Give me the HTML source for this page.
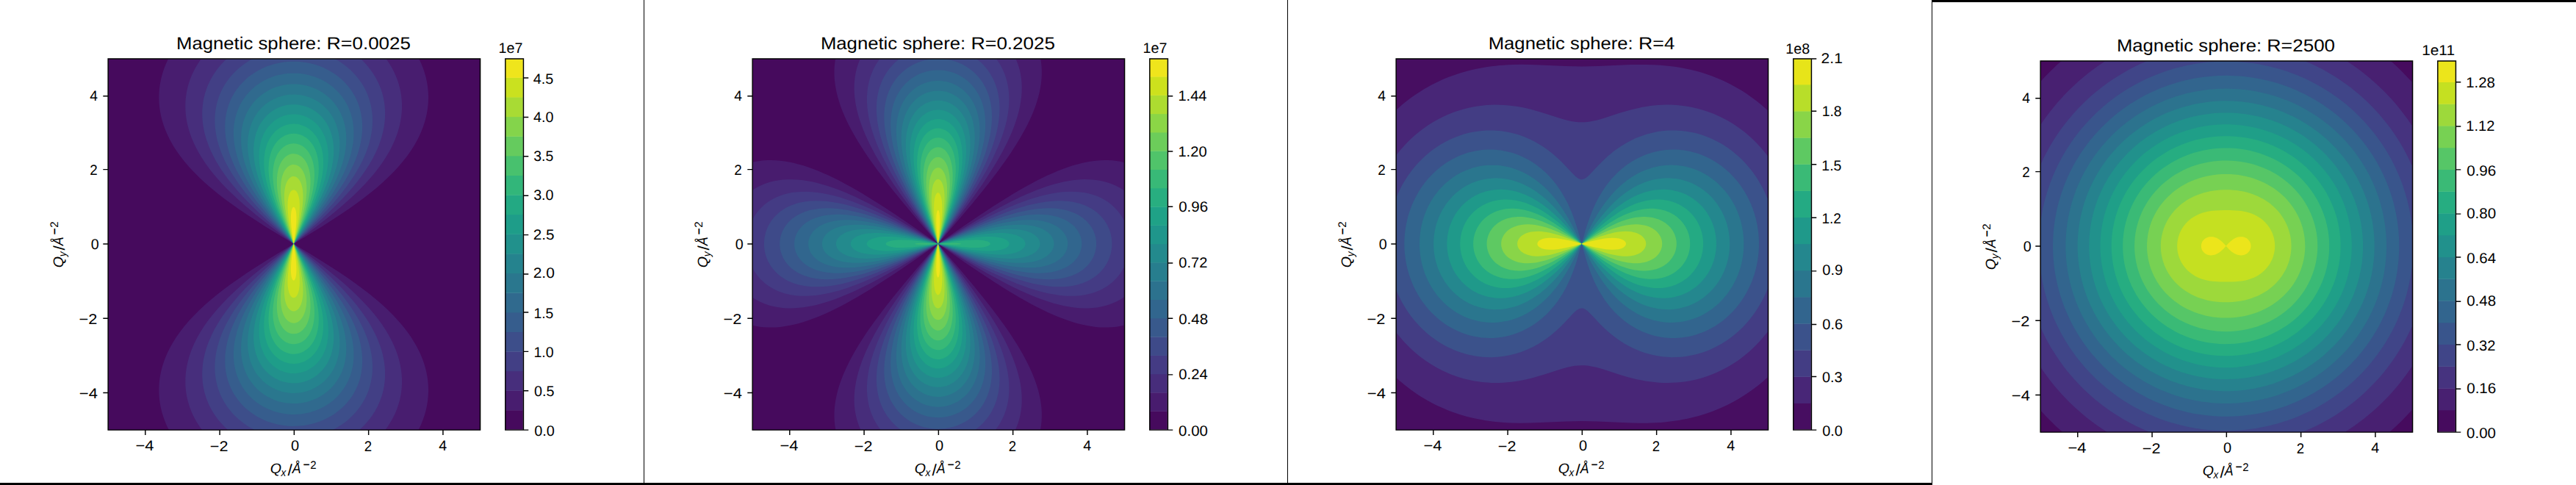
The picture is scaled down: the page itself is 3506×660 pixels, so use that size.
<!DOCTYPE html>
<html><head><meta charset="utf-8"><title>Magnetic sphere</title>
<style>html,body{margin:0;padding:0;background:#fff;overflow:hidden}svg{display:block}text{font-family:"Liberation Sans",sans-serif;fill:#000;text-rendering:geometricPrecision}</style></head>
<body>
<svg width="3506" height="660" viewBox="0 0 3506 660">
<rect width="3506" height="660" fill="#fff"/>
<g transform="translate(0 0) scale(1.36875)">
<rect width="640" height="480" fill="#fff"/>
<clipPath id="c0"><rect x="107.5" y="58.5" width="370" height="369"/><rect x="502.5" y="58.5" width="18" height="369"/></clipPath>
<g clip-path="url(#c0)">
<rect x="107" y="57" width="371" height="371" fill="#460a5d"/>
<path fill="#481d6f" fill-rule="evenodd" d="M167.8 427.2l248.4 0 1.37 -2.77 1.26 -2.78 1.15 -2.77 1.04 -2.78 0.93 -2.77 0.84 -2.78 0.81 -3.08 0.62 -2.77 0.58 -3.09 0.42 -2.77 0.33 -2.77 0.24 -3.09 0.13 -2.77 0.03 -3.08 -0.09 -3.09 -0.18 -2.77 -0.27 -2.77 -0.41 -3.09 -0.47 -2.77 -0.63 -3.08 -0.67 -2.78 -0.85 -3.08 -0.87 -2.78 -1.08 -3.08 -1.08 -2.77 -1.31 -3.08 -1.28 -2.78 -1.39 -2.77 -1.65 -3.09 -1.6 -2.77 -1.7 -2.77 -1.8 -2.78 -1.91 -2.77 -2.01 -2.78 -4.09 -5.24 -4.47 -5.24 -4.86 -5.24 -5.24 -5.24 -5.63 -5.24 -6.37 -5.55 -6.41 -5.24 -6.76 -5.24 -7.11 -5.24 -7.66 -5.39 -8.43 -5.71 -8.22 -5.36 -9.24 -5.87 -12.03 -7.44 -15.41 -9.37 -0.38 -0.32 0 -0.3 0.38 -0.32 15.41 -9.37 12.03 -7.44 10.17 -6.47 8.94 -5.86 7.89 -5.38 7.4 -5.24 7.07 -5.24 6.34 -4.93 6.38 -5.24 6.36 -5.55 5.6 -5.24 5.22 -5.24 4.83 -5.24 4.45 -5.24 4.07 -5.24 3.69 -5.24 1.8 -2.78 1.7 -2.77 1.6 -2.77 1.65 -3.09 1.39 -2.77 1.28 -2.78 1.31 -3.08 1.08 -2.77 1.08 -3.08 0.87 -2.78 0.85 -3.08 0.67 -2.78 0.63 -3.08 0.47 -2.77 0.41 -3.09 0.27 -2.77 0.18 -2.77 0.09 -3.09 -0.03 -3.08 -0.13 -2.77 -0.24 -3.09 -0.33 -2.77 -0.42 -2.77 -0.58 -3.09 -0.62 -2.77 -0.81 -3.08 -0.84 -2.78 -0.93 -2.77 -1.04 -2.78 -1.15 -2.77 -1.26 -2.78 -1.37 -2.77 -248.4 0 -1.37 2.77 -1.26 2.78 -1.15 2.77 -1.04 2.78 -0.93 2.77 -0.84 2.78 -0.81 3.08 -0.62 2.77 -0.58 3.09 -0.42 2.77 -0.33 2.77 -0.24 3.09 -0.13 2.77 -0.03 3.08 0.09 3.09 0.18 2.77 0.27 2.77 0.41 3.09 0.47 2.77 0.63 3.08 0.67 2.78 0.85 3.08 0.87 2.78 1.08 3.08 1.08 2.77 1.31 3.08 1.28 2.78 1.39 2.77 1.65 3.09 1.6 2.77 1.7 2.77 1.8 2.78 1.91 2.77 2.01 2.78 4.09 5.24 4.47 5.24 4.86 5.24 5.24 5.24 5.63 5.24 6.37 5.55 6.41 5.24 6.76 5.24 7.11 5.24 7.66 5.39 8.43 5.71 8.22 5.36 9.24 5.87 12.03 7.44 15.41 9.37 0.38 0.32 0 0.3 -0.38 0.32 -15.41 9.37 -12.03 7.44 -10.17 6.47 -8.94 5.86 -7.89 5.38 -7.4 5.24 -7.07 5.24 -6.34 4.93 -6.38 5.24 -6.36 5.55 -5.6 5.24 -5.22 5.24 -4.83 5.24 -4.45 5.24 -4.07 5.24 -3.69 5.24 -1.8 2.78 -1.7 2.77 -1.6 2.77 -1.65 3.09 -1.39 2.77 -1.28 2.78 -1.31 3.08 -1.08 2.77 -1.08 3.08 -0.87 2.78 -0.85 3.08 -0.67 2.78 -0.63 3.08 -0.47 2.77 -0.41 3.09 -0.27 2.77 -0.18 2.77 -0.09 3.09 0.03 3.08 0.13 2.77 0.24 3.09 0.33 2.77 0.42 2.77 0.58 3.09 0.62 2.77 0.81 3.08 0.84 2.78 0.93 2.77 1.04 2.78 1.15 2.77 1.26 2.78z"/>
<path fill="#472e7c" fill-rule="evenodd" d="M200.49 426.89l0.23 0.31 182.56 0 2.28 -3.17 2.15 -3.3 2 -3.39 1.78 -3.4 1.04 -2.15 1.08 -2.47 0.99 -2.46 0.89 -2.47 0.81 -2.47 0.71 -2.46 0.62 -2.47 0.54 -2.47 0.46 -2.46 0.37 -2.47 0.29 -2.46 0.23 -2.78 0.12 -2.46 0.04 -2.78 -0.04 -2.46 -0.15 -2.78 -0.2 -2.46 -0.33 -2.78 -0.37 -2.46 -0.5 -2.78 -0.6 -2.77 -0.61 -2.47 -0.68 -2.47 -0.86 -2.77 -1.88 -5.24 -2.22 -5.24 -2.38 -4.93 -2.86 -5.24 -3 -4.94 -3.5 -5.24 -3.6 -4.93 -3.89 -4.93 -4.18 -4.93 -4.74 -5.24 -4.74 -4.93 -5.33 -5.24 -5.27 -4.94 -5.86 -5.24 -6.48 -5.55 -6.72 -5.54 -6.55 -5.24 -7.91 -6.17 -9.29 -7.09 -11.86 -8.91 -0.76 -0.65 0 -0.3 0.76 -0.65 13.08 -9.83 9.27 -7.09 8.66 -6.79 8.37 -6.78 6.94 -5.85 5.97 -5.25 6.03 -5.54 5.41 -5.24 5.41 -5.55 5.07 -5.55 4.47 -5.24 4.37 -5.55 4.01 -5.55 3.44 -5.24 3.29 -5.55 1.51 -2.77 1.41 -2.78 1.45 -3.08 1.22 -2.77 1.12 -2.78 1.02 -2.77 0.94 -2.78 0.92 -3.08 0.74 -2.77 0.64 -2.78 0.54 -2.77 0.5 -3.08 0.34 -2.78 0.25 -2.77 0.17 -3.09 0.04 -2.77 -0.05 -2.77 -0.15 -2.78 -0.26 -2.77 -0.35 -2.78 -0.46 -2.77 -0.57 -2.78 -0.67 -2.77 -0.78 -2.77 -0.9 -2.78 -0.89 -2.47 -1.12 -2.77 -1.1 -2.47 -1.35 -2.77 -1.32 -2.47 -1.43 -2.46 -1.54 -2.47 -1.67 -2.46 -1.79 -2.47 -182.56 0 -2.28 3.17 -2.15 3.3 -2 3.39 -1.78 3.4 -1.04 2.15 -1.08 2.47 -0.99 2.46 -0.89 2.47 -0.81 2.47 -0.71 2.46 -0.62 2.47 -0.54 2.47 -0.46 2.46 -0.37 2.47 -0.29 2.46 -0.23 2.78 -0.12 2.46 -0.04 2.78 0.04 2.46 0.15 2.78 0.2 2.46 0.33 2.78 0.37 2.46 0.5 2.78 0.6 2.77 0.61 2.47 0.68 2.47 0.86 2.77 1.88 5.24 2.22 5.24 2.38 4.93 2.86 5.24 3 4.94 3.5 5.24 3.6 4.93 3.89 4.93 4.18 4.93 4.74 5.24 4.74 4.93 5.33 5.24 5.27 4.94 5.86 5.24 6.48 5.55 6.72 5.54 6.55 5.24 7.91 6.17 9.29 7.09 11.86 8.91 0.76 0.65 0 0.3 -0.76 0.65 -13.08 9.83 -9.27 7.09 -8.66 6.79 -8.37 6.78 -6.94 5.85 -5.97 5.25 -6.03 5.54 -5.41 5.24 -5.41 5.55 -5.07 5.55 -4.47 5.24 -4.37 5.55 -4.01 5.55 -3.44 5.24 -3.12 5.24 -1.51 2.77 -1.42 2.78 -1.33 2.77 -1.24 2.78 -1.26 3.08 -1.03 2.77 -0.95 2.78 -0.85 2.77 -0.83 3.09 -0.65 2.77 -0.61 3.08 -0.45 2.78 -0.36 2.77 -0.26 2.78 -0.18 3.08 -0.05 2.77 0.04 2.78 0.14 2.77 0.24 2.77 0.35 2.78 0.44 2.77 0.56 2.78 0.66 2.77 0.77 2.78 0.88 2.77 0.88 2.47 0.98 2.46 1.21 2.78 1.35 2.77 1.3 2.47 1.42 2.46 1.53 2.47 1.64 2.47z"/>
<path fill="#423f85" fill-rule="evenodd" d="M225.98 426.89l0.34 0.31 131.36 0 3.55 -3.39 3.36 -3.63 3.09 -3.76 2.68 -3.71 2.54 -4.01 2.2 -4 2.02 -4.32 1.69 -4.31 1.29 -4.01 1.1 -4.32 0.83 -4.31 0.55 -4.32 0.3 -4.31 0.05 -4.32 -0.2 -4.31 -0.48 -4.63 -0.74 -4.62 -0.93 -4.32 -1.25 -4.62 -1.51 -4.63 -1.75 -4.62 -2.01 -4.62 -2.25 -4.63 -2.5 -4.62 -2.74 -4.63 -2.76 -4.31 -2.97 -4.32 -3.4 -4.62 -3.62 -4.62 -3.83 -4.63 -4.04 -4.62 -4.23 -4.63 -4.42 -4.62 -4.58 -4.62 -5.07 -4.94 -5.56 -5.24 -5.72 -5.24 -6.18 -5.54 -17.94 -15.73 0 -0.3 0.52 -0.5 12.17 -10.6 8.7 -7.71 7.78 -7.09 7.19 -6.78 5.96 -5.86 5.7 -5.85 5.41 -5.86 4.83 -5.55 4.79 -5.86 4.21 -5.54 4.09 -5.86 3.54 -5.55 3.2 -5.55 2.85 -5.55 1.29 -2.77 1.2 -2.78 1.12 -2.77 1.02 -2.77 1.03 -3.09 0.84 -2.77 0.81 -3.08 0.64 -2.78 0.59 -3.08 0.44 -2.77 0.34 -2.78 0.24 -2.77 0.16 -3.09 0.03 -2.77 -0.07 -2.77 -0.18 -2.78 -0.27 -2.77 -0.39 -2.78 -0.5 -2.77 -0.61 -2.78 -0.73 -2.77 -0.75 -2.47 -0.85 -2.46 -1.08 -2.78 -1.2 -2.74 -1.21 -2.5 -1.32 -2.46 -1.44 -2.47 -1.56 -2.47 -1.56 -2.25 -1.77 -2.37 -1.74 -2.16 -1.87 -2.15 -2.01 -2.16 -2.16 -2.16 -1.99 -1.85 -131.36 0 -3.55 3.39 -3.36 3.63 -3.09 3.76 -2.68 3.71 -2.54 4.01 -2.2 4 -2.02 4.32 -1.69 4.31 -1.29 4.01 -1.1 4.32 -0.83 4.31 -0.55 4.32 -0.3 4.31 -0.05 4.32 0.2 4.31 0.48 4.63 0.74 4.62 0.93 4.32 1.25 4.62 1.51 4.63 1.75 4.62 2.01 4.62 2.25 4.63 2.5 4.62 2.74 4.63 2.76 4.31 2.97 4.32 3.4 4.62 3.62 4.62 3.83 4.63 4.04 4.62 4.23 4.63 4.42 4.62 4.58 4.62 5.07 4.94 5.56 5.24 5.72 5.24 6.18 5.54 17.94 15.73 0 0.3 -0.52 0.5 -12.17 10.6 -8.36 7.4 -7.79 7.09 -7.2 6.78 -5.97 5.86 -5.72 5.85 -5.42 5.86 -4.85 5.55 -4.8 5.86 -4.46 5.85 -3.89 5.55 -3.55 5.55 -3.22 5.55 -2.87 5.55 -1.3 2.77 -1.21 2.78 -1.13 2.77 -1.03 2.78 -0.95 2.77 -0.94 3.08 -0.83 3.09 -0.64 2.77 -0.61 3.08 -0.45 2.78 -0.35 2.77 -0.25 2.78 -0.17 3.08 -0.04 2.77 0.06 2.78 0.16 2.77 0.27 2.77 0.37 2.78 0.49 2.77 0.6 2.78 0.72 2.77 0.73 2.47 0.95 2.77 0.95 2.47 1.2 2.77 1.19 2.47 1.3 2.47 1.42 2.46 1.46 2.33 1.56 2.29 1.82 2.47 1.72 2.16 1.85 2.16 1.99 2.15 2.14 2.16z"/>
<path fill="#3d4e8a" fill-rule="evenodd" d="M252.09 426.89l0.59 0.31 78.64 0 3.68 -2.02 3.39 -2.09 3.39 -2.34 3.09 -2.38 2.99 -2.58 2.86 -2.74 2.63 -2.8 2.58 -3.09 2.29 -3.08 2.06 -3.11 1.96 -3.36 1.72 -3.39 1.49 -3.39 1.38 -3.7 1.13 -3.7 0.9 -3.7 0.69 -3.7 0.48 -3.7 0.28 -3.7 0.09 -3.7 -0.1 -3.7 -0.3 -4 -0.52 -4.01 -0.65 -3.7 -0.9 -4.01 -0.99 -3.7 -1.27 -4 -1.44 -4.01 -1.63 -4.01 -1.81 -4.01 -1.98 -4 -2.15 -4.01 -2.32 -4.01 -2.48 -4.01 -2.64 -4 -2.79 -4.01 -2.94 -4.01 -3.33 -4.31 -3.48 -4.32 -3.63 -4.31 -3.77 -4.32 -3.9 -4.32 -4.3 -4.62 -4.71 -4.93 -10.07 -10.17 -14.13 -13.88 0 -0.3 12.89 -12.64 9.2 -9.25 6.24 -6.47 5.45 -5.86 5.77 -6.47 5.21 -6.17 4.91 -6.16 4.37 -5.86 4.25 -6.17 1.99 -3.08 1.89 -3.08 3.33 -5.86 1.61 -3.08 1.37 -2.78 1.27 -2.77 1.33 -3.08 1.21 -3.08 1 -2.78 0.92 -2.77 0.91 -3.09 0.72 -2.77 0.63 -2.77 0.59 -3.09 0.47 -3.08 0.36 -3.08 0.21 -2.78 0.12 -3.08 0 -2.77 -0.13 -3.09 -0.23 -2.77 -0.39 -3.08 -0.46 -2.78 -0.59 -2.77 -0.72 -2.78 -0.81 -2.68 -0.89 -2.56 -1.1 -2.77 -1.11 -2.47 -1.23 -2.46 -1.36 -2.47 -1.5 -2.46 -1.65 -2.47 -1.64 -2.24 -1.9 -2.38 -1.88 -2.16 -2.08 -2.19 -2.15 -2.1 -2.16 -1.93 -2.17 -1.8 -2.46 -1.87 -2.46 -1.73 -2.54 -1.64 -2.7 -1.59 -2.76 -1.49 -78.64 0 -3.68 2.02 -3.39 2.09 -3.39 2.34 -3.09 2.38 -2.99 2.58 -2.86 2.74 -2.63 2.8 -2.58 3.09 -2.29 3.08 -2.06 3.11 -1.96 3.36 -1.72 3.39 -1.49 3.39 -1.38 3.7 -1.13 3.7 -0.9 3.7 -0.69 3.7 -0.48 3.7 -0.28 3.7 -0.09 3.7 0.1 3.7 0.3 4 0.52 4.01 0.65 3.7 0.9 4.01 0.99 3.7 1.27 4 1.44 4.01 1.63 4.01 1.81 4.01 1.98 4 2.15 4.01 2.32 4.01 2.48 4.01 2.64 4 2.79 4.01 2.94 4.01 3.33 4.31 3.48 4.32 3.63 4.31 3.77 4.32 3.9 4.32 4.3 4.62 4.71 4.93 10.07 10.17 14.13 13.88 0 0.3 -12.89 12.64 -9.2 9.25 -5.95 6.17 -5.46 5.85 -5.78 6.48 -5.23 6.16 -4.93 6.17 -4.37 5.85 -4.27 6.17 -3.72 5.85 -3.37 5.86 -1.63 3.08 -1.53 3.09 -1.42 3.08 -1.2 2.77 -1.22 3.09 -1.02 2.77 -0.92 2.78 -0.92 3.08 -0.73 2.77 -0.64 2.78 -0.61 3.08 -0.48 3.08 -0.37 3.08 -0.22 2.78 -0.13 3.08 -0.01 2.78 0.11 3.08 0.22 2.77 0.33 2.78 0.44 2.77 0.56 2.77 0.69 2.78 0.81 2.77 0.95 2.78 1.07 2.74 1.1 2.5 1.22 2.46 1.38 2.54 1.44 2.4 1.63 2.46 1.8 2.47 1.71 2.16 1.86 2.15 2.04 2.19 2.16 2.12 2.15 1.95 2.16 1.81 2.47 1.9 2.46 1.75 2.47 1.61 2.47 1.48z"/>
<path fill="#365d8d" fill-rule="evenodd" d="M286.83 423.5l3.47 0.16 3.7 -0.01 3.7 -0.19 3.39 -0.33 3.39 -0.5 3.4 -0.65 3.39 -0.83 3.39 -1 3.39 -1.18 3.08 -1.24 3.08 -1.42 3.09 -1.61 3.08 -1.81 2.77 -1.83 2.78 -2.04 2.46 -2.01 2.56 -2.31 2.37 -2.39 2.16 -2.41 2.09 -2.6 1.92 -2.66 1.67 -2.58 1.59 -2.78 1.55 -3.08 1.35 -3.08 1.15 -3.08 0.97 -3.09 0.8 -3.08 0.64 -3.08 0.52 -3.39 0.35 -3.39 0.17 -3.39 0.02 -3.09 -0.11 -3.08 -0.24 -3.08 -0.36 -3.08 -0.49 -3.09 -0.66 -3.39 -0.73 -3.08 -0.92 -3.39 -0.96 -3.08 -1.18 -3.39 -1.3 -3.39 -1.42 -3.4 -1.55 -3.39 -1.66 -3.39 -1.78 -3.39 -2.07 -3.7 -2.01 -3.39 -2.11 -3.39 -2.21 -3.39 -2.53 -3.7 -5.14 -7.09 -5.75 -7.4 -6.35 -7.7 -6.94 -8.02 -8.02 -8.94 -11.63 -12.61 -0.3 0 -0.29 0.28 -15.24 16.65 -8.42 9.55 -6.99 8.33 -5.88 7.4 -5.27 7.09 -2.39 3.39 -2.49 3.7 -2.19 3.39 -2.08 3.39 -1.98 3.39 -1.87 3.39 -1.76 3.39 -1.49 3.08 -1.54 3.39 -1.29 3.09 -1.3 3.39 -1.08 3.08 -1.06 3.39 -0.84 3.08 -0.74 3.08 -0.62 3.09 -0.51 3.08 -0.39 3.08 -0.26 3.08 -0.13 2.78 -0.02 3.39 0.13 3.08 0.3 3.39 0.42 3.09 0.58 3.08 0.73 3.08 0.8 2.78 1.04 3.01 1.13 2.84 1.33 2.89 1.4 2.66 1.64 2.78 1.62 2.46 1.82 2.48 2 2.45 2.01 2.24 2.15 2.18 2.47 2.25 2.47 2.04 2.46 1.84 2.47 1.68 2.77 1.7 2.78 1.53 3.08 1.51 3.08 1.33 3.08 1.16 3.09 1.01 3.08 0.85 3.08 0.72 3.39 0.62 3.39 0.47zM291.56 241.94l0.29 0.28 0.3 0 9.09 -9.84 6.17 -6.78 5.48 -6.17 5.06 -5.85 4.39 -5.24 3.24 -4.01 3.15 -4.01 2.8 -3.7 2.71 -3.7 2.39 -3.39 2.49 -3.7 2.19 -3.39 2.26 -3.7 1.97 -3.39 1.86 -3.39 1.75 -3.39 1.63 -3.39 1.52 -3.39 1.39 -3.39 1.27 -3.39 1.04 -3.08 1.02 -3.39 0.82 -3.09 0.76 -3.39 0.58 -3.08 0.46 -3.08 0.34 -3.09 0.21 -3.08 0.09 -3.08 -0.06 -3.39 -0.19 -3.08 -0.38 -3.39 -0.5 -3.09 -0.65 -3.08 -0.82 -3.08 -0.99 -3.08 -1.17 -3.09 -1.36 -3.08 -1.41 -2.77 -1.59 -2.78 -1.67 -2.58 -1.92 -2.66 -1.97 -2.47 -2.2 -2.46 -2.13 -2.16 -2.34 -2.16 -2.6 -2.15 -2.56 -1.92 -2.78 -1.88 -2.77 -1.68 -3.08 -1.67 -3.08 -1.47 -3.09 -1.3 -3.08 -1.13 -3.39 -1.06 -3.08 -0.81 -3.39 -0.73 -3.4 -0.57 -3.39 -0.41 -3.39 -0.25 -3.39 -0.1 -3.39 0.06 -3.39 0.21 -3.39 0.36 -3.39 0.53 -3.39 0.68 -3.08 0.77 -3.4 1.02 -3.08 1.08 -3.08 1.24 -3.08 1.42 -3.09 1.61 -2.77 1.62 -2.77 1.81 -2.69 1.95 -2.55 2.05 -2.47 2.2 -2.26 2.22 -2.26 2.47 -2.03 2.46 -1.83 2.47 -1.79 2.69 -1.54 2.6 -1.55 2.92 -1.33 2.89 -1.22 3.08 -1.04 3.08 -0.87 3.09 -0.7 3.08 -0.54 3.08 -0.43 3.39 -0.24 3.08 -0.1 3.39 0.05 3.09 0.18 3.08 0.3 3.08 0.42 3.09 0.54 3.08 0.66 3.08 0.77 3.08 0.97 3.39 1.11 3.39 1.12 3.09 1.34 3.39 1.47 3.39 1.59 3.39 1.71 3.39 1.82 3.39 1.93 3.39 2.03 3.39 2.14 3.39 4.58 6.79 2.65 3.69 2.76 3.7 5.54 7.09 6.13 7.4 6.67 7.71 7.74 8.63z"/>
<path fill="#306a8e" fill-rule="evenodd" d="M286.65 411.79l3.35 0.19 3.08 0.02 3.08 -0.12 3.08 -0.28 3.09 -0.43 3.08 -0.59 3.08 -0.75 2.78 -0.82 2.77 -0.97 2.77 -1.12 2.78 -1.28 2.77 -1.46 2.75 -1.64 2.49 -1.67 2.47 -1.85 2.16 -1.8 2.16 -1.99 2.15 -2.21 1.93 -2.19 1.77 -2.25 1.69 -2.38 1.56 -2.46 1.39 -2.47 1.37 -2.77 1.2 -2.78 1.02 -2.77 0.87 -2.78 0.8 -3.08 0.62 -3.08 0.47 -3.09 0.31 -3.08 0.17 -3.08 0.03 -2.77 -0.09 -3.09 -0.19 -2.77 -0.34 -3.08 -0.45 -3.09 -0.51 -2.77 -0.67 -3.08 -0.79 -3.09 -0.89 -3.08 -1 -3.08 -1.1 -3.08 -1.32 -3.39 -1.31 -3.09 -1.54 -3.39 -1.5 -3.08 -1.76 -3.39 -3.62 -6.47 -4.17 -6.79 -4.52 -6.78 -5.05 -7.09 -5.58 -7.4 -6.33 -8.01 -8.09 -9.87 -8.77 -10.43 -0.3 0 -0.26 0.26 -12.84 15.42 -7.45 9.24 -6.39 8.33 -5.16 7.09 -4.63 6.78 -4.12 6.47 -3.77 6.47 -1.84 3.4 -1.58 3.08 -1.49 3.08 -1.4 3.08 -1.31 3.09 -1.21 3.08 -1 2.77 -1.02 3.08 -0.83 2.78 -0.81 3.08 -0.71 3.08 -0.54 2.78 -0.45 2.77 -0.35 2.78 -0.24 2.77 -0.15 2.78 -0.04 3.08 0.08 2.77 0.23 3.09 0.33 2.77 0.45 2.77 0.59 2.78 0.72 2.77 0.87 2.78 1.02 2.77 1.06 2.47 1.19 2.46 1.35 2.47 1.45 2.36 1.54 2.26 1.64 2.16 1.81 2.16 2 2.16 1.95 1.89 2.16 1.9 2.16 1.72 2.17 1.58 2.45 1.6 2.46 1.44 2.47 1.29 2.47 1.15 2.77 1.13 2.78 0.99 2.77 0.83 2.77 0.7 2.78 0.57 3.08 0.48zM291.59 241.94l0.26 0.26 0.3 0 0.26 -0.26 5.42 -6.48 6.15 -7.39 5.28 -6.48 4.65 -5.85 4.49 -5.86 5.63 -7.71 4.85 -7.09 2.2 -3.39 2.29 -3.7 2.01 -3.39 1.91 -3.39 1.8 -3.39 1.56 -3.08 1.6 -3.39 1.37 -3.09 1.26 -3.08 1.17 -3.08 1.07 -3.08 0.97 -3.09 0.86 -3.08 0.75 -3.08 0.64 -3.08 0.48 -2.78 0.42 -3.08 0.27 -2.77 0.17 -2.78 0.06 -2.77 -0.06 -3.09 -0.19 -3.08 -0.34 -3.08 -0.44 -2.78 -0.57 -2.77 -0.71 -2.77 -0.85 -2.78 -1.01 -2.77 -1.16 -2.75 -1.21 -2.49 -1.35 -2.47 -1.52 -2.47 -1.7 -2.46 -1.66 -2.16 -1.83 -2.16 -2.14 -2.26 -2.16 -2.04 -2.15 -1.85 -2.16 -1.68 -2.47 -1.72 -2.46 -1.55 -2.47 -1.38 -2.77 -1.38 -2.78 -1.21 -2.77 -1.05 -2.78 -0.9 -2.77 -0.76 -3.08 -0.68 -2.78 -0.48 -3.08 -0.39 -3.08 -0.23 -3.09 -0.08 -3.08 0.06 -3.08 0.22 -3.08 0.37 -2.78 0.47 -3.08 0.67 -2.77 0.74 -2.78 0.88 -2.77 1.04 -2.78 1.19 -2.46 1.2 -2.78 1.52 -2.46 1.53 -2.47 1.7 -2.16 1.65 -2.16 1.82 -2.15 2.02 -1.89 1.95 -1.89 2.15 -1.77 2.25 -1.69 2.38 -1.56 2.46 -1.39 2.47 -1.23 2.47 -1.21 2.77 -1.05 2.77 -0.88 2.78 -0.74 2.77 -0.6 2.78 -0.47 2.77 -0.37 3.08 -0.23 3.09 -0.08 3.08 0.04 2.77 0.15 2.78 0.24 2.77 0.4 3.09 0.45 2.77 0.62 3.08 0.73 3.08 0.75 2.78 0.94 3.08 1.03 3.08 1.15 3.09 1.23 3.08 1.34 3.08 1.43 3.08 1.51 3.09 1.77 3.39 3.67 6.47 4 6.47 4.74 7.09 4.86 6.79 5.59 7.39 5.84 7.4 6.8 8.33z"/>
<path fill="#2a778e" fill-rule="evenodd" d="M287.82 401l2.48 0.13 2.78 0.02 2.77 -0.13 2.78 -0.27 2.77 -0.42 2.78 -0.57 2.77 -0.73 2.47 -0.78 2.46 -0.93 2.47 -1.06 2.46 -1.23 2.16 -1.21 2.3 -1.45 2.18 -1.54 2 -1.57 2.15 -1.89 1.85 -1.81 1.85 -2.01 1.63 -1.97 1.6 -2.16 1.44 -2.16 1.46 -2.46 1.13 -2.16 1.13 -2.47 1 -2.46 0.95 -2.78 0.71 -2.46 0.66 -2.78 0.51 -2.77 0.39 -2.78 0.26 -2.77 0.13 -2.78 0.03 -2.46 -0.07 -2.78 -0.19 -2.77 -0.28 -2.77 -0.38 -2.78 -0.48 -2.77 -0.57 -2.78 -0.66 -2.77 -0.74 -2.78 -0.93 -3.08 -0.92 -2.77 -1.12 -3.09 -1.21 -3.08 -1.3 -3.08 -2.87 -6.17 -3.02 -5.85 -3.66 -6.48 -3.95 -6.47 -4.64 -7.09 -4.69 -6.78 -5.79 -8.02 -7.18 -9.55 -7.3 -9.56 -0.23 -0.23 -0.3 0 -0.23 0.23 -10.1 13.26 -7.08 9.55 -5.89 8.33 -4.55 6.78 -4.09 6.47 -3.8 6.47 -3.33 6.17 -2.87 5.86 -2.56 5.85 -2.24 5.86 -1.8 5.55 -0.77 2.77 -0.69 2.78 -0.6 2.77 -0.51 2.78 -0.41 2.77 -0.29 2.47 -0.23 2.77 -0.11 2.47 -0.03 2.77 0.09 2.78 0.2 2.77 0.29 2.47 0.43 2.69 0.52 2.55 0.62 2.46 0.74 2.47 0.87 2.46 0.94 2.32 1.07 2.31 1.13 2.16 1.27 2.15 1.41 2.16 1.58 2.16 1.56 1.92 1.6 1.78 1.79 1.81 1.85 1.69 1.85 1.54 2.16 1.61 2.03 1.36 2.28 1.38 2.16 1.15 2.16 1.03 2.46 1.03 2.47 0.89 2.47 0.75 2.46 0.62 2.47 0.5 2.46 0.38zM291.62 241.94l0.23 0.23 0.3 0 0.23 -0.23 8.24 -10.79 5.32 -7.09 4.51 -6.17 4.36 -6.16 4.99 -7.4 4.29 -6.78 3.97 -6.78 3.47 -6.48 2.99 -6.16 1.36 -3.08 1.27 -3.09 1.07 -2.77 1.1 -3.08 1 -3.09 0.81 -2.77 0.73 -2.77 0.64 -2.78 0.55 -2.77 0.45 -2.78 0.36 -2.77 0.26 -2.78 0.16 -2.77 0.05 -2.47 -0.05 -2.77 -0.16 -2.78 -0.29 -2.77 -0.41 -2.77 -0.55 -2.78 -0.6 -2.46 -0.73 -2.47 -0.85 -2.47 -1 -2.46 -0.99 -2.17 -1.23 -2.38 -1.31 -2.23 -1.41 -2.16 -1.58 -2.16 -1.56 -1.92 -1.85 -2.05 -1.85 -1.84 -1.85 -1.66 -1.85 -1.51 -2.15 -1.59 -2.22 -1.45 -2.41 -1.41 -2.16 -1.12 -2.46 -1.12 -2.47 -0.98 -2.46 -0.83 -2.47 -0.71 -2.78 -0.64 -2.46 -0.44 -2.78 -0.35 -2.46 -0.19 -2.78 -0.08 -2.77 0.06 -2.47 0.18 -2.77 0.34 -2.47 0.42 -2.77 0.62 -2.47 0.69 -2.46 0.82 -2.47 0.96 -2.47 1.1 -2.21 1.14 -2.41 1.38 -2.14 1.39 -2.13 1.54 -1.89 1.52 -1.85 1.63 -1.85 1.81 -1.85 2.01 -1.63 1.97 -1.6 2.16 -1.4 2.09 -1.32 2.23 -1.15 2.15 -1.16 2.47 -0.99 2.41 -0.89 2.52 -0.74 2.47 -0.62 2.46 -0.57 2.78 -0.42 2.77 -0.3 2.78 -0.18 2.77 -0.06 2.78 0.04 2.46 0.14 2.78 0.22 2.46 0.34 2.78 0.43 2.77 0.53 2.77 0.62 2.78 0.71 2.77 1.67 5.55 1.07 3.08 1.04 2.78 2.45 5.86 2.91 6.16 3.07 5.86 3.52 6.16 3.98 6.48 4.25 6.47 4.69 6.78 5.57 7.71 5.53 7.4z"/>
<path fill="#25838e" fill-rule="evenodd" d="M290.05 390.83l2.41 0.04 2.47 -0.1 2.46 -0.23 2.16 -0.31 2.47 -0.49 2.16 -0.55 2.15 -0.66 2.16 -0.79 2.16 -0.92 2.16 -1.05 2.16 -1.21 1.84 -1.16 1.85 -1.3 1.85 -1.45 1.76 -1.54 1.63 -1.58 1.55 -1.65 1.54 -1.83 1.52 -2.03 1.25 -1.85 1.23 -2.05 1.06 -1.95 1.03 -2.16 1 -2.39 0.8 -2.24 0.76 -2.46 0.63 -2.47 0.51 -2.46 0.4 -2.47 0.29 -2.47 0.19 -2.46 0.1 -2.78 -0.01 -2.46 -0.09 -2.47 -0.18 -2.47 -0.26 -2.46 -0.34 -2.47 -0.47 -2.77 -1.13 -5.24 -1.44 -5.24 -1.83 -5.55 -2.13 -5.55 -2.55 -5.86 -2.67 -5.55 -3.07 -5.85 -3.49 -6.17 -3.9 -6.47 -4.31 -6.78 -4.92 -7.4 -6.15 -8.94 -6.46 -9.25 -0.21 -0.2 -0.3 0 -0.21 0.2 -8.6 12.33 -6.5 9.56 -5.2 8.01 -3.99 6.48 -3.75 6.47 -3.32 6.17 -2.89 5.85 -2.63 5.86 -2.2 5.55 -1.92 5.55 -1.52 5.24 -1.23 5.24 -0.86 4.93 -0.56 4.93 -0.16 2.47 -0.07 2.46 0.02 2.78 0.12 2.46 0.21 2.47 0.32 2.47 0.43 2.46 0.46 2.16 0.65 2.47 0.67 2.15 0.8 2.24 0.93 2.23 0.95 2.01 1.14 2.15 1.3 2.15 1.23 1.84 1.23 1.66 1.45 1.75 1.64 1.8 1.54 1.53 1.54 1.39 1.85 1.5 1.85 1.35 1.85 1.21 1.86 1.09 2.15 1.11 2.15 0.97 2.16 0.85 2.16 0.71 2.16 0.6 2.15 0.48 2.16 0.38 2.47 0.3zM291.64 241.94l0.21 0.2 0.3 0 0.21 -0.2 11.99 -17.26 3.92 -5.86 3.8 -5.86 4.21 -6.78 3.77 -6.47 3.51 -6.48 3.05 -6.16 2.63 -5.86 2.2 -5.55 1.92 -5.55 1.6 -5.54 1.21 -5.25 0.51 -2.77 0.38 -2.47 0.52 -4.93 0.13 -2.46 0.06 -2.47 -0.05 -2.77 -0.14 -2.47 -0.24 -2.47 -0.35 -2.46 -0.45 -2.47 -0.57 -2.46 -0.66 -2.37 -0.74 -2.26 -0.83 -2.16 -0.94 -2.15 -1.07 -2.16 -1.21 -2.16 -1.16 -1.85 -1.3 -1.85 -1.38 -1.79 -1.54 -1.79 -1.54 -1.62 -1.67 -1.58 -1.72 -1.48 -1.85 -1.42 -1.85 -1.28 -2.16 -1.32 -1.85 -1.01 -2.16 -1.03 -2.16 -0.9 -2.15 -0.77 -2.16 -0.65 -2.47 -0.6 -2.16 -0.4 -2.46 -0.33 -2.16 -0.18 -2.47 -0.08 -2.46 0.06 -2.16 0.16 -2.47 0.32 -2.15 0.39 -2.47 0.58 -2.16 0.63 -2.16 0.75 -2.09 0.85 -1.99 0.93 -2.08 1.1 -2.16 1.3 -1.85 1.26 -1.85 1.39 -1.69 1.42 -1.7 1.58 -1.54 1.59 -1.54 1.76 -1.47 1.85 -1.31 1.85 -1.23 1.93 -1.19 2.08 -1.08 2.16 -0.96 2.16 -0.84 2.15 -0.73 2.16 -0.71 2.47 -0.52 2.16 -0.48 2.46 -0.37 2.47 -0.27 2.46 -0.16 2.47 -0.08 2.77 0.04 2.47 0.11 2.47 0.48 4.93 0.79 4.93 1.15 5.24 1.46 5.24 1.85 5.55 2.14 5.55 2.56 5.85 2.84 5.86 2.93 5.55 3.5 6.17 3.72 6.16 4.11 6.47 4.49 6.79 5.28 7.7z"/>
<path fill="#21918c" fill-rule="evenodd" d="M287.32 380.65l2.06 0.2 2.16 0.09 2.16 -0.03 2.15 -0.16 2.16 -0.29 2.16 -0.41 2.16 -0.55 1.85 -0.58 2.15 -0.81 1.85 -0.82 1.85 -0.94 1.85 -1.07 1.68 -1.1 1.71 -1.26 1.83 -1.51 1.56 -1.47 1.55 -1.6 1.33 -1.56 1.43 -1.85 1.24 -1.8 1.16 -1.9 1.01 -1.85 0.92 -1.88 0.9 -2.12 0.8 -2.16 0.68 -2.16 0.58 -2.16 0.48 -2.16 0.39 -2.15 0.33 -2.47 0.23 -2.46 0.13 -2.47 0 -4.62 -0.32 -4.63 -0.64 -4.93 -0.94 -4.93 -1.21 -4.94 -1.56 -5.24 -1.82 -5.24 -2.19 -5.54 -2.45 -5.55 -2.82 -5.86 -3.04 -5.86 -3.42 -6.16 -3.96 -6.78 -4.34 -7.09 -5.25 -8.33 -5.53 -8.63 -0.18 -0.17 -0.3 0 -0.18 0.17 -6.12 9.56 -6.19 9.86 -4.99 8.33 -3.51 6.16 -3.16 5.86 -2.79 5.55 -2.58 5.54 -2.23 5.25 -1.99 5.24 -1.66 4.93 -1.41 4.93 -1.16 4.93 -0.84 4.63 -0.57 4.62 -0.29 4.32 0 4.62 0.13 2.47 0.19 2.15 0.28 2.16 0.36 2.16 0.45 2.16 0.47 1.85 0.63 2.15 0.64 1.85 0.72 1.85 0.81 1.85 0.92 1.85 1.03 1.85 0.98 1.59 1.24 1.8 1.22 1.6 1.24 1.46 1.23 1.33 1.54 1.5 1.54 1.35 1.54 1.22 1.55 1.1 1.84 1.16 1.55 0.87 1.84 0.92 1.85 0.8 1.85 0.68 1.85 0.58 1.85 0.48 1.85 0.38zM291.67 241.94l0.18 0.17 0.3 0 0.18 -0.17 10.21 -16.03 3.61 -5.86 3.12 -5.24 3.7 -6.47 3.49 -6.48 2.93 -5.85 2.69 -5.86 2.31 -5.55 1.94 -5.24 1.68 -5.24 1.34 -4.93 1.08 -4.93 0.79 -4.94 0.46 -4.62 0.18 -4.62 -0.04 -2.47 -0.13 -2.47 -0.23 -2.46 -0.28 -2.16 -0.38 -2.16 -0.46 -2.15 -0.57 -2.16 -0.67 -2.16 -0.78 -2.16 -0.76 -1.85 -1.02 -2.16 -0.99 -1.84 -1.11 -1.85 -1.15 -1.72 -1.23 -1.66 -1.24 -1.49 -1.23 -1.36 -1.54 -1.54 -1.54 -1.37 -1.68 -1.35 -1.71 -1.22 -1.55 -0.99 -1.85 -1.05 -1.84 -0.92 -1.85 -0.8 -1.85 -0.68 -1.85 -0.58 -2.16 -0.55 -1.85 -0.36 -2.16 -0.31 -1.85 -0.15 -2.16 -0.08 -2.15 0.06 -1.85 0.14 -2.16 0.29 -1.85 0.34 -2.16 0.53 -1.85 0.56 -1.85 0.67 -1.87 0.79 -1.83 0.89 -1.85 1.03 -1.84 1.16 -1.55 1.1 -1.54 1.22 -1.58 1.38 -1.5 1.47 -1.48 1.61 -1.3 1.56 -1.23 1.66 -1.15 1.72 -1.11 1.85 -0.99 1.84 -0.88 1.85 -0.8 1.9 -0.78 2.11 -0.68 2.16 -0.58 2.16 -0.48 2.16 -0.39 2.15 -0.3 2.16 -0.24 2.47 -0.13 2.15 -0.06 2.47 0.14 4.62 0.42 4.63 0.7 4.62 1.03 4.93 1.29 4.94 1.64 5.24 1.89 5.24 2.14 5.24 2.35 5.24 2.7 5.55 3.06 5.85 3.44 6.17 3.61 6.16 3.76 6.17 4.26 6.78z"/>
<path fill="#1e9d89" fill-rule="evenodd" d="M288.97 371.1l1.64 0.11 1.85 0.03 1.85 -0.08 1.85 -0.19 1.85 -0.31 1.85 -0.42 1.85 -0.55 1.54 -0.55 1.85 -0.78 1.54 -0.76 1.54 -0.87 1.54 -0.98 1.55 -1.11 1.54 -1.26 1.34 -1.22 1.43 -1.47 1.23 -1.41 1.24 -1.57 1.2 -1.72 0.96 -1.53 0.92 -1.66 0.87 -1.74 0.81 -1.85 0.72 -1.85 0.68 -2.06 0.55 -1.95 0.45 -1.85 0.42 -2.15 0.34 -2.16 0.24 -2.16 0.25 -4.31 -0.04 -4.32 -0.3 -4.32 -0.55 -4.31 -0.84 -4.63 -1.07 -4.62 -1.38 -4.93 -1.61 -4.93 -1.94 -5.24 -2.15 -5.24 -2.35 -5.24 -2.81 -5.86 -2.84 -5.55 -3.32 -6.16 -3.63 -6.48 -4.99 -8.63 -4.34 -7.4 -0.15 -0.14 -0.3 0 -0.15 0.14 -4.34 7.4 -5.87 10.17 -4.59 8.33 -3.07 5.85 -2.9 5.86 -2.56 5.55 -2.24 5.24 -1.91 4.93 -1.72 4.93 -1.41 4.63 -1.21 4.62 -0.98 4.62 -0.69 4.32 -0.47 4.32 -0.2 4 0.04 4.32 0.34 4.31 0.62 4.01 0.86 3.7 0.55 1.85 0.64 1.85 1.41 3.39 0.87 1.74 0.92 1.65 1.85 2.84 1.13 1.48 1.03 1.24 1.23 1.33 1.24 1.21 1.3 1.15 1.47 1.17 1.4 0.99 1.46 0.92 1.46 0.82 1.54 0.76 1.54 0.66 1.85 0.67 1.54 0.46 1.85 0.45 1.54 0.28zM291.7 241.94l0.15 0.14 0.3 0 0.15 -0.14 8.63 -14.8 5.84 -10.48 3.4 -6.47 2.9 -5.86 2.56 -5.55 2.36 -5.55 2.02 -5.24 1.69 -4.93 1.47 -4.93 1.16 -4.63 0.93 -4.62 0.65 -4.31 0.41 -4.32 0.16 -4.32 -0.12 -4.31 -0.18 -2.16 -0.26 -2.16 -0.71 -4 -0.53 -2.16 -0.53 -1.85 -0.62 -1.85 -0.72 -1.85 -0.75 -1.73 -0.82 -1.66 -1.03 -1.85 -0.93 -1.49 -1.1 -1.59 -1.06 -1.38 -1.23 -1.44 -1.23 -1.31 -1.24 -1.17 -1.36 -1.18 -1.41 -1.09 -1.54 -1.06 -1.54 -0.93 -1.54 -0.83 -1.55 -0.72 -1.85 -0.73 -1.54 -0.52 -1.85 -0.5 -1.54 -0.33 -1.85 -0.29 -1.85 -0.17 -1.85 -0.07 -1.85 0.05 -1.54 0.12 -1.85 0.25 -1.76 0.35 -1.63 0.41 -1.85 0.59 -1.54 0.58 -1.54 0.68 -1.54 0.79 -1.54 0.89 -1.54 1 -1.54 1.14 -1.55 1.29 -1.23 1.15 -1.23 1.27 -1.23 1.41 -1.14 1.44 -1.02 1.44 -1.05 1.64 -0.89 1.54 -0.84 1.63 -0.8 1.76 -0.75 1.85 -0.65 1.85 -0.57 1.88 -0.55 2.13 -0.39 1.85 -0.37 2.16 -0.29 2.15 -0.2 2.16 -0.16 4.32 0.1 4 0.36 4.32 0.6 4.32 0.88 4.62 1.12 4.62 1.43 4.94 1.65 4.93 1.85 4.93 2.05 4.93 2.35 5.24 2.67 5.55 2.84 5.55 2.98 5.55 3.44 6.16z"/>
<path fill="#23a983" fill-rule="evenodd" d="M289.82 361.54l1.72 0.09 1.54 -0.02 1.54 -0.11 1.54 -0.21 1.54 -0.31 1.54 -0.4 1.55 -0.52 1.23 -0.49 1.54 -0.71 1.23 -0.66 1.54 -0.96 1.24 -0.86 1.23 -0.97 1.23 -1.09 1.24 -1.22 1.01 -1.11 1.14 -1.41 0.93 -1.27 0.92 -1.4 0.87 -1.47 1.54 -3.09 0.68 -1.62 0.64 -1.77 0.58 -1.85 0.49 -1.85 0.75 -3.69 0.5 -4.01 0.21 -4.01 -0.04 -3.7 -0.25 -4.01 -0.47 -4 -0.72 -4.32 -0.93 -4.31 -1.2 -4.63 -1.39 -4.62 -1.58 -4.63 -1.73 -4.62 -2.01 -4.93 -2.3 -5.24 -2.44 -5.24 -2.87 -5.86 -3.3 -6.47 -8.03 -15.11 -0.12 -0.11 -0.3 0 -0.12 0.11 -7.7 14.49 -5.01 9.86 -2.8 5.86 -2.37 5.24 -2.08 4.93 -1.93 4.94 -1.65 4.62 -1.49 4.62 -1.21 4.32 -1.03 4.32 -0.84 4.31 -0.59 4.01 -0.39 4.01 -0.17 3.69 0.05 4.01 0.32 4.01 0.56 3.7 0.77 3.39 1.05 3.39 1.24 3.08 1.4 2.78 0.87 1.47 0.92 1.4 1.85 2.41 1.06 1.19 1.1 1.12 1.23 1.12 1.23 1 1.24 0.89 1.23 0.79 1.23 0.71 1.55 0.76 1.23 0.53 1.54 0.55 2.77 0.74 1.55 0.27zM291.73 241.94l0.12 0.11 0.3 0 0.12 -0.11 7.38 -13.87 4.72 -9.25 2.98 -6.17 2.53 -5.55 2.35 -5.54 2.05 -5.24 1.64 -4.63 1.47 -4.62 1.28 -4.63 1 -4.31 0.81 -4.32 0.57 -4 0.35 -4.01 0.14 -4.01 -0.11 -4.01 -0.38 -4 -0.63 -3.7 -0.84 -3.39 -1.14 -3.39 -1.33 -3.09 -0.8 -1.54 -0.89 -1.54 -1 -1.54 -0.9 -1.23 -1.02 -1.28 -1.06 -1.19 -1.1 -1.12 -1.23 -1.12 -1.23 -1 -1.24 -0.89 -1.25 -0.8 -1.52 -0.86 -1.24 -0.6 -1.54 -0.65 -1.54 -0.53 -1.54 -0.43 -2.77 -0.52 -1.54 -0.15 -1.55 -0.06 -1.54 0.04 -1.54 0.13 -2.77 0.49 -1.54 0.4 -1.55 0.52 -1.54 0.62 -1.23 0.58 -1.54 0.84 -1.23 0.78 -1.24 0.86 -1.23 0.97 -1.23 1.09 -1.12 1.1 -1.04 1.14 -1.1 1.33 -1.06 1.44 -0.88 1.33 -1.58 2.8 -1.39 3.06 -1.19 3.39 -0.9 3.39 -0.67 3.7 -0.43 4.01 -0.15 4 0.09 3.7 0.3 4.01 0.52 4.01 0.76 4.31 0.97 4.32 1.15 4.31 1.42 4.63 1.6 4.62 1.75 4.63 2.03 4.93 2.32 5.24 2.45 5.24 2.73 5.55 2.83 5.55z"/>
<path fill="#32b67a" fill-rule="evenodd" d="M291.66 351.99l1.42 -0.03 1.23 -0.11 2.47 -0.44 1.23 -0.34 1.23 -0.43 1.24 -0.51 1.23 -0.61 2.16 -1.31 1.23 -0.91 1.03 -0.86 1.13 -1.06 0.92 -0.98 1.85 -2.28 1.61 -2.46 1.45 -2.78 1.15 -2.77 0.98 -3.09 0.74 -3.08 0.55 -3.39 0.33 -3.39 0.12 -3.7 -0.07 -3.39 -0.27 -3.7 -0.45 -3.7 -0.6 -3.7 -0.82 -4 -0.98 -4.01 -1.21 -4.32 -1.36 -4.31 -1.5 -4.32 -1.74 -4.62 -1.86 -4.63 -2.1 -4.93 -2.49 -5.55 -2.72 -5.85 -6.55 -13.57 -0.09 -0.09 -0.3 0 -0.09 0.09 -6.55 13.57 -4.12 8.94 -2.41 5.54 -2.03 4.94 -1.9 4.93 -1.64 4.62 -1.39 4.32 -1.25 4.31 -1.01 4.01 -0.86 4.01 -0.68 4.01 -0.48 3.69 -0.29 3.7 -0.11 3.39 0.09 3.7 0.32 3.7 0.53 3.39 0.71 3.09 0.96 3.08 1.12 2.77 1.35 2.66 1.54 2.45 1.77 2.29 1.93 2 0.92 0.82 1.24 0.98 2.15 1.41 1.24 0.66 1.23 0.56 1.23 0.47 1.24 0.38 2.46 0.52 1.23 0.15zM291.76 241.94l0.09 0.09 0.3 0 0.09 -0.09 6.25 -12.95 4 -8.63 2.44 -5.55 2.3 -5.55 1.9 -4.93 1.76 -4.93 1.39 -4.32 1.25 -4.31 1.08 -4.32 0.84 -4.01 0.68 -4 0.46 -3.7 0.28 -3.7 0.09 -3.39 -0.1 -3.7 -0.31 -3.39 -0.53 -3.39 -0.75 -3.21 -0.92 -2.96 -1.23 -3.02 -1.3 -2.53 -1.57 -2.46 -1.76 -2.25 -0.92 -1 -1.1 -1.07 -1.06 -0.92 -1.22 -0.93 -2.17 -1.37 -1.23 -0.64 -1.24 -0.53 -1.23 -0.45 -1.23 -0.36 -2.47 -0.49 -2.47 -0.17 -2.46 0.14 -2.47 0.44 -1.23 0.34 -1.23 0.43 -1.24 0.51 -1.23 0.61 -2.16 1.31 -1.23 0.91 -1.03 0.86 -1.13 1.06 -0.92 0.98 -1.85 2.28 -1.61 2.46 -1.45 2.78 -1.15 2.77 -0.98 3.09 -0.74 3.08 -0.55 3.39 -0.33 3.39 -0.12 3.7 0.07 3.39 0.27 3.7 0.45 3.7 0.6 3.7 0.82 4 0.98 4.01 1.21 4.32 1.36 4.31 1.5 4.32 1.74 4.62 1.86 4.63 2.1 4.93 4.63 10.17z"/>
<path fill="#48c16e" fill-rule="evenodd" d="M290.87 342.12l2.21 0.01 2.16 -0.31 2.15 -0.62 1.24 -0.51 0.92 -0.45 1.85 -1.14 1.85 -1.47 0.93 -0.88 0.92 -0.99 1.54 -1.96 1.36 -2.16 1.25 -2.47 0.99 -2.46 0.87 -2.78 0.65 -2.77 0.5 -3.08 0.3 -3.09 0.13 -3.39 -0.04 -3.08 -0.2 -3.39 -0.36 -3.39 -0.49 -3.39 -0.68 -3.7 -0.81 -3.7 -0.93 -3.7 -1.13 -4.01 -1.25 -4 -1.46 -4.32 -1.56 -4.31 -1.77 -4.63 -4.18 -10.17 -5.68 -13.01 -0.3 0 -0.06 0.06 -5.23 12.02 -3.34 8.02 -2.07 5.24 -1.72 4.62 -1.52 4.32 -1.4 4.31 -1.18 4.01 -0.99 3.7 -0.87 3.7 -0.75 3.7 -0.6 3.7 -0.42 3.39 -0.28 3.39 -0.11 3.08 0.05 3.39 0.21 3.09 0.4 3.08 0.54 2.77 0.74 2.78 0.85 2.46 1.1 2.5 1.23 2.25 1.38 2.03 1.55 1.85 1.7 1.64 1.85 1.41 1.85 1.09 1.06 0.49 1.09 0.42 1.85 0.51zM291.79 241.94l0.06 0.06 0.3 0 0.06 -0.06 4.96 -11.41 3.36 -8.01 2.08 -5.24 1.85 -4.94 1.63 -4.62 1.49 -4.62 1.18 -4.01 1.06 -4.01 0.85 -3.7 0.72 -3.7 0.58 -3.69 0.39 -3.4 0.25 -3.39 0.08 -3.08 -0.08 -3.39 -0.24 -3.08 -0.44 -3.08 -0.58 -2.78 -0.79 -2.77 -0.91 -2.47 -1.15 -2.47 -1.24 -2.15 -1.54 -2.15 -1.54 -1.73 -1.85 -1.66 -1.85 -1.3 -1.85 -0.98 -2.16 -0.82 -2.16 -0.48 -2.16 -0.17 -2.15 0.13 -2.16 0.44 -2.16 0.76 -1.85 0.94 -1.85 1.24 -1.85 1.59 -1.54 1.66 -1.54 2.06 -1.23 2.02 -1.24 2.52 -0.93 2.4 -0.84 2.77 -0.63 2.78 -0.47 3.08 -0.29 3.08 -0.11 3.39 0.05 3.09 0.22 3.39 0.37 3.39 0.5 3.39 0.69 3.7 0.82 3.7 0.94 3.7 1.14 4 1.26 4.01 1.36 4.01 1.56 4.31 1.77 4.63 3.92 9.55z"/>
<path fill="#65cb5e" fill-rule="evenodd" d="M291.08 331.95l1.69 0.01 1.85 -0.28 1.85 -0.59 1.54 -0.75 1.54 -1.03 1.54 -1.33 1.24 -1.34 1.31 -1.78 1.15 -1.94 0.93 -1.93 0.88 -2.3 0.73 -2.46 0.55 -2.49 0.42 -2.75 0.27 -2.78 0.12 -3.08 -0.02 -2.77 -0.16 -3.09 -0.29 -3.08 -0.4 -3.08 -0.55 -3.39 -0.6 -3.09 -0.76 -3.39 -0.93 -3.7 -2.04 -7.08 -2.75 -8.33 -3.37 -9.25 -4.67 -12.05 -0.34 0.03 -3.93 10.17 -2.75 7.4 -1.64 4.63 -1.55 4.62 -1.25 4.01 -1.17 4.01 -0.98 3.69 -0.88 3.7 -0.7 3.39 -0.55 3.09 -0.45 3.08 -0.34 3.08 -0.22 3.08 -0.09 2.78 0.04 3.08 0.18 2.78 0.34 2.77 0.44 2.47 0.62 2.46 0.69 2.16 0.87 2.16 0.93 1.85 1.02 1.67 1.29 1.72 1.48 1.56 1.46 1.21 1.63 1.03 1.54 0.7 1.54 0.47zM291.81 241.94l0.38 0 3.69 -9.56 2.77 -7.4 1.75 -4.93 1.56 -4.62 1.35 -4.32 1.25 -4.31 0.97 -3.7 0.81 -3.39 0.7 -3.39 0.6 -3.4 0.47 -3.39 0.32 -3.08 0.2 -3.08 0.06 -2.78 -0.07 -3.08 -0.21 -2.77 -0.38 -2.78 -0.46 -2.39 -0.62 -2.35 -0.8 -2.35 -0.93 -2.15 -1.04 -1.93 -1.24 -1.84 -1.23 -1.49 -1.24 -1.22 -1.58 -1.23 -1.59 -0.93 -1.76 -0.71 -1.54 -0.38 -1.85 -0.18 -1.85 0.13 -1.54 0.34 -1.85 0.7 -1.54 0.86 -1.54 1.14 -1.27 1.19 -1.32 1.54 -1.28 1.85 -1.06 1.92 -0.93 2.07 -0.77 2.17 -0.68 2.47 -0.5 2.47 -0.39 2.77 -0.23 2.77 -0.09 3.09 0.05 2.77 0.18 3.08 0.31 3.09 0.42 3.08 0.52 3.08 0.67 3.39 0.78 3.39 0.95 3.7 2.16 7.4 2.57 7.71 3.26 8.94z"/>
<path fill="#84d44b" fill-rule="evenodd" d="M291.04 321.16l1.42 0.05 1.24 -0.17 1.54 -0.49 1.23 -0.64 1.23 -0.88 1.24 -1.16 0.92 -1.09 1.01 -1.48 0.85 -1.54 0.91 -2.09 0.66 -1.92 0.57 -2.15 0.43 -2.16 0.34 -2.47 0.2 -2.46 0.09 -2.47 -0.01 -2.47 -0.1 -2.46 -0.22 -2.78 -0.31 -2.77 -0.39 -2.77 -0.52 -3.09 -1.35 -6.47 -1.56 -6.17 -2.13 -7.39 -2.45 -7.71 -3.73 -11.1 -0.31 0 -4.92 14.8 -2.52 8.32 -2.05 7.71 -1.37 6.16 -1.01 5.86 -0.37 2.77 -0.27 2.78 -0.17 2.46 -0.08 2.47 0.01 2.47 0.12 2.46 0.24 2.47 0.32 2.16 0.44 2.15 0.54 1.98 0.62 1.79 0.76 1.78 0.78 1.47 0.92 1.44 0.93 1.17 1.23 1.24 1.23 0.94 1.24 0.7 1.23 0.47zM291.84 241.94l0.32 0 4.92 -14.8 2.61 -8.63 1.1 -4.01 0.94 -3.7 1.41 -6.47 0.98 -5.86 0.35 -2.77 0.25 -2.78 0.15 -2.46 0.06 -2.47 -0.04 -2.46 -0.15 -2.47 -0.26 -2.39 -0.36 -2.23 -0.49 -2.16 -0.64 -2.16 -0.66 -1.76 -0.77 -1.63 -0.89 -1.54 -1.11 -1.54 -0.93 -1.04 -1.24 -1.09 -1.23 -0.81 -1.23 -0.58 -1.23 -0.37 -1.55 -0.18 -1.54 0.12 -1.23 0.32 -1.23 0.52 -1.24 0.76 -1.23 1.01 -1.23 1.32 -0.93 1.26 -0.92 1.53 -0.89 1.85 -0.65 1.71 -0.61 1.99 -0.44 1.85 -0.39 2.16 -0.31 2.46 -0.17 2.47 -0.07 2.47 0.04 2.46 0.12 2.47 0.24 2.77 0.33 2.78 0.94 5.85 1.24 5.86 1.56 6.17 2.13 7.39 2.45 7.71z"/>
<path fill="#a8db34" fill-rule="evenodd" d="M291.45 309.45l1.01 0.01 0.93 -0.18 0.92 -0.35 1.16 -0.72 0.72 -0.61 0.9 -1 0.81 -1.16 0.73 -1.31 0.61 -1.38 0.58 -1.63 0.43 -1.54 0.4 -1.85 0.3 -1.85 0.21 -1.85 0.15 -2.15 0.06 -2.16 -0.11 -4.32 -0.39 -4.62 -0.67 -4.93 -0.93 -5.24 -1.26 -5.86 -1.52 -6.17 -1.87 -6.94 -2.47 -8.66 -0.3 0 -3.11 10.98 -2.13 8.23 -1.55 6.78 -1.01 5.33 -0.77 5.24 -0.46 4.63 -0.18 4.31 0.01 2.16 0.09 2.16 0.16 1.85 0.24 1.85 0.33 1.85 0.36 1.56 0.45 1.52 0.57 1.54 0.72 1.54 0.73 1.24 0.67 0.92 0.87 0.95 0.92 0.76 0.93 0.55 0.92 0.35zM291.79 241.63l0.06 0.19 0.3 0 2.47 -8.66 2.47 -9.3 1.8 -7.82 1.06 -5.54 0.77 -5.24 0.46 -4.63 0.19 -4.62 -0.03 -2.16 -0.11 -2.16 -0.16 -1.85 -0.28 -2.03 -0.32 -1.67 -0.47 -1.85 -0.45 -1.41 -0.61 -1.56 -0.62 -1.24 -0.83 -1.34 -0.71 -0.91 -0.93 -0.93 -0.92 -0.69 -0.93 -0.48 -0.92 -0.29 -0.93 -0.12 -0.92 0.06 -0.93 0.23 -0.92 0.42 -0.92 0.61 -0.93 0.85 -0.8 0.95 -0.74 1.1 -0.73 1.36 -0.54 1.24 -0.58 1.67 -0.47 1.72 -0.38 1.85 -0.28 1.85 -0.2 1.85 -0.13 2.15 -0.05 2.16 0.13 4.32 0.41 4.62 0.66 4.83 0.9 5.03 1.26 5.86 1.52 6.17 1.87 6.94z"/>
<path fill="#cae11f" fill-rule="evenodd" d="M291.16 295.88l0.69 0.14 0.61 -0.04 0.62 -0.18 0.62 -0.35 0.61 -0.51 0.62 -0.71 0.61 -0.95 0.4 -0.79 0.51 -1.23 0.33 -1.01 0.61 -2.65 0.41 -3.12 0.18 -3.39 -0.03 -3.39 -0.22 -3.7 -0.37 -3.7 -0.58 -4.33 -0.93 -5.48 -0.91 -4.68 -1.24 -5.87 -1.55 -6.82 -0.3 0 -0.93 4.05 -1.85 8.57 -1.24 6.54 -0.74 4.63 -0.56 4.31 -0.35 4.01 -0.16 3.7 0.04 3.39 0.23 3.08 0.37 2.47 0.56 2.38 0.33 1.01 0.51 1.23 0.4 0.79 0.47 0.75 0.45 0.58 0.62 0.61 0.61 0.43zM291.83 241.63l0.02 0.05 0.3 0 0.93 -4.06 1.86 -8.63 1.44 -7.71 0.71 -4.6 0.47 -4.03 0.3 -3.7 0.13 -3.69 -0.08 -3.4 -0.27 -3.08 -0.49 -2.77 -0.68 -2.41 -0.39 -0.98 -0.54 -1.1 -0.92 -1.33 -0.62 -0.61 -0.61 -0.43 -0.62 -0.26 -0.62 -0.11 -0.61 0.04 -0.62 0.18 -0.62 0.35 -0.61 0.51 -0.93 1.15 -0.56 0.99 -0.41 0.92 -0.72 2.16 -0.57 2.78 -0.35 3.08 -0.14 3.39 0.05 3.08 0.23 3.7 0.39 3.7 0.59 4.32 0.88 5.18 0.92 4.75z"/>
<path fill="#efe51c" fill-rule="evenodd" d="M291.36 278.62l0.49 0.25 0.3 0 0.31 -0.12 0.31 -0.23 0.31 -0.37 0.31 -0.53 0.31 -0.72 0.39 -1.36 0.34 -1.85 0.21 -1.85 0.12 -2.47 -0.07 -4.62 -0.38 -5.24 -0.92 -7.73 -1.24 -8.35 -0.3 0 -1.55 10.67 -0.72 6.64 -0.2 2.78 -0.13 3.08 -0.02 2.16 0.07 2.15 0.15 1.85 0.24 1.73 0.31 1.42 0.3 0.99 0.31 0.72 0.31 0.53zM291.84 241.32l0.01 0.05 0.3 0 1.55 -10.67 0.51 -4.48 0.28 -3.09 0.2 -3.08 0.08 -2.77 -0.03 -2.47 -0.12 -2.07 -0.23 -1.94 -0.3 -1.54 -0.39 -1.36 -0.35 -0.8 -0.27 -0.45 -0.31 -0.37 -0.31 -0.23 -0.31 -0.12 -0.3 0 -0.31 0.12 -0.31 0.23 -0.31 0.37 -0.54 1.07 -0.38 1.17 -0.31 1.42 -0.24 1.73 -0.15 1.85 -0.07 2.15 0.11 4.63 0.38 4.93 0.89 7.42z"/>
<rect x="501.6" y="407.75" width="18.48" height="19.45" fill="#460a5d"/>
<rect x="501.6" y="388.29" width="18.48" height="19.75" fill="#481d6f"/>
<rect x="501.6" y="368.84" width="18.48" height="19.75" fill="#472e7c"/>
<rect x="501.6" y="349.39" width="18.48" height="19.75" fill="#423f85"/>
<rect x="501.6" y="329.94" width="18.48" height="19.75" fill="#3d4e8a"/>
<rect x="501.6" y="310.48" width="18.48" height="19.75" fill="#365d8d"/>
<rect x="501.6" y="291.03" width="18.48" height="19.75" fill="#306a8e"/>
<rect x="501.6" y="271.58" width="18.48" height="19.75" fill="#2a778e"/>
<rect x="501.6" y="252.13" width="18.48" height="19.75" fill="#25838e"/>
<rect x="501.6" y="232.67" width="18.48" height="19.75" fill="#21918c"/>
<rect x="501.6" y="213.22" width="18.48" height="19.75" fill="#1e9d89"/>
<rect x="501.6" y="193.77" width="18.48" height="19.75" fill="#23a983"/>
<rect x="501.6" y="174.32" width="18.48" height="19.75" fill="#32b67a"/>
<rect x="501.6" y="154.86" width="18.48" height="19.75" fill="#48c16e"/>
<rect x="501.6" y="135.41" width="18.48" height="19.75" fill="#65cb5e"/>
<rect x="501.6" y="115.96" width="18.48" height="19.75" fill="#84d44b"/>
<rect x="501.6" y="96.51" width="18.48" height="19.75" fill="#a8db34"/>
<rect x="501.6" y="77.05" width="18.48" height="19.75" fill="#cae11f"/>
<rect x="501.6" y="57.6" width="18.48" height="19.75" fill="#efe51c"/>
</g>
<path d="M107.5 58.5H477.5V427.5H107.5ZM502.5 58.5H520.5V427.5H502.5ZM144.5 428v4.5M218.5 428v4.5M292.5 428v4.5M366.5 428v4.5M440.5 428v4.5M107 95.5h-4.5M107 168.5h-4.5M107 242.5h-4.5M107 316.5h-4.5M107 390.5h-4.5M521 77.5h4.5M521 116.5h4.5M521 155.5h4.5M521 194.5h4.5M521 233.5h4.5M521 272.5h4.5M521 310.5h4.5M521 349.5h4.5M521 388.5h4.5M521 427.5h4.5" stroke="#000" stroke-width="1.06" fill="none"/>
<text transform="translate(175.32 49.27) scale(1.0837 1)" font-size="17.33">Magnetic</text>
<text transform="translate(256.81 49.27) scale(1.0842 1)" font-size="17.33">sphere:</text>
<text transform="translate(324.76 49.27) scale(1.1296 1)" font-size="17.33">R=</text>
<text transform="translate(350.33 49.27) scale(1.0948 1)" font-size="17.33">0.0025</text>
<g transform="translate(267.83 470.82)"><text transform="translate(0.92 -0.04) scale(1.0278 1)" font-size="13.98" font-style="italic">Q</text><text transform="translate(11.59 2.8) scale(0.928 1)" font-size="10.6" font-style="italic">x</text><text transform="translate(18.2 1.65) scale(1.0482 1)" font-size="15.8">/</text><text transform="translate(22.84 0) scale(0.8848 1)" font-size="14.67" font-style="italic">Å</text><text transform="translate(33.63 -2.9) scale(0.6848 1)" font-size="16.83">−</text><text transform="translate(40.65 -5) scale(0.9825 1)" font-size="11.17">2</text></g>
<g transform="translate(62.85 267.01) rotate(-90)"><text transform="translate(0.92 -0.04) scale(1.0278 1)" font-size="13.98" font-style="italic">Q</text><text transform="translate(11.77 2.87) scale(0.9361 1)" font-size="10.74" font-style="italic">y</text><text transform="translate(18.2 1.65) scale(1.0482 1)" font-size="15.8">/</text><text transform="translate(22.84 0) scale(0.8848 1)" font-size="14.67" font-style="italic">Å</text><text transform="translate(33.63 -2.9) scale(0.6848 1)" font-size="16.83">−</text><text transform="translate(40.65 -5) scale(0.9825 1)" font-size="11.17">2</text></g>
<text transform="translate(134.77 447.58) scale(1.1102 1)" font-size="14.44">−4</text>
<text transform="translate(208.82 448.28) scale(1.0927 1)" font-size="14.44">−2</text>
<text transform="translate(289.3 447.62) scale(1.0124 1)" font-size="14.44">0</text>
<text transform="translate(362.25 448.28) scale(0.9417 1)" font-size="14.44">2</text>
<text transform="translate(436.35 448.04) scale(0.997 1)" font-size="14.44">4</text>
<text transform="translate(78.77 396.05) scale(1.1121 1)" font-size="14.44">−4</text>
<text transform="translate(78.55 321.84) scale(1.103 1)" font-size="14.44">−2</text>
<text transform="translate(90.36 247.83) scale(0.9963 1)" font-size="14.44">0</text>
<text transform="translate(89.28 174.03) scale(0.9521 1)" font-size="14.44">2</text>
<text transform="translate(89.37 100.22) scale(0.9747 1)" font-size="14.44">4</text>
<text transform="translate(531.33 432.92) scale(1.0062 1)" font-size="14.44">0.0</text>
<text transform="translate(531.22 393.57) scale(0.998 1)" font-size="14.44">0.5</text>
<text transform="translate(530.69 354.78) scale(0.9873 1)" font-size="14.44">1.0</text>
<text transform="translate(530.73 316.24) scale(0.9764 1)" font-size="14.44">1.5</text>
<text transform="translate(530.19 276.51) scale(1.0602 1)" font-size="14.44">2.0</text>
<text transform="translate(530.24 238.02) scale(1.0462 1)" font-size="14.44">2.5</text>
<text transform="translate(530.52 198.83) scale(0.997 1)" font-size="14.44">3.0</text>
<text transform="translate(530.64 160.21) scale(0.9809 1)" font-size="14.44">3.5</text>
<text transform="translate(530.48 121.03) scale(0.9963 1)" font-size="14.44">4.0</text>
<text transform="translate(530.3 82.95) scale(1.0007 1)" font-size="14.44">4.5</text>
<text transform="translate(495.67 52.94) scale(0.9978 1)" font-size="14.44">1e7</text>
</g>
<g transform="translate(877 0) scale(1.36875)">
<rect width="640" height="480" fill="#fff"/>
<clipPath id="c1"><rect x="107.5" y="58.5" width="370" height="369"/><rect x="502.5" y="58.5" width="18" height="369"/></clipPath>
<g clip-path="url(#c1)">
<rect x="107" y="57" width="371" height="371" fill="#460a5d"/>
<path fill="#481c6e" fill-rule="evenodd" d="M190.2 427.2l203.6 0 0.68 -4.01 0.46 -4.31 0.21 -4.01 0 -4.32 -0.23 -4.31 -0.46 -4.32 -0.66 -4.31 -0.93 -4.63 -1.15 -4.62 -1.36 -4.62 -1.55 -4.63 -1.87 -4.93 -2.07 -4.93 -2.26 -4.93 -2.43 -4.94 -2.78 -5.24 -2.78 -4.93 -3.11 -5.24 -3.47 -5.55 -3.63 -5.55 -3.98 -5.85 -3.92 -5.55 -4.73 -6.48 -4.64 -6.16 -4.52 -5.86 -5.36 -6.78 -10.78 -13.25 -13.19 -15.73 -19.29 -22.49 -1.23 -1.46 -0.05 -0.09 0.05 -0.12 0.33 0.12 26.49 18.32 14.18 9.59 14.18 9.3 12.64 7.96 6.16 3.73 6.17 3.63 5.85 3.33 5.86 3.21 5.24 2.75 5.55 2.79 5.24 2.5 5.24 2.36 5.24 2.21 4.93 1.93 4.94 1.77 4.93 1.61 4.93 1.42 4.62 1.17 4.63 0.98 4.31 0.74 4.32 0.56 4.31 0.37 4.32 0.17 4.01 -0.04 4 -0.23 4.01 -0.45 3.7 -0.62 3.7 -0.82 0 -162.02 -3.7 -0.82 -3.7 -0.62 -4.01 -0.45 -4 -0.23 -4.01 -0.04 -4.32 0.17 -4.31 0.37 -4.32 0.56 -4.31 0.74 -4.63 0.98 -4.62 1.17 -4.93 1.42 -4.93 1.61 -4.94 1.77 -4.93 1.93 -5.24 2.21 -5.24 2.36 -5.24 2.5 -5.55 2.79 -5.24 2.75 -5.86 3.21 -5.85 3.33 -6.17 3.63 -6.16 3.73 -12.33 7.76 -13.57 8.88 -18.18 12.32 -23.41 16.21 -0.33 0.12 -0.05 -0.12 20.57 -24.04 12.68 -15.11 11.29 -13.87 5.36 -6.78 4.52 -5.86 4.64 -6.16 4.73 -6.48 3.92 -5.55 3.98 -5.85 3.63 -5.55 3.47 -5.55 3.11 -5.24 2.78 -4.93 2.78 -5.24 2.43 -4.94 2.26 -4.93 2.07 -4.93 1.87 -4.93 1.55 -4.63 1.36 -4.62 1.15 -4.62 0.93 -4.63 0.66 -4.31 0.46 -4.32 0.23 -4.31 0 -4.32 -0.21 -4.01 -0.46 -4.31 -0.68 -4.01 -203.6 0 -0.68 4.01 -0.46 4.31 -0.21 4.01 0 4.32 0.23 4.31 0.46 4.32 0.66 4.31 0.93 4.63 1.15 4.62 1.36 4.62 1.55 4.63 1.87 4.93 2.07 4.93 2.26 4.93 2.43 4.94 2.78 5.24 2.78 4.93 3.11 5.24 3.47 5.55 3.63 5.55 3.98 5.85 3.92 5.55 4.73 6.48 4.64 6.16 4.52 5.86 5.36 6.78 10.78 13.25 13.19 15.73 19.29 22.49 1.23 1.46 0.05 0.09 -0.05 0.12 -0.33 -0.12 -26.49 -18.32 -14.18 -9.59 -14.18 -9.3 -12.64 -7.96 -6.16 -3.73 -6.17 -3.63 -5.85 -3.33 -5.86 -3.21 -5.24 -2.75 -5.55 -2.79 -5.24 -2.5 -5.24 -2.36 -5.24 -2.21 -4.93 -1.93 -4.94 -1.77 -4.93 -1.61 -4.93 -1.42 -4.62 -1.17 -4.63 -0.98 -4.31 -0.74 -4.32 -0.56 -4.31 -0.37 -4.32 -0.17 -4.01 0.04 -4 0.23 -4.01 0.45 -3.7 0.62 -3.7 0.82 0 162.02 3.7 0.82 3.7 0.62 4.01 0.45 4 0.23 4.01 0.04 4.32 -0.17 4.31 -0.37 4.32 -0.56 4.31 -0.74 4.63 -0.98 4.62 -1.17 4.93 -1.42 4.93 -1.61 4.94 -1.77 4.93 -1.93 5.24 -2.21 5.24 -2.36 5.24 -2.5 5.55 -2.79 5.24 -2.75 5.86 -3.21 5.85 -3.33 6.17 -3.63 6.16 -3.73 12.33 -7.76 13.57 -8.88 18.18 -12.32 23.41 -16.21 0.33 -0.12 0.05 0.12 -20.57 24.04 -12.68 15.11 -11.29 13.87 -5.36 6.78 -4.52 5.86 -4.64 6.16 -4.73 6.48 -3.92 5.55 -3.98 5.85 -3.63 5.55 -3.47 5.55 -3.11 5.24 -2.78 4.93 -2.78 5.24 -2.43 4.94 -2.26 4.93 -2.07 4.93 -1.87 4.93 -1.55 4.63 -1.36 4.62 -1.15 4.62 -0.93 4.63 -0.66 4.31 -0.46 4.32 -0.23 4.31 0 4.32 0.21 4.01 0.46 4.31zM291.54 242.91l-0.13 -0.05 0.13 -0.03zM291.85 242.57l-0.04 -0.32 0.38 0 0 0.3zM292.46 242.91l0 -0.08 0.13 0.03zM291.54 241.97l-0.13 -0.03 0.13 -0.05zM292.46 241.97l0 -0.08 0.13 0.05z"/>
<path fill="#472d7b" fill-rule="evenodd" d="M215.03 427.2l153.94 0 0.96 -2.16 1.43 -3.7 1.27 -4 1.01 -4.01 0.81 -4.32 0.54 -4.31 0.29 -4.32 0.05 -4.31 -0.2 -4.63 -0.44 -4.62 -0.66 -4.63 -0.96 -4.93 -1.18 -4.93 -1.41 -4.93 -1.72 -5.24 -1.82 -4.93 -2.14 -5.24 -2.19 -4.94 -2.5 -5.24 -2.83 -5.55 -3.01 -5.54 -3.18 -5.55 -3.33 -5.55 -3.66 -5.86 -4 -6.16 -4.35 -6.48 -4.28 -6.16 -4.6 -6.48 -4.93 -6.78 -5.26 -7.09 -6.52 -8.63 -17.08 -22.19 -0.62 -0.82 -0.04 -0.11 0.04 -0.07 0.27 0.07 0.52 0.31 24.49 14.97 15.1 8.96 7.4 4.24 6.78 3.8 6.79 3.67 6.47 3.39 6.78 3.41 6.17 2.95 6.16 2.8 5.86 2.5 5.55 2.21 5.54 2.05 5.55 1.86 4.94 1.5 5.24 1.4 5.24 1.2 5.24 0.98 4.93 0.7 4.93 0.47 4.62 0.21 4.63 -0.02 4.31 -0.25 4.32 -0.5 4.32 -0.76 4 -0.97 4.01 -1.25 3.7 -1.42 3.7 -1.71 3.39 -1.85 3.39 -2.17 0 -106.28 -1.92 -1.27 -2.09 -1.25 -2.16 -1.18 -2.15 -1.07 -2.16 -0.96 -2.16 -0.86 -2.16 -0.77 -2.46 -0.77 -3.39 -0.89 -3.39 -0.71 -3.7 -0.57 -3.7 -0.38 -3.7 -0.2 -3.7 -0.04 -4.01 0.13 -4.01 0.31 -4 0.46 -4.32 0.66 -4.31 0.82 -4.32 0.97 -4.62 1.2 -4.32 1.25 -4.62 1.48 -4.93 1.72 -4.63 1.75 -5.24 2.11 -4.93 2.11 -4.93 2.21 -5.24 2.47 -5.24 2.57 -5.24 2.67 -5.86 3.08 -10.79 5.93 -12.33 7.08 -15.41 9.2 -21.93 13.42 -0.27 0.07 -0.04 -0.07 0.66 -0.93 17.08 -22.19 11.1 -14.8 5.61 -7.7 4.6 -6.48 4.28 -6.16 4.35 -6.48 4 -6.16 4.04 -6.47 3.67 -6.17 3.14 -5.55 2.97 -5.55 2.8 -5.55 2.46 -5.24 2.27 -5.24 2.08 -5.24 1.86 -5.24 1.55 -4.93 1.42 -5.24 1.1 -4.93 0.86 -4.93 0.58 -4.63 0.34 -4.62 0.1 -4.63 -0.17 -4.62 -0.41 -4.32 -0.68 -4.31 -0.95 -4.32 -1.15 -4 -1.43 -4.01 -1.58 -3.7 -153.94 0 -0.96 2.16 -1.43 3.7 -1.27 4 -1.01 4.01 -0.81 4.32 -0.54 4.31 -0.29 4.32 -0.05 4.31 0.2 4.63 0.44 4.62 0.66 4.63 0.96 4.93 1.18 4.93 1.41 4.93 1.72 5.24 1.82 4.93 2.14 5.24 2.19 4.94 2.5 5.24 2.83 5.55 3.01 5.54 3.18 5.55 3.33 5.55 3.66 5.86 4 6.16 4.35 6.48 4.28 6.16 4.6 6.48 4.93 6.78 5.26 7.09 6.52 8.63 17.08 22.19 0.62 0.82 0.04 0.11 -0.04 0.07 -0.27 -0.07 -0.52 -0.31 -24.49 -14.97 -15.1 -8.96 -7.4 -4.24 -6.78 -3.8 -6.79 -3.67 -6.47 -3.39 -6.78 -3.41 -6.17 -2.95 -6.16 -2.8 -5.86 -2.5 -5.55 -2.21 -5.54 -2.05 -5.55 -1.86 -4.94 -1.5 -5.24 -1.4 -5.24 -1.2 -5.24 -0.98 -4.93 -0.7 -4.93 -0.47 -4.62 -0.21 -4.63 0.02 -4.31 0.25 -4.32 0.5 -4.32 0.76 -4 0.97 -4.01 1.25 -3.7 1.42 -3.7 1.71 -3.39 1.85 -3.39 2.17 0 106.28 1.92 1.27 2.09 1.25 2.16 1.18 2.15 1.07 2.16 0.96 2.16 0.86 2.16 0.77 2.46 0.77 3.39 0.89 3.39 0.71 3.7 0.57 3.7 0.38 3.7 0.2 3.7 0.04 4.01 -0.13 4.01 -0.31 4 -0.46 4.32 -0.66 4.31 -0.82 4.32 -0.97 4.62 -1.2 4.32 -1.25 4.62 -1.48 4.93 -1.72 4.63 -1.75 5.24 -2.11 4.93 -2.11 4.93 -2.21 5.24 -2.47 5.24 -2.57 5.24 -2.67 5.86 -3.08 10.79 -5.93 12.33 -7.08 15.41 -9.2 21.93 -13.42 0.27 -0.07 0.04 0.07 -0.66 0.93 -17.08 22.19 -11.1 14.8 -5.61 7.7 -4.6 6.48 -4.28 6.16 -4.35 6.48 -4 6.16 -4.04 6.47 -3.67 6.17 -3.14 5.55 -2.97 5.55 -2.8 5.55 -2.46 5.24 -2.27 5.24 -2.08 5.24 -1.86 5.24 -1.55 4.93 -1.42 5.24 -1.1 4.93 -0.86 4.93 -0.58 4.63 -0.34 4.62 -0.1 4.63 0.17 4.62 0.41 4.32 0.68 4.31 0.95 4.32 1.15 4 1.43 4.01zM291.85 242.6l-0.08 -0.05 0 -0.3 0.08 -0.05 0.38 0.05 0 0.3z"/>
<path fill="#443b84" fill-rule="evenodd" d="M234.77 427.2l114.46 0 1.61 -2.16 1.68 -2.46 1.32 -2.16 1.37 -2.47 1.23 -2.46 1.22 -2.78 0.96 -2.46 0.94 -2.78 0.96 -3.39 0.83 -3.7 0.62 -3.7 0.42 -3.7 0.24 -3.7 0.06 -4 -0.13 -4.01 -0.35 -4.32 -0.5 -4 -0.72 -4.32 -0.9 -4.31 -1.14 -4.63 -1.24 -4.31 -1.49 -4.63 -1.65 -4.62 -1.8 -4.63 -1.95 -4.62 -2.08 -4.62 -2.21 -4.63 -2.65 -5.24 -2.78 -5.24 -2.92 -5.24 -3.03 -5.24 -3.33 -5.55 -6.78 -10.79 -7.73 -11.71 -10.16 -14.8 -14.38 -20.34 -0.31 -0.45 -0.06 -0.17 0.06 -0.11 0.38 0.11 14.73 8.16 10.79 5.88 8.63 4.6 7.7 4 8.02 4.02 7.09 3.42 7.09 3.27 6.78 2.96 6.78 2.78 6.47 2.47 6.48 2.25 6.16 1.93 5.86 1.62 5.86 1.38 5.55 1.07 5.24 0.79 5.54 0.56 2.78 0.16 2.77 0.09 5.24 -0.07 4.94 -0.37 2.46 -0.31 2.47 -0.4 2.46 -0.49 2.16 -0.51 2.16 -0.6 2.16 -0.67 2.16 -0.78 2.15 -0.87 2.16 -0.97 1.85 -0.93 1.85 -1.03 1.93 -1.18 1.84 -1.23 1.78 -1.3 1.82 -1.47 1.57 -1.39 1.54 -1.49 1.54 -1.62 1.45 -1.67 1.33 -1.67 1.24 -1.72 1.22 -1.85 1.11 -1.85 1.05 -1.95 0 -46.96 -0.88 -1.64 -1.67 -2.78 -1.71 -2.46 -1.91 -2.42 -1.97 -2.21 -2.18 -2.15 -2.32 -2.03 -2.46 -1.9 -2.47 -1.68 -2.77 -1.65 -2.78 -1.43 -2.77 -1.23 -3.09 -1.17 -3.08 -0.98 -3.08 -0.81 -3.39 -0.7 -3.39 -0.52 -3.09 -0.34 -3.08 -0.21 -3.08 -0.09 -3.08 0.02 -3.39 0.14 -3.39 0.26 -3.4 0.36 -3.39 0.47 -3.39 0.57 -3.7 0.73 -4 0.9 -3.7 0.93 -3.7 1.03 -4.01 1.21 -4.01 1.3 -4 1.39 -8.33 3.14 -8.32 3.45 -8.94 4 -9.56 4.56 -9.86 4.95 -10.48 5.49 -12.64 6.84 -17.5 9.68 -0.38 0.11 -0.06 -0.11 0.06 -0.17 0.31 -0.45 15.88 -22.5 6.15 -8.94 4.99 -7.4 4.85 -7.4 4.32 -6.78 3.79 -6.16 3.66 -6.17 3.67 -6.47 3.32 -6.17 3.13 -6.16 2.77 -5.86 2.44 -5.55 2.25 -5.55 1.91 -5.24 1.72 -5.24 1.49 -5.24 1.26 -5.24 1 -5.24 0.7 -4.93 0.45 -4.93 0.17 -4.94 -0.11 -4.62 -0.38 -4.62 -0.68 -4.63 -0.93 -4.31 -1.23 -4.32 -1.45 -4.01 -1.76 -4 -2.04 -3.85 -1.2 -2.01 -1.21 -1.85 -2.47 -3.39 -114.46 0 -1.61 2.16 -1.68 2.46 -1.32 2.16 -1.37 2.47 -1.23 2.46 -1.22 2.78 -0.96 2.46 -0.94 2.78 -0.96 3.39 -0.83 3.7 -0.62 3.7 -0.42 3.7 -0.24 3.7 -0.06 4 0.13 4.01 0.35 4.32 0.5 4 0.72 4.32 0.9 4.31 1.14 4.63 1.24 4.31 1.49 4.63 1.65 4.62 1.8 4.63 1.95 4.62 2.08 4.62 2.21 4.63 2.65 5.24 2.78 5.24 2.92 5.24 3.03 5.24 3.33 5.55 6.78 10.79 7.73 11.71 10.16 14.8 14.38 20.34 0.31 0.45 0.06 0.17 -0.06 0.11 -0.38 -0.11 -14.73 -8.16 -10.79 -5.88 -8.63 -4.6 -7.7 -4 -8.02 -4.02 -7.09 -3.42 -7.09 -3.27 -6.78 -2.96 -6.78 -2.78 -6.47 -2.47 -6.48 -2.25 -6.16 -1.93 -5.86 -1.62 -5.86 -1.38 -5.55 -1.07 -5.24 -0.79 -5.54 -0.56 -2.78 -0.16 -2.77 -0.09 -5.24 0.07 -4.94 0.37 -2.46 0.31 -2.47 0.4 -2.46 0.49 -2.16 0.51 -2.16 0.6 -2.16 0.67 -2.16 0.78 -2.15 0.87 -2.16 0.97 -1.85 0.93 -1.85 1.03 -1.93 1.18 -1.84 1.23 -1.78 1.3 -1.82 1.47 -1.57 1.39 -1.54 1.49 -1.54 1.62 -1.45 1.67 -1.33 1.67 -1.24 1.72 -1.22 1.85 -1.11 1.85 -1.05 1.95 0 46.96 0.88 1.64 1.67 2.78 1.71 2.46 1.91 2.42 1.97 2.21 2.18 2.15 2.32 2.03 2.46 1.9 2.47 1.68 2.77 1.65 2.78 1.43 2.77 1.23 3.09 1.17 3.08 0.98 3.08 0.81 3.39 0.7 3.39 0.52 3.09 0.34 3.08 0.21 3.08 0.09 3.08 -0.02 3.39 -0.14 3.39 -0.26 3.4 -0.36 3.39 -0.47 3.39 -0.57 3.7 -0.73 4 -0.9 3.7 -0.93 3.7 -1.03 4.01 -1.21 4.01 -1.3 4 -1.39 8.33 -3.14 8.32 -3.45 8.94 -4 9.56 -4.56 9.86 -4.95 10.48 -5.49 12.64 -6.84 17.5 -9.68 0.38 -0.11 0.06 0.11 -0.06 0.17 -0.31 0.45 -15.88 22.5 -6.15 8.94 -4.99 7.4 -4.85 7.4 -4.32 6.78 -3.79 6.16 -3.66 6.17 -3.67 6.47 -3.32 6.17 -3.13 6.16 -2.77 5.86 -2.44 5.55 -2.25 5.55 -1.91 5.24 -1.72 5.24 -1.49 5.24 -1.26 5.24 -1 5.24 -0.7 4.93 -0.45 4.93 -0.17 4.94 0.11 4.62 0.38 4.62 0.68 4.63 0.93 4.31 1.23 4.32 1.45 4.01 1.76 4 2.04 3.85 1.2 2.01 1.21 1.85zM291.85 242.62l-0.12 -0.07 0 -0.3 0.12 -0.07 0.3 0 0.12 0.07 0 0.3 -0.12 0.07z"/>
<path fill="#3e4a89" fill-rule="evenodd" d="M254.35 426.89l0.42 0.31 74.46 0 2.07 -1.59 2.14 -1.8 1.87 -1.73 1.85 -1.87 1.85 -2.06 1.66 -2.05 1.6 -2.16 1.44 -2.15 1.3 -2.16 1.34 -2.47 1.19 -2.46 1.05 -2.47 0.93 -2.46 0.89 -2.78 0.68 -2.47 0.64 -2.77 0.57 -3.08 0.46 -3.39 0.3 -3.39 0.14 -3.39 0 -3.4 -0.15 -3.69 -0.3 -3.7 -0.45 -3.7 -0.59 -3.7 -0.78 -4.01 -0.92 -4.01 -0.97 -3.7 -1.17 -4 -1.41 -4.32 -1.53 -4.31 -1.66 -4.32 -1.64 -4.01 -1.88 -4.31 -2.12 -4.63 -2.09 -4.31 -2.33 -4.63 -2.43 -4.62 -5.46 -9.86 -5.61 -9.56 -6.44 -10.48 -8.64 -13.56 -12.17 -18.58 -0.09 -0.23 0.09 -0.15 0.47 0.15 13.71 6.9 10.79 5.32 8.32 4 7.71 3.59 7.71 3.45 7.09 3.03 7.09 2.86 6.47 2.45 6.47 2.26 6.48 2.06 6.16 1.75 5.86 1.44 5.86 1.21 5.54 0.91 5.24 0.62 5.25 0.36 5.24 0.08 2.77 -0.08 2.47 -0.16 2.46 -0.23 2.47 -0.33 2.46 -0.41 2.47 -0.51 2.16 -0.53 2.16 -0.62 2.15 -0.71 2.16 -0.81 2.11 -0.91 1.93 -0.92 1.82 -0.97 1.99 -1.19 1.86 -1.23 1.67 -1.24 1.57 -1.26 1.68 -1.51 1.55 -1.54 1.39 -1.53 1.27 -1.55 1.15 -1.54 1.04 -1.55 1.11 -1.85 0.99 -1.85 0.86 -1.84 0.76 -1.85 0.74 -2.16 0.53 -1.85 0.5 -2.16 0.38 -2.16 0.28 -2.46 0.12 -2.47 -0.03 -2.47 -0.18 -2.46 -0.29 -2.16 -0.48 -2.47 -0.55 -2.15 -0.69 -2.16 -0.82 -2.16 -0.98 -2.16 -1.14 -2.15 -1.31 -2.16 -1.28 -1.85 -1.45 -1.85 -1.63 -1.85 -1.67 -1.69 -1.85 -1.67 -1.85 -1.48 -1.85 -1.33 -2.16 -1.39 -2.16 -1.22 -2.15 -1.09 -2.47 -1.08 -2.47 -0.94 -2.46 -0.81 -2.47 -0.68 -2.77 -0.64 -2.78 -0.51 -2.77 -0.39 -2.78 -0.29 -2.77 -0.18 -2.77 -0.08 -2.78 0 -5.55 0.26 -5.85 0.59 -5.86 0.89 -6.47 1.3 -6.48 1.58 -6.78 1.93 -7.09 2.29 -7.09 2.53 -7.71 2.99 -7.7 3.2 -8.33 3.66 -8.01 3.69 -8.94 4.26 -11.4 5.61 -14.95 7.51 -0.47 0.15 -0.09 -0.15 0.09 -0.23 8.76 -13.34 6.19 -9.55 5.86 -9.25 4.95 -8.01 4.24 -7.09 4.08 -7.09 3.75 -6.79 3.39 -6.47 3.06 -6.16 3.01 -6.48 2.78 -6.47 2.29 -5.86 2.06 -5.85 1.72 -5.55 1.49 -5.55 1.16 -5.24 0.96 -5.55 0.62 -5.24 0.34 -5.24 0.05 -2.78 -0.03 -2.46 -0.11 -2.47 -0.19 -2.46 -0.28 -2.47 -0.36 -2.47 -0.45 -2.46 -0.48 -2.16 -0.55 -2.16 -0.66 -2.23 -0.7 -2.08 -0.84 -2.23 -0.89 -2.09 -1.02 -2.16 -1.13 -2.15 -1.06 -1.85 -1.16 -1.85 -1.26 -1.85 -1.38 -1.85 -1.35 -1.68 -1.54 -1.76 -1.55 -1.63 -1.54 -1.5 -1.85 -1.66 -1.85 -1.53 -1.76 -1.34 -74.46 0 -2.07 1.59 -2.14 1.8 -1.87 1.73 -1.85 1.87 -1.85 2.06 -1.66 2.05 -1.6 2.16 -1.44 2.15 -1.3 2.16 -1.34 2.47 -1.19 2.46 -1.05 2.47 -0.93 2.46 -0.89 2.78 -0.76 2.77 -0.63 2.78 -0.55 3.08 -0.44 3.39 -0.29 3.39 -0.13 3.39 0.01 3.39 0.17 3.7 0.32 3.7 0.46 3.7 0.59 3.7 0.79 4.01 0.86 3.7 1.06 4 1.18 4.01 1.41 4.32 1.54 4.31 1.67 4.32 1.78 4.31 1.89 4.32 1.85 4.01 2.24 4.62 4.61 8.94 5.46 9.86 5.61 9.56 6.44 10.48 8.64 13.56 12.17 18.58 0.09 0.23 -0.09 0.15 -0.47 -0.15 -13.71 -6.9 -10.79 -5.32 -8.32 -4 -7.71 -3.59 -7.71 -3.45 -7.09 -3.03 -7.09 -2.86 -6.47 -2.45 -6.47 -2.26 -6.48 -2.06 -6.16 -1.75 -5.86 -1.44 -5.86 -1.21 -5.54 -0.91 -5.24 -0.62 -5.25 -0.36 -5.24 -0.08 -2.77 0.08 -2.47 0.16 -2.46 0.23 -2.47 0.33 -2.46 0.41 -2.47 0.51 -2.16 0.53 -2.16 0.62 -2.15 0.71 -2.16 0.81 -2.11 0.91 -1.93 0.92 -1.82 0.97 -1.99 1.19 -1.86 1.23 -1.67 1.24 -1.57 1.26 -1.68 1.51 -1.55 1.54 -1.39 1.53 -1.27 1.55 -1.15 1.54 -1.04 1.55 -1.11 1.85 -0.99 1.85 -0.86 1.84 -0.76 1.85 -0.74 2.16 -0.53 1.85 -0.5 2.16 -0.38 2.16 -0.28 2.46 -0.12 2.47 0.03 2.47 0.18 2.46 0.29 2.16 0.48 2.47 0.55 2.15 0.69 2.16 0.82 2.16 0.98 2.16 1.14 2.15 1.31 2.16 1.28 1.85 1.45 1.85 1.63 1.85 1.67 1.69 1.85 1.67 1.85 1.48 1.85 1.33 2.16 1.39 2.16 1.22 2.15 1.09 2.47 1.08 2.47 0.94 2.46 0.81 2.47 0.68 2.77 0.64 2.78 0.51 2.77 0.39 2.78 0.29 2.77 0.18 2.77 0.08 2.78 0 5.55 -0.26 5.85 -0.59 5.86 -0.89 6.47 -1.3 6.48 -1.58 6.78 -1.93 7.09 -2.29 7.09 -2.53 7.71 -2.99 7.7 -3.2 8.33 -3.66 8.01 -3.69 8.94 -4.26 11.4 -5.61 14.95 -7.51 0.47 -0.15 0.09 0.15 -0.09 0.23 -8.76 13.34 -6.19 9.55 -5.86 9.25 -4.95 8.01 -4.24 7.09 -4.08 7.09 -3.75 6.79 -3.39 6.47 -3.06 6.16 -3.01 6.48 -2.52 5.85 -2.43 6.17 -2.08 5.86 -1.73 5.54 -1.5 5.55 -1.18 5.24 -0.97 5.55 -0.65 5.24 -0.35 5.24 -0.06 2.78 0.03 2.46 0.28 4.94 0.56 4.62 0.43 2.47 0.45 2.15 0.62 2.47 0.62 2.16 0.71 2.16 0.81 2.15 0.89 2.16 1.01 2.16 1.02 1.99 1.14 2.02 1.14 1.85 1.24 1.84 1.36 1.85 1.28 1.62 1.53 1.78 1.56 1.66 1.75 1.73 1.64 1.49 1.85 1.54zM291.85 242.64l-0.15 -0.09 0 -0.3 0.15 -0.09 0.3 0 0.15 0.09 0 0.3 -0.15 0.09z"/>
<path fill="#38598c" fill-rule="evenodd" d="M287.38 426.28l2.92 0.16 2.78 0.02 2.77 -0.13 2.78 -0.26 2.77 -0.41 2.78 -0.56 2.77 -0.71 2.77 -0.87 2.78 -1.05 2.47 -1.08 2.46 -1.24 2.47 -1.4 2.46 -1.6 2.16 -1.57 2.16 -1.76 1.91 -1.72 1.85 -1.85 1.93 -2.16 1.71 -2.14 1.56 -2.18 1.52 -2.36 1.29 -2.26 1.25 -2.47 1.22 -2.77 1.06 -2.78 0.89 -2.77 0.75 -2.77 0.61 -2.78 0.49 -2.77 0.41 -3.09 0.27 -3.08 0.15 -3.08 0.02 -2.78 -0.08 -3.08 -0.16 -2.77 -0.28 -3.08 -0.37 -3.09 -0.47 -3.08 -0.56 -3.08 -0.71 -3.39 -0.81 -3.39 -0.9 -3.39 -2.06 -6.79 -2.49 -7.09 -2.79 -7.09 -3.08 -7.09 -3.62 -7.7 -3.72 -7.4 -4.42 -8.32 -4.28 -7.71 -4.62 -8.01 -7.33 -12.34 -10.36 -16.97 -0.11 -0.29 0.11 -0.19 0.56 0.19 12.39 5.66 10.48 4.7 7.71 3.35 7.39 3.11 7.4 2.99 6.78 2.59 6.48 2.33 6.16 2.06 6.48 1.98 5.85 1.6 5.86 1.41 5.55 1.13 5.24 0.87 5.24 0.64 4.93 0.38 4.93 0.14 4.94 -0.14 2.46 -0.18 2.47 -0.27 2.46 -0.36 2.16 -0.39 2.16 -0.47 2.16 -0.55 2.16 -0.65 1.84 -0.64 1.97 -0.77 2.04 -0.91 1.85 -0.93 1.67 -0.93 1.72 -1.08 1.56 -1.08 1.6 -1.24 1.44 -1.23 1.3 -1.23 1.45 -1.54 1.29 -1.54 1.14 -1.55 1.01 -1.54 0.89 -1.54 0.79 -1.54 0.8 -1.85 0.57 -1.54 0.56 -1.85 0.43 -1.85 0.32 -1.85 0.2 -1.85 0.08 -1.85 -0.02 -1.85 -0.15 -1.85 -0.25 -1.85 -0.38 -1.85 -0.5 -1.85 -0.62 -1.84 -0.76 -1.85 -0.74 -1.55 -0.85 -1.54 -0.96 -1.54 -1.09 -1.54 -1.23 -1.54 -1.38 -1.54 -1.24 -1.24 -1.56 -1.39 -1.54 -1.24 -1.54 -1.12 -1.83 -1.18 -1.59 -0.92 -1.82 -0.95 -1.94 -0.9 -2.07 -0.85 -1.94 -0.69 -2.07 -0.65 -2.15 -0.58 -2.16 -0.5 -2.28 -0.43 -2.35 -0.36 -2.46 -0.29 -2.47 -0.2 -4.93 -0.17 -4.93 0.1 -4.93 0.35 -5.24 0.62 -5.24 0.84 -5.55 1.1 -5.86 1.39 -6.17 1.67 -6.16 1.88 -6.47 2.15 -6.79 2.43 -6.78 2.59 -7.4 2.99 -7.39 3.11 -7.71 3.35 -10.48 4.7 -12.39 5.66 -0.56 0.19 -0.11 -0.19 0.11 -0.29 9.06 -14.82 6.46 -10.79 5.56 -9.55 5.01 -8.94 4.28 -8.02 4.06 -8.01 3.36 -7.09 3.12 -7.09 2.97 -7.4 2.42 -6.78 2.03 -6.47 1.72 -6.48 1.32 -6.16 0.53 -3.08 0.44 -3.09 0.35 -3.08 0.22 -2.77 0.16 -3.09 0.04 -2.77 -0.06 -3.08 -0.18 -3.09 -0.31 -3.08 -0.39 -2.77 -0.52 -2.78 -0.64 -2.77 -0.76 -2.7 -0.84 -2.54 -0.95 -2.47 -1.08 -2.46 -1.23 -2.47 -1.39 -2.47 -1.37 -2.15 -1.52 -2.16 -1.7 -2.16 -1.62 -1.85 -1.87 -1.93 -1.89 -1.77 -2.11 -1.77 -2.16 -1.62 -2.16 -1.45 -2.46 -1.48 -2.16 -1.14 -2.47 -1.16 -2.46 -1.01 -2.47 -0.87 -2.47 -0.73 -2.77 -0.68 -2.47 -0.47 -2.77 -0.4 -2.78 -0.25 -2.77 -0.1 -2.77 0.03 -2.78 0.17 -2.77 0.31 -2.78 0.46 -2.77 0.61 -2.47 0.67 -2.77 0.91 -2.47 0.95 -2.46 1.11 -2.47 1.25 -2.44 1.42 -2.18 1.42 -2.16 1.57 -2.02 1.64 -1.99 1.79 -1.85 1.84 -1.73 1.91 -1.66 2.04 -1.54 2.1 -1.54 2.35 -1.43 2.45 -1.27 2.47 -1.12 2.47 -0.97 2.46 -0.85 2.47 -0.81 2.77 -0.68 2.78 -0.54 2.77 -0.43 2.77 -0.33 3.09 -0.21 3.08 -0.08 3.08 0.02 2.78 0.14 3.08 0.21 2.77 0.32 3.09 0.43 3.08 0.51 3.08 0.6 3.08 0.68 3.09 1.69 6.47 2.1 6.78 2.42 6.78 2.82 7.09 3.1 7.09 3.34 7.09 4.04 8.02 4.27 8.01 4.11 7.4 4.62 8.01 7.33 12.34 10.36 16.97 0.11 0.29 -0.11 0.19 -0.56 -0.19 -12.39 -5.66 -10.48 -4.7 -7.71 -3.35 -7.39 -3.11 -7.4 -2.99 -6.78 -2.59 -6.48 -2.33 -6.16 -2.06 -6.48 -1.98 -5.85 -1.6 -5.86 -1.41 -5.55 -1.13 -5.24 -0.87 -5.24 -0.64 -4.93 -0.38 -4.93 -0.14 -4.94 0.14 -2.46 0.18 -2.47 0.27 -2.46 0.36 -2.16 0.39 -2.16 0.47 -2.16 0.55 -2.16 0.65 -1.84 0.64 -1.97 0.77 -2.04 0.91 -1.85 0.93 -1.67 0.93 -1.72 1.08 -1.56 1.08 -1.6 1.24 -1.44 1.23 -1.3 1.23 -1.45 1.54 -1.29 1.54 -1.14 1.55 -1.01 1.54 -0.89 1.54 -0.79 1.54 -0.8 1.85 -0.57 1.54 -0.56 1.85 -0.43 1.85 -0.32 1.85 -0.2 1.85 -0.08 1.85 0.02 1.85 0.15 1.85 0.25 1.85 0.38 1.85 0.5 1.85 0.62 1.84 0.76 1.85 0.74 1.55 0.85 1.54 0.96 1.54 1.09 1.54 1.23 1.54 1.38 1.54 1.24 1.24 1.56 1.39 1.54 1.24 1.54 1.12 1.83 1.18 1.59 0.92 1.82 0.95 1.94 0.9 2.07 0.85 1.94 0.69 2.07 0.65 2.15 0.58 2.16 0.5 2.28 0.43 2.35 0.36 2.46 0.29 2.47 0.2 4.93 0.17 4.93 -0.1 4.93 -0.35 5.24 -0.62 5.24 -0.84 5.55 -1.1 5.86 -1.39 6.17 -1.67 6.16 -1.88 6.47 -2.15 6.79 -2.43 6.78 -2.59 7.4 -2.99 7.39 -3.11 7.71 -3.35 10.48 -4.7 12.39 -5.66 0.56 -0.19 0.11 0.19 -0.11 0.29 -8.49 13.89 -6.48 10.79 -5.58 9.56 -5.2 9.24 -4.3 8.02 -3.92 7.71 -3.53 7.39 -3.02 6.79 -2.88 7.09 -2.48 6.78 -2.09 6.47 -1.78 6.47 -1.38 6.17 -1 5.86 -0.39 3.08 -0.28 2.77 -0.19 2.78 -0.1 2.77 -0.01 3.08 0.09 2.78 0.22 3.08 0.3 2.78 0.43 2.77 0.54 2.77 0.66 2.7 0.73 2.54 0.83 2.47 0.96 2.47 1.1 2.46 1.09 2.16 1.21 2.16 1.47 2.35 1.54 2.19 1.55 1.98 1.55 1.8 1.84 1.93 1.86 1.77 2.14 1.83 2.16 1.65 2.13 1.45 2.19 1.34 2.16 1.19 2.46 1.2 2.47 1.04 2.46 0.9 2.47 0.77 2.47 0.64 2.77 0.57 2.47 0.39zM291.85 242.67l-0.19 -0.12 0 -0.3 0.19 -0.12 0.3 0 0.19 0.12 0 0.3 -0.19 0.12z"/>
<path fill="#31668e" fill-rule="evenodd" d="M287.52 414.87l2.48 0.18 2.46 0.04 2.47 -0.09 2.46 -0.23 2.47 -0.36 2.47 -0.5 2.46 -0.64 2.47 -0.8 2.46 -0.95 2.16 -0.98 2.16 -1.12 2.16 -1.27 2.16 -1.44 1.85 -1.4 1.85 -1.54 1.97 -1.85 1.72 -1.81 1.61 -1.89 1.48 -1.92 1.54 -2.25 1.39 -2.3 1.15 -2.16 1.03 -2.16 1.03 -2.46 0.9 -2.47 0.76 -2.46 0.65 -2.47 0.6 -2.77 0.47 -2.78 0.35 -2.77 0.24 -2.78 0.15 -3.08 0.02 -2.77 -0.06 -2.78 -0.15 -2.77 -0.24 -2.78 -0.31 -2.77 -0.44 -3.08 -0.52 -3.09 -0.61 -3.08 -1.46 -6.16 -1.83 -6.48 -2.12 -6.47 -2.61 -7.09 -2.89 -7.09 -3.13 -7.09 -3.64 -7.71 -4.01 -8.01 -4.36 -8.32 -5.2 -9.56 -5.53 -9.86 -7.55 -13.22 -0.14 -0.35 -0.17 -0.17 -0.3 0 -0.17 0.17 -0.14 0.35 -8.42 14.76 -6.86 12.33 -5.45 10.17 -4.1 8.01 -3.74 7.71 -3.38 7.4 -3.01 7.09 -2.75 7.09 -2.25 6.47 -1.9 6.17 -1.63 6.16 -1.27 5.86 -0.97 5.86 -0.62 5.54 -0.29 5.25 -0.02 2.77 0.07 2.77 0.17 2.78 0.24 2.46 0.38 2.78 0.43 2.46 0.54 2.47 0.65 2.47 0.71 2.31 0.83 2.31 0.88 2.16 1.07 2.32 1.04 1.99 1.26 2.16 1.2 1.85 1.43 1.99 1.54 1.92 1.54 1.73 1.54 1.57 1.85 1.69 1.85 1.52 1.85 1.37 1.85 1.22 1.97 1.17 2.04 1.07 2.16 1 2.15 0.86 2.16 0.74 2.16 0.62 2.47 0.57 2.15 0.38zM188.91 271.53l4.6 0.04 4.63 -0.19 4.93 -0.43 5.24 -0.68 5.24 -0.89 5.55 -1.14 5.85 -1.41 5.86 -1.58 6.17 -1.85 6.78 -2.2 7.09 -2.47 7.4 -2.72 13.56 -5.31 19.73 -8.07 0.08 -0.08 0 -0.3 -0.08 -0.08 -13.57 -5.57 -10.78 -4.35 -9.56 -3.69 -8.32 -3.04 -8.33 -2.84 -7.39 -2.32 -7.4 -2.07 -6.78 -1.66 -6.79 -1.38 -6.47 -1.03 -3.08 -0.37 -3.08 -0.3 -3.09 -0.2 -2.77 -0.11 -2.78 -0.02 -2.77 0.06 -2.77 0.16 -2.47 0.23 -2.77 0.37 -2.47 0.43 -2.47 0.53 -2.15 0.57 -3.09 0.99 -3.08 1.24 -2.71 1.33 -2.61 1.54 -2.39 1.69 -2.15 1.84 -1.97 2.02 -1.73 2.15 -1.4 2.16 -1.25 2.47 -0.93 2.46 -0.63 2.47 -0.36 2.47 -0.07 1.23 0 1.54 0.1 1.54 0.16 1.23 0.53 2.47 0.81 2.47 1.13 2.46 1.28 2.16 1.58 2.16 1.94 2.16 2.01 1.85 2.19 1.68 2.46 1.59 2.5 1.35 2.74 1.24 3.09 1.13 3.08 0.9 3.39 0.77 3.39 0.57 3.7 0.41zM388.89 271.53l4.06 0.05 4.01 -0.14 3.7 -0.31 3.7 -0.52 3.39 -0.67 3.39 -0.89 3.08 -1.04 3.09 -1.29 2.65 -1.35 2.59 -1.59 2.43 -1.81 2.19 -1.96 1.88 -2.04 1.63 -2.16 0.78 -1.23 0.7 -1.24 1.13 -2.46 0.81 -2.47 0.3 -1.23 0.27 -1.54 0.15 -1.24 0.08 -1.54 -0.02 -1.54 -0.09 -1.23 -0.21 -1.54 -0.25 -1.24 -0.4 -1.54 -0.41 -1.23 -1.05 -2.47 -1.39 -2.46 -0.83 -1.24 -0.92 -1.2 -1.85 -2.07 -2.13 -1.97 -2.42 -1.85 -2.54 -1.6 -2.82 -1.48 -3.04 -1.29 -3.39 -1.16 -2.31 -0.63 -2.31 -0.53 -2.47 -0.45 -2.46 -0.36 -2.78 -0.29 -2.77 -0.18 -2.78 -0.09 -2.77 0.01 -2.78 0.09 -3.08 0.19 -3.08 0.27 -3.08 0.36 -6.48 1 -7.09 1.42 -7.09 1.73 -7.09 1.98 -7.7 2.41 -8.33 2.84 -8.32 3.04 -9.56 3.69 -10.78 4.35 -13.57 5.57 -0.08 0.08 0 0.3 0.08 0.08 18.19 7.45 11.71 4.63 7.4 2.79 6.78 2.44 6.48 2.18 5.85 1.85 5.55 1.62 5.55 1.48 5.24 1.24 5.24 1.07 4.93 0.84 4.63 0.63 4.62 0.44zM291.68 241.94l0.17 0.17 0.3 0 0.17 -0.17 0.14 -0.35 6.67 -11.67 5.55 -9.87 4.24 -7.71 3.78 -7.08 4.28 -8.33 4.05 -8.32 3.65 -8.02 3.11 -7.39 2.72 -7.09 2.22 -6.48 1.94 -6.47 1.64 -6.47 1.2 -5.86 0.89 -5.86 0.53 -5.55 0.14 -2.77 0.06 -2.77 -0.04 -2.78 -0.14 -2.77 -0.24 -2.78 -0.35 -2.77 -0.47 -2.78 -0.53 -2.46 -0.63 -2.47 -0.8 -2.62 -0.83 -2.31 -1.01 -2.47 -1.01 -2.15 -1.16 -2.2 -1.23 -2.08 -1.25 -1.89 -1.53 -2.08 -1.54 -1.88 -1.54 -1.69 -1.85 -1.83 -1.85 -1.64 -1.85 -1.46 -1.85 -1.32 -2.16 -1.37 -2.15 -1.2 -2.16 -1.06 -2.16 -0.92 -2.47 -0.89 -2.15 -0.65 -2.47 -0.61 -2.16 -0.41 -2.46 -0.35 -2.47 -0.2 -2.47 -0.08 -2.46 0.06 -2.47 0.19 -2.46 0.33 -2.16 0.39 -2.47 0.59 -2.16 0.64 -2.46 0.87 -2.16 0.9 -2.16 1.04 -2.16 1.18 -2.15 1.35 -1.85 1.29 -1.85 1.44 -1.85 1.6 -1.66 1.61 -1.73 1.85 -1.54 1.84 -1.41 1.85 -1.37 2.02 -1.23 2.03 -1.23 2.27 -1.11 2.32 -0.91 2.15 -0.91 2.47 -0.78 2.47 -0.66 2.46 -0.57 2.52 -0.48 2.72 -0.38 2.78 -0.27 2.77 -0.16 2.77 -0.05 2.78 0.14 5.24 0.19 2.77 0.28 2.78 0.36 2.77 0.48 3.08 1.15 5.86 1.43 5.86 1.88 6.47 2.26 6.78 2.55 6.79 2.78 6.78 3.15 7.09 3.36 7.09 4.01 8.01 4.03 7.71 4.85 8.94 6.21 11.09 7.55 13.22z"/>
<path fill="#2c728e" fill-rule="evenodd" d="M288.7 404.39l2.22 0.13 2.16 0 2.16 -0.13 2.15 -0.24 2.16 -0.37 2.16 -0.49 2.16 -0.64 2.16 -0.77 2.15 -0.92 1.85 -0.91 1.85 -1.05 1.85 -1.18 1.85 -1.34 1.65 -1.34 1.74 -1.58 1.54 -1.57 1.55 -1.74 1.48 -1.89 1.29 -1.83 1.18 -1.87 1.04 -1.85 1.09 -2.16 0.96 -2.15 0.84 -2.16 0.75 -2.21 0.7 -2.42 0.59 -2.46 0.49 -2.47 0.39 -2.46 0.33 -2.78 0.21 -2.77 0.11 -2.78 0.01 -2.46 -0.06 -2.78 -0.37 -5.24 -0.69 -5.55 -0.97 -5.55 -1.3 -5.85 -1.65 -6.17 -1.91 -6.16 -2.24 -6.48 -2.47 -6.47 -2.8 -6.78 -3.27 -7.4 -3.47 -7.4 -3.93 -8.01 -4.39 -8.63 -5.17 -9.87 -6.37 -11.91 -0.16 -0.42 -0.15 -0.14 -0.3 0 -0.15 0.14 -0.16 0.42 -6.7 12.53 -6.42 12.33 -5.25 10.48 -3.68 7.71 -3.35 7.39 -2.88 6.79 -2.67 6.78 -2.34 6.47 -1.99 6.17 -1.68 5.85 -1.36 5.55 -1.11 5.55 -0.85 5.55 -0.54 5.24 -0.23 4.93 -0.01 2.78 0.07 2.46 0.16 2.47 0.23 2.46 0.33 2.47 0.43 2.47 0.53 2.46 0.55 2.16 0.65 2.16 0.81 2.32 0.79 1.99 0.98 2.16 0.94 1.85 1.04 1.85 1.18 1.87 1.23 1.75 1.26 1.62 1.52 1.76 1.54 1.6 1.54 1.44 1.54 1.3 1.72 1.3 1.67 1.13 1.85 1.11 1.85 0.98 1.85 0.86 1.85 0.74 2.16 0.73 1.85 0.51 2.16 0.48 1.85 0.31zM195.65 265.98l4.34 0.2 4.31 -0.03 4.62 -0.24 4.63 -0.44 4.93 -0.66 5.24 -0.89 5.24 -1.07 5.55 -1.29 5.86 -1.52 6.47 -1.85 6.78 -2.1 7.09 -2.34 12.33 -4.33 18.5 -6.83 0.04 -0.34 -12.68 -4.73 -9.25 -3.36 -8.32 -2.9 -7.71 -2.55 -7.4 -2.28 -6.78 -1.92 -6.47 -1.65 -6.17 -1.37 -6.16 -1.15 -5.86 -0.86 -5.55 -0.56 -5.24 -0.28 -4.93 0 -2.47 0.11 -2.46 0.2 -4.32 0.55 -2.15 0.39 -2.16 0.49 -2.78 0.76 -2.77 0.97 -2.47 1.04 -2.37 1.22 -2.01 1.23 -2.09 1.53 -1.77 1.55 -1.46 1.54 -1.43 1.85 -1.14 1.85 -0.89 1.85 -0.73 2.16 -0.39 1.85 -0.2 2.16 0.08 2.16 0.36 2.15 0.53 1.85 0.76 1.85 1.01 1.85 1.28 1.85 1.61 1.85 1.62 1.54 1.96 1.54 1.85 1.24 2.19 1.22 2.16 1.02 2.46 0.98 2.78 0.89 2.77 0.71 3.08 0.61 3.09 0.44zM376.16 265.98l3.85 0.18 3.7 0.02 3.7 -0.13 3.39 -0.29 3.39 -0.46 3.08 -0.59 3.08 -0.78 2.78 -0.89 2.67 -1.07 2.53 -1.23 2.19 -1.29 2.16 -1.53 1.85 -1.59 1.69 -1.75 1.43 -1.85 1.31 -2.16 0.96 -2.16 0.64 -2.16 0.36 -2.15 0.08 -1.24 -0.01 -1.23 -0.1 -1.23 -0.19 -1.24 -0.57 -2.15 -0.86 -2.16 -1.21 -2.16 -1.33 -1.85 -1.66 -1.85 -2.06 -1.85 -2.11 -1.54 -2.53 -1.52 -2.57 -1.25 -2.67 -1.07 -3.09 -0.98 -2.15 -0.55 -2.16 -0.46 -2.16 -0.37 -2.47 -0.33 -2.46 -0.23 -2.47 -0.15 -4.93 -0.07 -5.55 0.23 -5.55 0.52 -5.85 0.82 -6.17 1.11 -6.16 1.34 -6.79 1.71 -6.78 1.9 -7.4 2.27 -7.7 2.53 -8.63 3 -9.56 3.47 -12.68 4.73 0.04 0.34 15.11 5.59 9.86 3.55 6.78 2.33 5.86 1.93 5.55 1.73 5.55 1.63 4.93 1.35 4.93 1.24 4.63 1.05 4.31 0.87 4.32 0.75 4 0.59 4.01 0.46zM291.7 241.94l0.15 0.14 0.3 0 0.15 -0.14 0.16 -0.42 6.04 -11.3 4.86 -9.24 3.48 -6.79 3.39 -6.78 3.99 -8.32 3.36 -7.4 3.16 -7.4 2.79 -7.09 2.32 -6.47 2.08 -6.47 1.73 -6.17 1.39 -5.86 1.06 -5.54 0.78 -5.55 0.47 -5.24 0.17 -5.24 -0.05 -2.78 -0.12 -2.46 -0.24 -2.78 -0.3 -2.46 -0.4 -2.47 -0.5 -2.47 -0.62 -2.46 -0.61 -2.11 -0.75 -2.21 -0.84 -2.16 -0.88 -1.98 -1 -2.02 -1.16 -2.07 -1.22 -1.94 -1.24 -1.77 -1.26 -1.62 -1.52 -1.76 -1.54 -1.6 -1.54 -1.44 -1.54 -1.3 -1.85 -1.39 -1.85 -1.23 -1.85 -1.09 -1.85 -0.96 -1.85 -0.84 -2.16 -0.83 -1.85 -0.6 -2.15 -0.57 -2.16 -0.45 -2.16 -0.31 -2.16 -0.19 -2.16 -0.07 -2.15 0.05 -2.16 0.18 -2.16 0.29 -2.16 0.42 -2.15 0.56 -1.85 0.58 -2.16 0.81 -1.85 0.82 -1.85 0.94 -1.85 1.07 -1.85 1.2 -1.85 1.37 -1.54 1.27 -1.54 1.41 -1.54 1.57 -1.55 1.74 -1.25 1.58 -1.32 1.85 -1.19 1.85 -1.17 2.04 -1 1.97 -0.98 2.16 -0.85 2.15 -0.75 2.16 -0.65 2.16 -0.63 2.47 -0.51 2.46 -0.41 2.47 -0.32 2.46 -0.25 2.78 -0.13 2.46 -0.06 2.78 0.13 4.93 0.44 5.24 0.75 5.55 1.03 5.55 1.36 5.86 1.61 5.85 1.94 6.17 2.28 6.47 2.38 6.17 2.82 6.78 3 6.78 3.47 7.4 3.62 7.4 4.06 8.01 5.48 10.48 6.7 12.53z"/>
<path fill="#277e8e" fill-rule="evenodd" d="M290.85 394.52l1.92 0.02 1.85 -0.1 1.85 -0.21 1.85 -0.31 1.85 -0.43 1.85 -0.54 1.85 -0.67 1.85 -0.79 1.85 -0.94 1.54 -0.89 1.54 -1 1.65 -1.23 1.43 -1.18 1.54 -1.42 1.36 -1.4 1.42 -1.64 1.23 -1.59 1.18 -1.7 0.98 -1.56 1.03 -1.84 0.93 -1.84 0.95 -2.16 0.79 -2.04 0.66 -1.97 0.64 -2.16 0.53 -2.16 0.45 -2.15 0.41 -2.47 0.32 -2.47 0.22 -2.46 0.14 -2.47 0.06 -2.46 -0.09 -4.63 -0.36 -4.93 -0.65 -5.24 -0.9 -5.24 -1.19 -5.55 -1.42 -5.55 -1.71 -5.85 -2.03 -6.17 -2.22 -6.16 -2.52 -6.48 -2.83 -6.78 -3.12 -7.09 -3.4 -7.4 -3.98 -8.32 -9.69 -19.56 -0.18 -0.48 -0.13 -0.12 -0.3 0 -0.13 0.12 -0.18 0.48 -9.69 19.56 -3.4 7.09 -2.86 6.16 -3.31 7.4 -3.13 7.4 -2.68 6.78 -2.26 6.17 -2.07 6.16 -1.76 5.86 -1.46 5.55 -1.25 5.55 -0.95 5.24 -0.71 5.24 -0.42 4.93 -0.16 4.62 0.12 4.94 0.41 4.62 0.35 2.47 0.39 2.15 0.47 2.16 0.56 2.16 0.66 2.16 0.65 1.85 0.75 1.87 0.92 2.06 0.93 1.81 0.93 1.65 1.17 1.85 1.09 1.54 1.2 1.55 1.34 1.54 1.36 1.4 1.48 1.37 1.6 1.32 1.54 1.14 1.54 1 1.54 0.89 1.54 0.79 1.85 0.82 1.85 0.69 1.85 0.56 1.85 0.45 1.85 0.33 1.85 0.22zM207.99 261.36l3.71 0.05 3.7 -0.1 4.01 -0.26 4.31 -0.43 4.32 -0.58 4.62 -0.76 4.62 -0.88 4.94 -1.07 5.24 -1.26 5.85 -1.53 5.86 -1.65 6.47 -1.93 10.79 -3.41 14.8 -4.89 0.31 -0.11 0 -0.3 -19.73 -6.49 -7.4 -2.3 -6.78 -2 -6.78 -1.86 -6.17 -1.55 -5.85 -1.33 -5.55 -1.09 -5.55 -0.92 -5.24 -0.67 -4.93 -0.43 -4.63 -0.2 -4.62 0.02 -4.32 0.26 -4 0.5 -3.7 0.71 -2.69 0.7 -2.25 0.73 -2.15 0.85 -2.16 1.03 -1.89 1.09 -1.78 1.23 -1.57 1.31 -1.43 1.47 -1.2 1.54 -0.94 1.54 -0.69 1.54 -0.48 1.54 -0.28 1.54 -0.07 1.85 0.21 1.85 0.4 1.54 0.61 1.54 0.83 1.55 1.09 1.54 1.33 1.48 1.41 1.29 1.63 1.23 1.89 1.2 1.83 0.96 2.09 0.93 2.25 0.82 2.41 0.72 2.21 0.53 2.47 0.47 2.77 0.4 2.78 0.27zM369.79 261.36l3.44 0.05 3.08 -0.06 3.08 -0.19 3.08 -0.33 2.78 -0.42 2.77 -0.58 2.47 -0.65 2.46 -0.82 2.16 -0.88 2.16 -1.05 2.06 -1.24 1.7 -1.23 1.48 -1.29 1.38 -1.48 1.15 -1.55 0.86 -1.49 0.68 -1.59 0.5 -1.85 0.21 -1.85 -0.07 -1.85 -0.36 -1.85 -0.52 -1.54 -0.92 -1.85 -1.03 -1.54 -1.32 -1.54 -1.66 -1.54 -1.63 -1.23 -1.96 -1.24 -2.09 -1.08 -2.47 -1.04 -2.46 -0.84 -2.47 -0.68 -3.7 -0.75 -4.04 -0.54 -4.28 -0.3 -4.63 -0.05 -4.93 0.19 -4.93 0.42 -5.24 0.66 -5.55 0.9 -5.86 1.15 -5.85 1.33 -6.17 1.55 -6.47 1.78 -6.78 1.99 -7.71 2.39 -19.73 6.49 0 0.3 0.31 0.11 12.95 4.29 9.55 3.06 11.72 3.5 5.24 1.45 5.24 1.34 4.62 1.1 4.32 0.94 4.31 0.83 4.01 0.68 4.01 0.58 3.7 0.42 3.7 0.32zM291.72 241.94l0.13 0.12 0.3 0 0.13 -0.12 0.18 -0.48 9.4 -18.94 5.85 -12.33 3.6 -8.02 3.16 -7.4 2.83 -7.09 2.38 -6.47 2.08 -6.16 1.77 -5.86 1.55 -5.86 1.25 -5.55 0.95 -5.24 0.71 -5.24 0.42 -4.93 0.16 -4.93 -0.14 -4.93 -0.19 -2.47 -0.28 -2.47 -0.36 -2.36 -0.43 -2.26 -0.49 -2.16 -0.59 -2.16 -0.64 -2.02 -0.73 -1.98 -0.82 -1.98 -0.92 -1.97 -0.92 -1.75 -1.01 -1.7 -1.15 -1.76 -1.2 -1.63 -1.25 -1.54 -1.25 -1.39 -1.39 -1.39 -1.39 -1.24 -1.54 -1.24 -1.54 -1.11 -1.63 -1.03 -1.76 -0.98 -1.54 -0.75 -1.85 -0.77 -1.85 -0.65 -1.85 -0.52 -1.85 -0.41 -1.85 -0.3 -1.85 -0.18 -2.16 -0.09 -2.15 0.07 -1.85 0.17 -1.85 0.27 -1.85 0.39 -1.85 0.51 -1.85 0.62 -1.85 0.75 -1.54 0.73 -1.85 1.01 -1.54 0.96 -1.54 1.08 -1.5 1.17 -1.41 1.23 -1.41 1.38 -1.29 1.4 -1.28 1.54 -1.16 1.54 -1.2 1.79 -0.97 1.6 -1 1.85 -0.89 1.85 -0.84 1.96 -0.77 2.05 -0.71 2.16 -0.6 2.15 -0.51 2.16 -0.42 2.16 -0.38 2.41 -0.27 2.21 -0.21 2.47 -0.18 4.93 0.11 4.63 0.37 4.93 0.67 5.24 0.91 5.24 1.2 5.55 1.43 5.55 1.73 5.85 1.93 5.86 2.11 5.86 2.39 6.16 2.8 6.78 3.11 7.09 3.25 7.09 3.51 7.4 4.82 9.87 5.77 11.54z"/>
<path fill="#238a8d" fill-rule="evenodd" d="M288.04 384.66l1.65 0.2 1.85 0.09 1.85 -0.03 1.54 -0.13 1.85 -0.26 1.54 -0.33 1.85 -0.52 1.54 -0.54 1.54 -0.65 1.54 -0.75 1.54 -0.88 1.55 -1.01 1.54 -1.16 1.32 -1.12 1.45 -1.39 1.23 -1.32 1.24 -1.48 1.01 -1.36 1.14 -1.7 1.02 -1.69 0.83 -1.57 0.93 -1.94 0.84 -2.04 0.67 -1.85 0.65 -2.04 0.53 -1.96 0.49 -2.16 0.41 -2.16 0.32 -2.16 0.28 -2.46 0.29 -4.63 0.01 -4.62 -0.24 -4.63 -0.5 -4.93 -0.73 -4.93 -0.99 -5.24 -1.2 -5.24 -1.48 -5.55 -1.75 -5.86 -1.94 -5.85 -2.21 -6.17 -2.5 -6.47 -2.76 -6.78 -3.17 -7.4 -3.42 -7.71 -8.94 -19.42 -0.1 -0.1 -0.3 0 -0.1 0.1 -8.38 18.19 -5.32 12.02 -2.98 7.09 -2.58 6.47 -2.32 6.17 -2.15 6.17 -1.78 5.54 -1.61 5.55 -1.35 5.24 -1.09 4.93 -0.9 4.94 -0.66 4.62 -0.47 4.62 -0.23 4.32 -0.01 4.62 0.24 4.32 0.51 4.32 0.76 4 0.97 3.7 0.6 1.85 0.69 1.85 1.5 3.39 1.69 3.05 1.9 2.81 1.18 1.5 1.12 1.27 1.19 1.24 1.34 1.23 1.28 1.05 1.23 0.92 1.24 0.82 1.54 0.9 1.54 0.78 1.54 0.67 1.54 0.56 1.54 0.46 1.55 0.37zM217.26 257.04l3.38 0.07 3.39 -0.06 3.7 -0.19 3.7 -0.32 3.7 -0.42 4.31 -0.61 4.01 -0.67 4.62 -0.87 4.63 -0.98 5.24 -1.2 6.16 -1.54 5.86 -1.55 9.86 -2.76 11.41 -3.31 0.21 -0.08 0 -0.3 -17.16 -4.96 -6.79 -1.85 -5.85 -1.52 -5.86 -1.41 -5.24 -1.17 -5.24 -1.04 -4.93 -0.86 -4.94 -0.72 -4.31 -0.49 -4.32 -0.35 -4.31 -0.17 -4.01 0.01 -3.7 0.18 -3.39 0.35 -3.39 0.56 -2.22 0.49 -2.1 0.58 -1.9 0.65 -1.79 0.74 -1.65 0.8 -1.58 0.93 -1.4 0.99 -1.34 1.17 -0.87 0.92 -0.94 1.23 -0.7 1.24 -0.49 1.23 -0.3 1.23 -0.12 1.54 0.12 1.24 0.3 1.23 0.49 1.23 0.7 1.24 0.94 1.23 0.87 0.92 1.04 0.93 1.53 1.12 1.55 0.93 1.54 0.77 1.85 0.78 1.85 0.65 1.85 0.54 2.15 0.51 2.16 0.4 2.47 0.35 2.46 0.25zM359.7 257.04l3.04 0.07 2.78 -0.03 2.77 -0.12 2.73 -0.23 2.51 -0.31 2.47 -0.43 2.22 -0.49 2.1 -0.58 1.9 -0.65 2.1 -0.88 1.54 -0.77 1.55 -0.93 1.53 -1.12 1.04 -0.93 1.13 -1.23 0.87 -1.23 0.65 -1.24 0.53 -1.54 0.2 -1.23 0 -1.54 -0.29 -1.54 -0.44 -1.23 -0.65 -1.24 -0.88 -1.24 -1.12 -1.22 -1.34 -1.17 -1.4 -0.99 -1.68 -0.98 -1.85 -0.89 -2.16 -0.84 -2.17 -0.68 -2.46 -0.61 -3.39 -0.62 -3.39 -0.4 -3.7 -0.23 -4 -0.06 -4.32 0.14 -4.31 0.31 -4.63 0.5 -4.93 0.7 -4.93 0.84 -5.24 1.03 -5.55 1.22 -6.17 1.49 -5.85 1.52 -6.79 1.85 -17.16 4.96 0 0.3 0.21 0.08 17.88 5.14 10.48 2.8 4.93 1.22 5.24 1.2 8.02 1.63 7.27 1.19 3.52 0.46 3.39 0.36 3.08 0.25zM291.75 241.94l0.1 0.1 0.3 0 0.1 -0.1 8.38 -18.19 5.19 -11.71 3.11 -7.4 2.82 -7.09 2.41 -6.47 2.13 -6.17 1.85 -5.86 1.56 -5.55 1.3 -5.24 1.11 -5.24 0.84 -4.93 0.63 -4.93 0.38 -4.62 0.15 -4.63 -0.12 -4.62 -0.37 -4.32 -0.66 -4.31 -0.92 -4.01 -0.6 -2.06 -0.62 -1.83 -0.76 -1.97 -0.78 -1.78 -0.92 -1.87 -0.89 -1.59 -0.95 -1.54 -0.94 -1.36 -1.23 -1.62 -1.14 -1.33 -1.17 -1.24 -1.3 -1.23 -1.32 -1.12 -1.38 -1.04 -1.4 -0.94 -1.54 -0.9 -1.54 -0.78 -1.54 -0.67 -1.54 -0.56 -1.54 -0.46 -1.55 -0.37 -1.85 -0.31 -1.54 -0.16 -1.85 -0.07 -1.85 0.05 -1.54 0.14 -1.85 0.29 -1.54 0.35 -1.54 0.44 -1.54 0.54 -1.54 0.65 -1.54 0.75 -1.54 0.88 -1.27 0.82 -1.51 1.11 -1.28 1.05 -1.34 1.23 -1.19 1.24 -1.12 1.27 -1.23 1.57 -1.04 1.47 -0.98 1.54 -0.88 1.55 -0.94 1.84 -0.83 1.85 -0.73 1.85 -1.2 3.7 -0.97 4.01 -0.7 4.32 -0.41 4.31 -0.16 4.63 0.1 4.31 0.33 4.62 0.55 4.63 0.79 4.93 1.06 5.24 1.25 5.24 1.53 5.55 1.71 5.55 1.97 5.86 2.13 5.85 2.39 6.17 2.65 6.47 2.77 6.47 3.28 7.4z"/>
<path fill="#1f968b" fill-rule="evenodd" d="M288.99 375.41l1.31 0.14 1.55 0.07 1.54 -0.04 1.54 -0.16 1.54 -0.26 1.54 -0.37 1.54 -0.49 1.24 -0.49 1.54 -0.72 1.23 -0.67 1.54 -0.98 1.23 -0.91 1.24 -1.02 1.23 -1.15 1.2 -1.27 0.96 -1.12 1.88 -2.58 0.89 -1.43 0.93 -1.66 0.75 -1.53 0.81 -1.85 0.71 -1.85 0.61 -1.85 0.99 -3.7 0.76 -4.01 0.5 -4.31 0.23 -4.32 -0.01 -4.31 -0.23 -4.32 -0.45 -4.62 -0.65 -4.63 -0.89 -4.93 -1.07 -4.93 -1.32 -5.24 -1.47 -5.24 -1.62 -5.24 -1.97 -5.86 -2.1 -5.86 -2.45 -6.47 -2.7 -6.78 -3.07 -7.4 -7.79 -18.19 -0.08 -0.07 -0.3 0 -0.08 0.07 -7.14 16.65 -4.71 11.4 -2.66 6.79 -2.29 6.16 -2.05 5.86 -1.81 5.55 -1.58 5.24 -1.42 5.24 -1.18 4.93 -0.96 4.62 -0.79 4.63 -0.58 4.31 -0.41 4.32 -0.21 4.31 0.01 4.32 0.22 4.01 0.46 4 0.67 3.72 0.92 3.65 1.15 3.42 1.32 3.07 1.54 2.9 1.74 2.66 1.03 1.35 0.96 1.12 2.12 2.15 1.24 1.05 1.23 0.93 1.23 0.82 1.24 0.73 2.46 1.17 1.24 0.46 1.54 0.47 1.23 0.29zM225.74 253.03l2.91 0.14 2.78 0.02 3.08 -0.07 3.39 -0.18 3.39 -0.28 3.7 -0.4 3.7 -0.49 4.01 -0.61 4.93 -0.87 4.62 -0.9 10.18 -2.21 7.7 -1.83 11.1 -2.76 0.11 -0.04 0 -0.3 -14.91 -3.69 -10.79 -2.45 -9.52 -1.88 -8.05 -1.29 -4.31 -0.55 -3.7 -0.36 -3.7 -0.27 -3.7 -0.14 -3.39 0 -3.08 0.12 -3.09 0.25 -2.86 0.39 -1.76 0.33 -1.85 0.42 -1.71 0.48 -1.37 0.47 -1.54 0.63 -1.24 0.59 -1.23 0.72 -0.98 0.68 -0.87 0.72 -0.81 0.82 -0.7 0.92 -0.5 0.93 -0.33 0.92 -0.17 0.93 0 0.92 0.17 0.93 0.33 0.92 0.5 0.93 0.59 0.78 0.7 0.76 1.09 0.92 0.88 0.62 1.03 0.62 1.23 0.61 1.45 0.62 1.32 0.47 1.54 0.47 1.85 0.45 3.7 0.66zM347.58 253.03l5.3 0.17 4.93 -0.14 4.32 -0.4 1.85 -0.28 2.16 -0.42 1.89 -0.47 1.8 -0.55 1.78 -0.68 1.31 -0.6 1.23 -0.68 1.23 -0.83 0.82 -0.66 0.92 -0.93 0.7 -0.92 0.5 -0.93 0.33 -0.92 0.19 -1.24 -0.11 -1.23 -0.28 -0.92 -0.63 -1.24 -0.7 -0.92 -0.92 -0.93 -1.18 -0.92 -1.49 -0.92 -1.22 -0.62 -1.46 -0.62 -1.77 -0.62 -2.02 -0.56 -1.85 -0.41 -2.77 -0.46 -3.09 -0.33 -3.08 -0.19 -3.39 -0.06 -3.7 0.09 -3.7 0.21 -4 0.36 -4.32 0.51 -4.32 0.63 -4.93 0.83 -9.4 1.85 -10.94 2.48 -14.91 3.69 0 0.3 0.11 0.04 11.1 2.76 10.48 2.46 8.94 1.89 6.47 1.2 6.47 1 5.86 0.7zM291.77 241.94l0.08 0.07 0.3 0 0.08 -0.07 7.14 -16.65 4.71 -11.4 2.78 -7.09 2.4 -6.48 2.14 -6.16 1.88 -5.86 1.53 -5.24 1.39 -5.24 1.14 -4.93 0.97 -4.93 0.74 -4.63 0.55 -4.62 0.32 -4.32 0.12 -4.31 -0.1 -4.32 -0.36 -4.31 -0.6 -4.01 -0.82 -3.7 -1.04 -3.45 -1.29 -3.33 -1.51 -3.08 -0.9 -1.55 -0.92 -1.43 -0.97 -1.34 -1.19 -1.46 -0.92 -1.03 -1.24 -1.22 -1.23 -1.09 -1.23 -0.96 -1.24 -0.85 -1.23 -0.74 -1.25 -0.67 -1.52 -0.68 -1.24 -0.46 -1.54 -0.47 -1.23 -0.29 -1.54 -0.26 -1.23 -0.13 -1.55 -0.07 -1.54 0.04 -1.23 0.12 -1.54 0.24 -1.23 0.27 -1.55 0.44 -1.23 0.45 -1.54 0.66 -1.23 0.63 -1.24 0.73 -1.23 0.82 -1.23 0.93 -1.24 1.05 -1.23 1.19 -0.92 0.99 -1.24 1.48 -0.94 1.26 -0.91 1.36 -0.92 1.53 -1.54 3.03 -1.35 3.33 -1.12 3.6 -0.87 3.8 -0.62 4.01 -0.37 4 -0.13 4.32 0.07 4.01 0.29 4.31 0.51 4.63 0.7 4.62 0.87 4.63 1.1 4.93 1.35 5.24 1.5 5.24 1.64 5.24 1.88 5.55 2.11 5.85 2.35 6.17 2.58 6.47 2.81 6.78z"/>
<path fill="#1fa287" fill-rule="evenodd" d="M288.99 366.17l1.31 0.17 1.24 0.07 1.54 -0.02 1.23 -0.12 1.54 -0.27 1.24 -0.31 1.23 -0.41 1.23 -0.5 1.24 -0.6 1.23 -0.71 1.23 -0.84 1.02 -0.78 1.14 -0.99 0.92 -0.91 1.08 -1.18 1 -1.24 1.69 -2.46 1.52 -2.78 1.35 -3.08 1.14 -3.39 0.86 -3.39 0.66 -3.7 0.45 -4.01 0.21 -4 0 -4.01 -0.19 -4.01 -0.39 -4.31 -0.56 -4.32 -0.77 -4.62 -0.93 -4.63 -1.15 -4.93 -1.29 -4.93 -1.51 -5.24 -1.63 -5.24 -1.85 -5.55 -2.07 -5.86 -2.28 -6.16 -2.6 -6.79 -6.92 -17.31 -0.3 0 -0.06 0.05 -6.02 15.11 -4.02 10.48 -2.36 6.47 -2.04 5.86 -1.81 5.55 -1.59 5.24 -1.38 4.93 -1.25 4.93 -1.03 4.63 -0.84 4.31 -0.69 4.32 -0.5 4 -0.36 4.01 -0.19 4.01 0 4.01 0.19 3.69 0.38 3.7 0.56 3.39 0.79 3.4 0.95 3.06 1.09 2.79 1.34 2.78 1.48 2.46 1.63 2.23 1.85 2.05 1.03 0.96 1.12 0.93 2.17 1.49 2.16 1.13 2.16 0.82 1.23 0.33zM235.69 249.34l2.52 0.17 2.47 0.08 5.24 -0.07 6.16 -0.41 6.47 -0.7 8.33 -1.22 8.82 -1.55 15.53 -3.08 0.01 -0.31 -12.3 -2.47 -8.33 -1.54 -7.61 -1.23 -7.03 -0.93 -6.66 -0.61 -5.86 -0.26 -2.77 0 -2.47 0.08 -2.47 0.17 -2.15 0.23 -2.78 0.46 -2.77 0.67 -2.26 0.8 -1.75 0.89 -1.34 0.96 -0.61 0.62 -0.45 0.61 -0.41 0.93 -0.1 0.62 0.04 0.61 0.16 0.62 0.31 0.62 0.73 0.92 0.7 0.62 0.66 0.46 0.78 0.46 1.07 0.52 1.88 0.71 2.44 0.67 2.77 0.52zM334.74 249.34l4.58 0.22 4.31 0.02 4.01 -0.19 3.35 -0.36 3.33 -0.62 2.57 -0.73 2.16 -0.88 0.99 -0.55 0.9 -0.61 0.7 -0.62 0.53 -0.62 0.37 -0.61 0.3 -0.93 0 -0.92 -0.16 -0.62 -0.31 -0.62 -0.55 -0.73 -0.62 -0.59 -0.92 -0.68 -0.78 -0.46 -1.28 -0.62 -1.33 -0.5 -1.36 -0.42 -1.72 -0.43 -1.85 -0.35 -2.16 -0.3 -2.47 -0.23 -2.77 -0.15 -2.78 -0.04 -3.08 0.06 -3.08 0.15 -6.48 0.55 -3.69 0.43 -4.32 0.6 -7.71 1.24 -8.36 1.55 -12.3 2.47 0.01 0.31 12.29 2.46 10.13 1.85 5.81 0.92 4.47 0.62 4.91 0.56zM291.79 241.94l0.06 0.05 0.3 0 0.06 -0.05 6.26 -15.72 3.9 -10.18 2.35 -6.47 2.13 -6.16 1.9 -5.86 1.66 -5.55 1.34 -4.93 1.22 -4.93 0.99 -4.63 0.85 -4.62 0.64 -4.32 0.48 -4.31 0.28 -4.01 0.1 -4.01 -0.09 -4.01 -0.32 -4 -0.52 -3.7 -0.7 -3.39 -0.95 -3.38 -1.13 -3.1 -1.33 -2.86 -1.55 -2.66 -0.92 -1.35 -0.87 -1.14 -1.9 -2.12 -1.03 -0.96 -1.13 -0.94 -2.16 -1.48 -2.16 -1.13 -1.23 -0.5 -1.23 -0.41 -1.24 -0.31 -1.23 -0.23 -1.23 -0.14 -1.24 -0.05 -1.23 0.03 -1.23 0.12 -1.23 0.2 -1.24 0.29 -1.23 0.39 -1.23 0.47 -1.24 0.58 -1.23 0.69 -2.16 1.48 -1.13 0.94 -1.03 0.96 -1.9 2.12 -1.78 2.47 -1.56 2.68 -1.33 2.86 -1.13 3.09 -0.93 3.28 -0.72 3.5 -0.52 3.7 -0.3 3.7 -0.11 4 0.08 3.7 0.25 4.01 0.41 4.01 0.61 4.31 0.76 4.32 0.95 4.62 1.18 4.93 1.31 4.94 1.44 4.93 1.65 5.24 1.76 5.24 2.07 5.86 4.53 12.02z"/>
<path fill="#28ae80" fill-rule="evenodd" d="M291.27 357.23l2.12 -0.05 1.23 -0.18 0.92 -0.2 1.24 -0.36 0.92 -0.35 1.24 -0.58 0.92 -0.52 1.85 -1.27 1.85 -1.64 1.72 -1.94 1.54 -2.16 1.36 -2.39 1.24 -2.69 0.95 -2.63 0.88 -3.08 0.65 -3.08 0.5 -3.39 0.32 -3.7 0.13 -3.7 -0.05 -3.7 -0.2 -3.7 -0.34 -3.7 -0.51 -4.01 -0.63 -4 -0.82 -4.32 -1.01 -4.62 -1.13 -4.63 -1.24 -4.62 -1.43 -4.93 -1.62 -5.24 -1.72 -5.24 -4.08 -11.72 -5.92 -16.06 -0.33 0.03 -5.22 14.18 -3.39 9.56 -2.08 6.16 -1.77 5.55 -1.67 5.55 -1.37 4.93 -1.17 4.63 -1.06 4.62 -0.87 4.32 -0.7 4 -0.56 4.01 -0.44 4.01 -0.26 3.7 -0.11 3.7 0.05 3.7 0.24 3.69 0.41 3.4 0.55 3.08 0.76 3.08 0.89 2.77 1.13 2.78 1.25 2.45 1.54 2.42 1.52 1.91 1.57 1.61 1.85 1.51 1.85 1.17 0.92 0.46 1.23 0.52 0.93 0.3 1.23 0.31 1.23 0.2zM253.98 246.25l3.65 -0.01 4.01 -0.17 4.31 -0.31 4.46 -0.43 7.65 -0.93 12.86 -1.84 0.03 -0.31 -8.4 -1.24 -6.87 -0.92 -5.27 -0.62 -5.38 -0.5 -4.63 -0.3 -4.31 -0.13 -4.01 0.06 -3.45 0.26 -2.25 0.3 -1.55 0.31 -1.69 0.48 -1.23 0.5 -0.95 0.56 -0.61 0.62 -0.17 0.31 -0.09 0.31 0 0.3 0.26 0.62 0.61 0.62 1.05 0.61 1.44 0.55 1.38 0.38 1.7 0.33 2.16 0.29 2.47 0.2zM327.24 246.25l2.83 0 2.77 -0.1 2.53 -0.21 2.25 -0.3 1.7 -0.35 1.94 -0.58 1.32 -0.61 0.74 -0.56 0.33 -0.37 0.17 -0.31 0.09 -0.31 0 -0.3 -0.26 -0.62 -0.25 -0.31 -0.82 -0.62 -1.32 -0.61 -1.63 -0.5 -2.01 -0.43 -2 -0.28 -3.39 -0.26 -4.01 -0.08 -4.32 0.11 -4.62 0.29 -5.69 0.53 -5.27 0.62 -6.87 0.92 -8.4 1.24 0.03 0.31 10.58 1.54 7.19 0.92 5.66 0.6 3.7 0.31 3.69 0.22zM291.82 241.94l0.36 0 5.22 -14.18 3.39 -9.56 2.08 -6.16 1.87 -5.86 1.57 -5.24 1.45 -5.24 1.17 -4.62 1.05 -4.63 0.86 -4.31 0.73 -4.32 0.55 -4.01 0.41 -4 0.24 -3.7 0.08 -3.7 -0.08 -3.7 -0.27 -3.7 -0.44 -3.39 -0.6 -3.08 -0.8 -3.09 -0.94 -2.77 -1.19 -2.78 -1.27 -2.36 -1.5 -2.26 -1.58 -1.91 -1.85 -1.79 -1.85 -1.39 -1.85 -1.06 -0.93 -0.42 -1.23 -0.45 -0.93 -0.26 -1.23 -0.26 -2.16 -0.18 -2.15 0.14 -1.24 0.22 -0.92 0.25 -1.23 0.42 -0.93 0.4 -1.92 1.05 -1.78 1.29 -0.92 0.8 -1.01 0.99 -0.84 0.95 -0.93 1.16 -1.48 2.21 -1.29 2.39 -1.11 2.54 -0.97 2.77 -0.82 3.09 -0.62 3.08 -0.46 3.39 -0.29 3.7 -0.09 3.7 0.07 3.7 0.23 3.7 0.36 3.7 0.53 4 0.65 4.01 0.84 4.32 0.95 4.31 1.14 4.63 1.25 4.62 1.43 4.93 1.53 4.93 1.72 5.24 4.08 11.72z"/>
<path fill="#38b977" fill-rule="evenodd" d="M289.37 347.67l1.86 0.28 1.23 0.02 0.93 -0.08 1.85 -0.38 1.85 -0.71 0.92 -0.49 0.93 -0.58 1.54 -1.2 1.54 -1.54 1.54 -1.96 1.24 -1.99 1.23 -2.45 0.97 -2.48 0.88 -2.85 0.69 -3.01 0.5 -3.08 0.36 -3.39 0.17 -3.39 0.02 -3.4 -0.11 -3.39 -0.27 -3.7 -0.39 -3.69 -0.56 -4.01 -0.67 -4.01 -0.78 -4.01 -0.95 -4.31 -1.04 -4.32 -1.21 -4.62 -2.86 -9.87 -3.63 -11.4 -5 -14.8 -0.31 0 -3.97 11.72 -2.82 8.63 -1.83 5.85 -1.56 5.24 -1.46 5.24 -1.2 4.63 -1.03 4.31 -0.87 4.01 -0.78 4.01 -0.61 3.7 -0.52 3.7 -0.37 3.39 -0.27 3.39 -0.15 3.39 -0.02 3.39 0.11 3.08 0.25 3.09 0.37 2.77 0.51 2.77 0.69 2.78 0.74 2.31 0.92 2.33 1.06 2.14 1.11 1.85 1.23 1.68 1.54 1.7 1.54 1.33 1.54 1.02 1.54 0.76zM270.27 242.86l1.85 0.18 1.85 0.09 4.93 -0.03 5.68 -0.24 5.06 -0.31 0 -0.3 -5.06 -0.31 -4.76 -0.2 -3.08 -0.09 -2.77 0.02 -1.85 0.09 -1.85 0.18 -1.11 0.31 0 0.3zM299.42 242.86l6.91 0.27 4.32 -0.02 3.08 -0.25 1.11 -0.31 0 -0.3 -1.11 -0.31 -3.08 -0.25 -3.08 -0.04 -4.01 0.11 -4.14 0.18 -5.06 0.31 0 0.3zM291.84 241.94l0.32 0 4.27 -12.64 2.81 -8.63 1.82 -5.86 1.54 -5.24 1.45 -5.24 1.26 -4.93 1 -4.32 0.9 -4.31 0.73 -4.01 0.58 -3.7 0.47 -3.7 0.35 -3.7 0.21 -3.39 0.08 -3.39 -0.06 -3.39 -0.22 -3.39 -0.37 -3.08 -0.49 -2.85 -0.63 -2.7 -0.86 -2.78 -0.97 -2.48 -1.06 -2.14 -1.32 -2.16 -1.32 -1.75 -1.54 -1.61 -1.55 -1.27 -1.54 -0.97 -1.85 -0.82 -1.85 -0.49 -1.85 -0.18 -1.85 0.13 -1.84 0.44 -1.85 0.76 -1.55 0.92 -1.54 1.2 -1.54 1.54 -1.54 1.96 -1.23 1.97 -1.1 2.18 -1 2.47 -0.8 2.46 -0.69 2.78 -0.56 3.08 -0.38 3.08 -0.22 3.08 -0.09 3.39 0.06 3.4 0.18 3.39 0.3 3.39 0.44 3.7 0.55 3.69 0.71 4.01 0.81 4.01 0.98 4.32 1.07 4.31 1.23 4.62 2.8 9.56 3.45 10.79z"/>
<path fill="#50c46a" fill-rule="evenodd" d="M290.92 338.42l1.54 0.06 1.54 -0.23 1.54 -0.51 1.55 -0.82 1.54 -1.18 1.23 -1.24 1.23 -1.57 1.02 -1.6 0.95 -1.85 0.9 -2.16 0.8 -2.46 0.65 -2.6 0.49 -2.64 0.36 -2.78 0.24 -3.08 0.1 -3.08 -0.02 -3.08 -0.13 -3.09 -0.22 -3.08 -0.35 -3.39 -0.45 -3.39 -0.58 -3.7 -0.66 -3.7 -0.82 -4.01 -1.86 -8.01 -2.27 -8.63 -3.04 -10.48 -4.05 -13.2 -0.3 0 -0.09 0.25 -3.31 10.79 -2.2 7.4 -2.98 10.79 -2.17 8.94 -1.57 7.7 -0.64 3.7 -0.49 3.39 -0.41 3.39 -0.29 3.09 -0.2 3.08 -0.1 3.08 0.01 3.08 0.12 2.78 0.25 2.77 0.37 2.78 0.47 2.46 0.62 2.47 0.69 2.16 0.87 2.15 0.92 1.85 1.19 1.91 1.23 1.57 1.13 1.15 1.34 1.06 1.32 0.79 1.45 0.59zM291.76 241.63l0.09 0.25 0.3 0 4.97 -16.28 1.86 -6.47 1.51 -5.55 1.25 -4.93 1.16 -4.94 0.92 -4.31 0.71 -3.7 0.62 -3.7 0.54 -3.7 0.39 -3.39 0.29 -3.39 0.17 -3.08 0.07 -3.09 -0.05 -3.08 -0.16 -2.77 -0.28 -2.78 -0.43 -2.77 -0.59 -2.73 -0.62 -2.2 -0.76 -2.16 -0.96 -2.16 -1.05 -1.9 -1.23 -1.76 -1.24 -1.4 -1.23 -1.1 -1.23 -0.85 -1.54 -0.76 -1.54 -0.45 -1.55 -0.17 -1.54 0.11 -1.54 0.4 -1.54 0.69 -1.23 0.8 -1.54 1.33 -1.21 1.36 -1.1 1.54 -1.06 1.85 -0.95 2.07 -0.72 1.94 -0.73 2.47 -0.56 2.46 -0.46 2.71 -0.3 2.69 -0.2 2.93 -0.08 3.08 0.04 3.08 0.16 3.08 0.24 3.09 0.37 3.39 0.46 3.39 0.54 3.39 0.67 3.7 0.82 4 1.87 8.02 2.2 8.32 2.76 9.56z"/>
<path fill="#6ccd5a" fill-rule="evenodd" d="M291.18 328.56l1.28 0.04 1.24 -0.22 1.23 -0.47 1.23 -0.74 1.23 -1.06 0.93 -1.04 0.92 -1.29 0.93 -1.61 0.88 -1.94 0.66 -1.83 0.62 -2.15 0.48 -2.18 0.4 -2.47 0.29 -2.46 0.17 -2.47 0.09 -2.77 -0.01 -2.78 -0.11 -2.77 -0.46 -5.86 -0.84 -6.47 -1.22 -7.09 -1.55 -7.4 -1.87 -7.85 -2.45 -9.41 -3.1 -11.27 -0.3 0 -0.06 0.17 -4.27 15.72 -2.45 9.87 -1.82 8.32 -1.27 6.89 -0.92 6.42 -0.59 6.11 -0.16 2.77 -0.07 2.78 0.02 2.77 0.1 2.47 0.2 2.46 0.31 2.47 0.38 2.16 0.5 2.16 0.54 1.86 0.79 2.14 0.75 1.63 0.93 1.61 0.92 1.29 0.93 1.04 0.92 0.82 1.23 0.82 1.24 0.54zM291.79 241.63l0.06 0.17 0.3 0 0.06 -0.17 3.95 -14.49 2.48 -9.86 1.2 -5.24 0.91 -4.32 1.3 -7.09 0.92 -6.47 0.33 -3.08 0.25 -3.09 0.16 -3.08 0.05 -2.77 -0.04 -2.78 -0.15 -2.77 -0.24 -2.47 -0.35 -2.46 -0.43 -2.16 -0.53 -2.09 -0.62 -1.92 -0.75 -1.85 -0.79 -1.59 -0.92 -1.49 -0.96 -1.24 -1.2 -1.2 -0.93 -0.7 -1.23 -0.67 -1.23 -0.41 -1.24 -0.15 -1.23 0.09 -1.23 0.34 -1.23 0.6 -0.93 0.65 -1.23 1.14 -0.93 1.12 -0.92 1.38 -0.93 1.74 -0.81 1.93 -0.62 1.85 -0.57 2.16 -0.44 2.16 -0.38 2.46 -0.25 2.47 -0.15 2.46 -0.06 2.78 0.13 5.24 0.48 5.86 0.82 6.27 1.21 6.98 1.55 7.4 1.83 7.71 2.49 9.55z"/>
<path fill="#8bd646" fill-rule="evenodd" d="M291.51 318.08l0.95 0 0.93 -0.2 0.92 -0.42 0.93 -0.64 0.92 -0.9 0.62 -0.77 0.88 -1.39 0.66 -1.32 0.62 -1.52 0.56 -1.78 0.47 -1.85 0.36 -1.85 0.32 -2.16 0.21 -2.16 0.15 -2.46 0.06 -2.47 -0.09 -4.62 -0.37 -5.24 -0.68 -5.86 -0.89 -5.86 -1.06 -5.85 -1.51 -7.29 -1.84 -8.13 -2.48 -10.26 -0.3 0 -0.03 0.09 -2.75 11.47 -2.16 9.71 -1.58 8.11 -1.05 6.47 -0.74 5.86 -0.44 5.24 -0.17 4.93 0.1 4.62 0.16 2.16 0.24 2.16 0.35 2.16 0.36 1.71 0.45 1.68 0.5 1.54 0.59 1.45 0.62 1.25 0.61 1.02 0.93 1.21 0.92 0.9 0.93 0.64 0.92 0.42zM291.82 241.63l0.03 0.09 0.3 0 0.03 -0.09 2.45 -10.17 2.46 -11.01 1.58 -8.11 1.05 -6.47 0.74 -5.86 0.46 -5.54 0.16 -4.94 -0.03 -2.46 -0.12 -2.47 -0.18 -2.16 -0.27 -2.15 -0.32 -1.85 -0.41 -1.85 -0.51 -1.8 -0.57 -1.59 -0.66 -1.5 -0.62 -1.12 -0.73 -1.08 -0.81 -0.95 -0.92 -0.81 -0.93 -0.57 -0.92 -0.34 -0.93 -0.13 -0.92 0.06 -0.93 0.28 -0.92 0.48 -0.92 0.73 -0.88 0.94 -0.68 0.92 -0.89 1.55 -0.64 1.42 -0.6 1.66 -0.44 1.54 -0.49 2.16 -0.32 1.83 -0.43 4.02 -0.17 4.63 0.13 4.93 0.4 5.24 0.66 5.55 0.9 5.86 1.01 5.54 1.51 7.29 1.84 8.13z"/>
<path fill="#addc30" fill-rule="evenodd" d="M290.96 306.36l0.89 0.21 0.61 -0.04 0.62 -0.18 0.62 -0.34 0.61 -0.5 0.62 -0.69 0.61 -0.92 0.64 -1.24 0.5 -1.23 0.41 -1.25 0.39 -1.52 0.36 -1.85 0.47 -3.7 0.2 -4.01 -0.02 -4.01 -0.24 -4.62 -0.49 -5.24 -0.67 -5.24 -0.91 -5.86 -0.94 -5.39 -1.24 -6.44 -1.85 -9.14 -0.31 0.01 -1.54 7.57 -1.84 9.7 -1.24 7.39 -0.68 4.93 -0.55 4.9 -0.34 4.35 -0.16 4.01 0.02 3.7 0.21 3.7 0.44 3.39 0.59 2.77 0.78 2.41 0.93 1.91 0.61 0.92 0.62 0.69 0.61 0.5zM291.84 241.63l0.32 0 1.54 -7.57 1.84 -9.7 1.24 -7.41 0.76 -5.53 0.53 -4.93 0.33 -4.63 0.12 -4.31 -0.09 -4.01 -0.32 -3.7 -0.56 -3.39 -0.38 -1.54 -0.38 -1.23 -0.47 -1.24 -0.47 -0.99 -0.61 -1.04 -0.62 -0.8 -0.62 -0.59 -0.61 -0.42 -0.62 -0.26 -0.62 -0.11 -0.92 0.11 -0.62 0.26 -0.61 0.42 -0.62 0.59 -0.62 0.8 -0.61 1.04 -0.47 0.99 -0.46 1.21 -0.39 1.26 -0.38 1.54 -0.52 3.08 -0.33 3.39 -0.12 4.01 0.08 4.01 0.27 4.32 0.47 4.81 0.61 4.78 0.91 5.82 0.94 5.39 1.24 6.44z"/>
<path fill="#cde11d" fill-rule="evenodd" d="M291.44 293.11l0.41 0.12 0.3 0 0.62 -0.22 0.31 -0.23 0.53 -0.6 0.39 -0.61 0.67 -1.54 0.57 -2.03 0.44 -2.6 0.28 -2.77 0.13 -3.39 -0.02 -3.09 -0.16 -3.69 -0.3 -4.01 -0.37 -3.78 -0.62 -5.06 -0.62 -4.42 -1.85 -11.81 -0.3 0 -1.55 9.73 -1.22 8.86 -0.52 4.63 -0.32 3.7 -0.22 3.39 -0.11 3.39 0.02 3.08 0.16 3.08 0.27 2.47 0.4 2.29 0.62 2.18 0.62 1.39 0.61 0.9 0.31 0.31zM291.83 241.32l0.02 0.1 0.3 0 1.55 -9.73 1.23 -8.92 0.54 -4.88 0.32 -3.7 0.21 -3.69 0.09 -3.4 -0.04 -3.08 -0.19 -3.08 -0.32 -2.52 -0.42 -2.1 -0.56 -1.85 -0.4 -0.93 -0.46 -0.81 -0.62 -0.71 -0.31 -0.23 -0.62 -0.22 -0.61 0.08 -0.31 0.14 -0.31 0.23 -0.53 0.6 -0.7 1.23 -0.62 1.73 -0.52 2.28 -0.35 2.46 -0.21 2.78 -0.08 3.08 0.04 3.08 0.18 3.7 0.63 7.17 0.62 5.06 0.62 4.42z"/>
<path fill="#efe51c" fill-rule="evenodd" d="M291.83 275.85l0.32 0.01 0.31 -0.26 0.31 -0.55 0.4 -1.36 0.22 -1.11 0.22 -1.97 0.16 -3.7 -0.07 -4.75 -0.31 -5.3 -0.62 -7.03 -0.62 -5.97 -0.3 0 -0.93 9.24 -0.49 6.72 -0.2 5.24 0.07 4.31 0.31 3.21 0.31 1.54 0.31 0.93 0.31 0.55zM291.83 240.7l0.02 0.24 0.3 0 0.93 -9.24 0.49 -6.72 0.2 -5.24 -0.07 -4.31 -0.31 -3.21 -0.31 -1.54 -0.31 -0.93 -0.31 -0.55 -0.31 -0.26 -0.3 0 -0.31 0.26 -0.31 0.55 -0.4 1.36 -0.22 1.11 -0.22 1.97 -0.16 3.7 0.07 4.75 0.31 5.3 0.62 7.03z"/>
<rect x="501.6" y="408.72" width="18.48" height="18.48" fill="#460a5d"/>
<rect x="501.6" y="390.24" width="18.48" height="18.78" fill="#481c6e"/>
<rect x="501.6" y="371.76" width="18.48" height="18.78" fill="#472d7b"/>
<rect x="501.6" y="353.28" width="18.48" height="18.78" fill="#443b84"/>
<rect x="501.6" y="334.8" width="18.48" height="18.78" fill="#3e4a89"/>
<rect x="501.6" y="316.32" width="18.48" height="18.78" fill="#38598c"/>
<rect x="501.6" y="297.84" width="18.48" height="18.78" fill="#31668e"/>
<rect x="501.6" y="279.36" width="18.48" height="18.78" fill="#2c728e"/>
<rect x="501.6" y="260.88" width="18.48" height="18.78" fill="#277e8e"/>
<rect x="501.6" y="242.4" width="18.48" height="18.78" fill="#238a8d"/>
<rect x="501.6" y="223.92" width="18.48" height="18.78" fill="#1f968b"/>
<rect x="501.6" y="205.44" width="18.48" height="18.78" fill="#1fa287"/>
<rect x="501.6" y="186.96" width="18.48" height="18.78" fill="#28ae80"/>
<rect x="501.6" y="168.48" width="18.48" height="18.78" fill="#38b977"/>
<rect x="501.6" y="150" width="18.48" height="18.78" fill="#50c46a"/>
<rect x="501.6" y="131.52" width="18.48" height="18.78" fill="#6ccd5a"/>
<rect x="501.6" y="113.04" width="18.48" height="18.78" fill="#8bd646"/>
<rect x="501.6" y="94.56" width="18.48" height="18.78" fill="#addc30"/>
<rect x="501.6" y="76.08" width="18.48" height="18.78" fill="#cde11d"/>
<rect x="501.6" y="57.6" width="18.48" height="18.78" fill="#efe51c"/>
</g>
<path d="M107.5 58.5H477.5V427.5H107.5ZM502.5 58.5H520.5V427.5H502.5ZM144.5 428v4.5M218.5 428v4.5M292.5 428v4.5M366.5 428v4.5M440.5 428v4.5M107 95.5h-4.5M107 168.5h-4.5M107 242.5h-4.5M107 316.5h-4.5M107 390.5h-4.5M521 95.5h4.5M521 150.5h4.5M521 205.5h4.5M521 261.5h4.5M521 316.5h4.5M521 372.5h4.5M521 427.5h4.5" stroke="#000" stroke-width="1.06" fill="none"/>
<text transform="translate(175.26 49.27) scale(1.0836 1)" font-size="17.33">Magnetic</text>
<text transform="translate(256.73 49.27) scale(1.0841 1)" font-size="17.33">sphere:</text>
<text transform="translate(324.67 49.27) scale(1.1295 1)" font-size="17.33">R=</text>
<text transform="translate(350.24 49.27) scale(1.0971 1)" font-size="17.33">0.2025</text>
<g transform="translate(267.83 470.82)"><text transform="translate(0.92 -0.04) scale(1.0278 1)" font-size="13.98" font-style="italic">Q</text><text transform="translate(11.59 2.8) scale(0.928 1)" font-size="10.6" font-style="italic">x</text><text transform="translate(18.2 1.65) scale(1.0482 1)" font-size="15.8">/</text><text transform="translate(22.84 0) scale(0.8848 1)" font-size="14.67" font-style="italic">Å</text><text transform="translate(33.63 -2.9) scale(0.6848 1)" font-size="16.83">−</text><text transform="translate(40.65 -5) scale(0.9825 1)" font-size="11.17">2</text></g>
<g transform="translate(62.85 267.01) rotate(-90)"><text transform="translate(0.92 -0.04) scale(1.0278 1)" font-size="13.98" font-style="italic">Q</text><text transform="translate(11.77 2.87) scale(0.9361 1)" font-size="10.74" font-style="italic">y</text><text transform="translate(18.2 1.65) scale(1.0482 1)" font-size="15.8">/</text><text transform="translate(22.84 0) scale(0.8848 1)" font-size="14.67" font-style="italic">Å</text><text transform="translate(33.63 -2.9) scale(0.6848 1)" font-size="16.83">−</text><text transform="translate(40.65 -5) scale(0.9825 1)" font-size="11.17">2</text></g>
<text transform="translate(134.77 447.58) scale(1.1102 1)" font-size="14.44">−4</text>
<text transform="translate(208.82 448.28) scale(1.0927 1)" font-size="14.44">−2</text>
<text transform="translate(289.3 447.62) scale(1.0124 1)" font-size="14.44">0</text>
<text transform="translate(362.25 448.28) scale(0.9417 1)" font-size="14.44">2</text>
<text transform="translate(436.35 448.04) scale(0.997 1)" font-size="14.44">4</text>
<text transform="translate(78.77 396.05) scale(1.1121 1)" font-size="14.44">−4</text>
<text transform="translate(78.55 321.84) scale(1.103 1)" font-size="14.44">−2</text>
<text transform="translate(90.36 247.83) scale(0.9963 1)" font-size="14.44">0</text>
<text transform="translate(89.28 174.03) scale(0.9521 1)" font-size="14.44">2</text>
<text transform="translate(89.37 100.22) scale(0.9747 1)" font-size="14.44">4</text>
<text transform="translate(531.21 432.97) scale(1.0342 1)" font-size="14.44">0.00</text>
<text transform="translate(531.34 377.24) scale(1.0239 1)" font-size="14.44">0.24</text>
<text transform="translate(531.29 321.88) scale(1.0364 1)" font-size="14.44">0.48</text>
<text transform="translate(531.33 266.08) scale(1.0148 1)" font-size="14.44">0.72</text>
<text transform="translate(531.28 210.77) scale(1.0387 1)" font-size="14.44">0.96</text>
<text transform="translate(530.69 155.77) scale(1.0206 1)" font-size="14.44">1.20</text>
<text transform="translate(530.73 100.2) scale(1.0156 1)" font-size="14.44">1.44</text>
<text transform="translate(495.67 52.94) scale(0.9978 1)" font-size="14.44">1e7</text>
</g>
<g transform="translate(1753 0) scale(1.36875)">
<rect width="640" height="480" fill="#fff"/>
<clipPath id="c2"><rect x="107.5" y="58.5" width="370" height="369"/><rect x="502.5" y="58.5" width="18" height="369"/></clipPath>
<g clip-path="url(#c2)">
<rect x="107" y="57" width="371" height="371" fill="#470e61"/>
<path fill="#482677" fill-rule="evenodd" d="M221.66 420.42l9.15 0.19 9.87 -0.1 9.86 -0.34 26.2 -1.18 8.02 -0.21 7.7 -0.06 7.4 0.07 8.02 0.23 24.66 1.11 8.63 0.32 8.32 0.15 7.4 -0.03 8.94 -0.31 4.31 -0.26 4.32 -0.35 4.01 -0.41 4.31 -0.52 4.32 -0.63 4 -0.66 6.17 -1.21 5.86 -1.35 5.85 -1.56 5.86 -1.79 5.86 -2.02 5.55 -2.15 5.54 -2.37 5.55 -2.62 5.24 -2.71 5.24 -2.95 5.24 -3.21 4.94 -3.27 4.93 -3.53 4.62 -3.57 4.63 -3.84 4.62 -4.13 0 -265.5 -3.08 -2.79 -3.39 -2.91 -3.39 -2.76 -3.4 -2.61 -4.31 -3.14 -4.32 -2.94 -4.62 -2.93 -4.62 -2.72 -4.63 -2.53 -4.93 -2.49 -4.62 -2.15 -4.94 -2.11 -4.93 -1.92 -5.24 -1.86 -4.93 -1.57 -5.24 -1.49 -5.24 -1.32 -5.24 -1.15 -5.55 -1.05 -5.55 -0.87 -6.78 -0.85 -7.09 -0.64 -7.4 -0.43 -7.7 -0.21 -7.09 0 -7.71 0.15 -8.32 0.31 -24.66 1.11 -8.02 0.23 -7.4 0.07 -7.7 -0.06 -8.33 -0.23 -25.58 -1.15 -9.56 -0.33 -9.25 -0.12 -8.63 0.13 -4.62 0.19 -4.32 0.25 -4.31 0.34 -4.01 0.39 -4.01 0.47 -4 0.56 -4.01 0.64 -4.01 0.73 -3.7 0.75 -4.01 0.91 -3.69 0.93 -4.01 1.1 -3.7 1.11 -3.7 1.21 -3.7 1.29 -3.7 1.4 -3.7 1.49 -3.39 1.46 -3.7 1.7 -3.39 1.66 -3.39 1.75 -3.39 1.85 -3.39 1.96 -3.39 2.07 -3.39 2.18 -3.08 2.08 -3.4 2.41 -3.08 2.31 -3.08 2.42 -3.08 2.54 -3.09 2.67 -2.77 2.51 0 265.5 2.77 2.51 3.09 2.67 3.08 2.54 3.08 2.42 3.08 2.31 3.09 2.19 3.08 2.1 3.39 2.19 3.39 2.08 3.39 1.96 3.39 1.87 3.39 1.76 3.39 1.66 3.4 1.57 3.39 1.48 3.7 1.51 3.39 1.3 3.7 1.32 3.69 1.22 3.7 1.14 3.7 1.04 3.7 0.96 4.01 0.94 3.7 0.78 4.01 0.76 3.69 0.62 4.01 0.58 4.01 0.51 4.01 0.42 4.31 0.37 4.32 0.28z"/>
<path fill="#433d84" fill-rule="evenodd" d="M198.18 380.34l3.96 0.22 4.01 0.08 4.01 -0.05 4.01 -0.17 4 -0.29 4.32 -0.46 4.01 -0.55 4.31 -0.72 3.7 -0.72 4.01 -0.88 4 -0.99 4.32 -1.17 7.69 -2.31 15.74 -5.08 3.7 -1.09 3.39 -0.91 4.01 -0.89 3.69 -0.62 3.4 -0.35 3.39 -0.12 3.39 0.1 3.39 0.33 3.7 0.6 4 0.88 3.39 0.89 3.7 1.09 16.65 5.36 8.01 2.38 4.32 1.14 4.32 1.04 4.31 0.91 4.01 0.74 4.62 0.7 4.63 0.55 4.62 0.39 4.32 0.21 4.62 0.06 4.32 -0.1 4.31 -0.24 4.32 -0.4 4.62 -0.6 4.32 -0.73 4.31 -0.89 4.63 -1.14 4.31 -1.24 4.32 -1.42 4.31 -1.6 4.01 -1.66 4.31 -1.97 4.01 -2.02 4.01 -2.21 3.7 -2.21 4.01 -2.6 3.7 -2.6 3.69 -2.8 3.4 -2.76 2.77 -2.41 2.77 -2.55 2.6 -2.52 2.64 -2.72 2.47 -2.68 2.47 -2.84 2.35 -2.86 2.27 -2.91 0 -175.12 -2.27 -2.91 -2.28 -2.78 -2.13 -2.46 -2.26 -2.48 -2.35 -2.46 -2.27 -2.26 -2.47 -2.33 -2.43 -2.19 -2.5 -2.13 -2.47 -2 -2.46 -1.91 -2.78 -2.03 -5.24 -3.53 -2.77 -1.72 -2.78 -1.62 -2.77 -1.53 -2.78 -1.44 -2.77 -1.35 -3.08 -1.4 -2.78 -1.17 -3.08 -1.21 -5.86 -2.04 -3.08 -0.94 -3.08 -0.85 -3.08 -0.77 -3.09 -0.67 -3.08 -0.6 -3.08 -0.51 -6.17 -0.78 -3.08 -0.27 -3.39 -0.2 -3.7 -0.12 -3.7 -0.01 -3.7 0.1 -4 0.23 -4.01 0.35 -3.7 0.43 -4.01 0.59 -4.01 0.7 -3.69 0.74 -4.01 0.91 -3.7 0.93 -4.01 1.1 -7.71 2.32 -15.41 4.98 -3.7 1.09 -3.39 0.91 -4.01 0.89 -3.69 0.62 -3.4 0.35 -3.39 0.12 -3.39 -0.1 -3.39 -0.33 -3.7 -0.6 -4 -0.88 -3.39 -0.89 -3.7 -1.09 -16.65 -5.36 -8.01 -2.38 -4.63 -1.22 -4.31 -1.03 -4.32 -0.9 -4.01 -0.73 -4.62 -0.7 -4.62 -0.53 -4.63 -0.38 -4.31 -0.2 -4.63 -0.05 -4.31 0.11 -4.32 0.26 -4.31 0.41 -4.63 0.61 -4.31 0.74 -4.32 0.9 -4.32 1.07 -4.31 1.24 -4.32 1.42 -4.31 1.6 -4.01 1.66 -4.31 1.97 -4.01 2.02 -4.01 2.21 -3.7 2.21 -4.01 2.6 -3.7 2.6 -3.69 2.8 -3.4 2.76 -2.77 2.41 -2.77 2.55 -2.6 2.52 -2.64 2.72 -2.47 2.68 -2.47 2.84 -2.35 2.86 -2.27 2.91 0 175.12 2.16 2.77 2.16 2.64 2.36 2.74 2.26 2.48 2.35 2.46 2.48 2.46 2.57 2.41 2.46 2.21 2.56 2.16 2.68 2.16 2.47 1.88 2.77 2 2.78 1.9 2.77 1.78 3.09 1.87 2.77 1.58 2.77 1.49 3.09 1.55 3.08 1.44 3.08 1.34 3.08 1.24 3.09 1.14 3.08 1.05 3.08 0.96 3.08 0.87 3.4 0.85 3.08 0.69 3.39 0.66 3.08 0.51 3.39 0.47 3.39 0.37z"/>
<path fill="#3b528b" fill-rule="evenodd" d="M196.76 355.07l2.92 0.09 3.08 0 3.08 -0.11 2.78 -0.19 3.08 -0.3 3.08 -0.42 2.78 -0.46 3.08 -0.61 2.77 -0.65 3.09 -0.83 3.08 -0.94 2.77 -0.95 3.08 -1.17 2.78 -1.15 2.77 -1.26 2.78 -1.37 4.62 -2.52 4.63 -2.85 4.31 -2.97 4.32 -3.29 4.67 -3.95 4.63 -4.31 4.27 -4.32 7.7 -8.21 2.77 -2.7 1.54 -1.28 1.54 -1.02 0.93 -0.46 0.61 -0.22 1.24 -0.25 1.23 0.04 0.62 0.12 0.92 0.31 1.54 0.83 1.85 1.39 1.54 1.39 1.85 1.85 6.53 6.98 3.27 3.39 2.8 2.78 2.97 2.77 3.52 3.08 3.43 2.78 3.69 2.75 3.69 2.52 3.7 2.31 4.01 2.26 4.01 2.02 3.7 1.67 4 1.61 4.01 1.4 4.01 1.2 4.31 1.08 4.63 0.92 4.62 0.67 4.63 0.44 4.93 0.2 4.62 -0.05 4.93 -0.31 4.63 -0.53 4.62 -0.77 4.63 -1.01 4.62 -1.26 4.62 -1.52 4.32 -1.66 4.62 -2.05 4.32 -2.18 4.31 -2.45 4.01 -2.54 3.39 -2.37 3.39 -2.57 3.09 -2.54 3.08 -2.75 2.92 -2.82 2.94 -3.05 2.77 -3.11 2.54 -3.08 2.6 -3.4 2.39 -3.39 2.22 -3.39 2.23 -3.7 2.05 -3.69 1.87 -3.7 1.85 -4.01 1.67 -3.99 0 -89.74 -2.36 -5.53 -1.31 -2.77 -1.4 -2.78 -2.94 -5.3 -1.66 -2.71 -1.6 -2.47 -3.24 -4.62 -3.62 -4.63 -3.76 -4.32 -4 -4.14 -2.16 -2.06 -2.16 -1.94 -4.31 -3.59 -2.16 -1.65 -2.47 -1.78 -4.62 -3.05 -2.47 -1.49 -2.46 -1.39 -4.94 -2.51 -4.93 -2.17 -2.46 -0.97 -2.78 -1 -5.24 -1.62 -2.77 -0.73 -2.78 -0.63 -5.24 -0.97 -2.77 -0.38 -2.78 -0.3 -3.08 -0.24 -3.39 -0.14 -3.08 -0.01 -3.09 0.08 -3.08 0.19 -3.39 0.33 -3.08 0.42 -3.08 0.51 -3.09 0.63 -3.08 0.74 -3.08 0.85 -3.08 0.96 -3.09 1.09 -3.08 1.2 -3.08 1.33 -2.78 1.3 -4.93 2.6 -4.62 2.75 -4.63 3.1 -2.38 1.74 -2.39 1.85 -2.32 1.88 -2.47 2.13 -2.39 2.16 -2.59 2.46 -4.27 4.32 -7.7 8.21 -2.77 2.7 -1.54 1.28 -1.54 1.02 -0.93 0.46 -0.61 0.22 -1.24 0.25 -1.23 -0.04 -0.62 -0.12 -0.92 -0.31 -1.54 -0.83 -1.85 -1.39 -1.54 -1.39 -1.85 -1.85 -6.53 -6.98 -3.27 -3.39 -2.8 -2.78 -2.97 -2.77 -3.52 -3.08 -3.43 -2.78 -3.69 -2.75 -3.69 -2.52 -3.7 -2.31 -4.01 -2.26 -4.01 -2.02 -3.7 -1.67 -4 -1.61 -4.01 -1.4 -4.01 -1.2 -4.31 -1.08 -4.63 -0.92 -4.62 -0.67 -4.63 -0.44 -4.93 -0.2 -4.62 0.05 -4.93 0.31 -4.63 0.53 -4.62 0.77 -4.63 1.01 -4.62 1.26 -4.62 1.52 -4.32 1.66 -4.62 2.05 -4.32 2.18 -4.31 2.45 -4.01 2.54 -3.39 2.37 -3.39 2.57 -3.09 2.54 -3.08 2.75 -2.92 2.82 -2.94 3.05 -2.77 3.11 -2.54 3.08 -2.6 3.4 -2.39 3.39 -2.22 3.39 -2.23 3.7 -2.05 3.69 -1.87 3.7 -1.85 4.01 -1.67 3.99 0 89.74 1.53 3.68 1.55 3.39 1.67 3.39 1.82 3.39 1.96 3.39 2.13 3.39 2.08 3.09 2.23 3.08 2.29 2.95 2.47 2.96 2.46 2.75 2.63 2.75 2.61 2.54 2.78 2.52 2.77 2.35 3.09 2.43 3.08 2.24 3.08 2.08 3.08 1.91 3.09 1.77 3.08 1.62 3.39 1.63 3.39 1.48 3.39 1.32 3.39 1.18 3.39 1.04 3.39 0.9 3.7 0.83 3.39 0.62 3.7 0.53 3.39 0.36z"/>
<path fill="#32658e" fill-rule="evenodd" d="M196.19 335.96l4.1 0.13 4.01 -0.07 4.32 -0.33 4 -0.52 4.01 -0.73 4.01 -0.96 4.01 -1.19 4 -1.43 3.7 -1.54 3.7 -1.77 3.7 -2 3.7 -2.26 3.7 -2.54 3.39 -2.59 3.39 -2.86 3.08 -2.87 3.09 -3.15 2.77 -3.11 2.77 -3.39 2.62 -3.51 2.53 -3.7 2.32 -3.69 2.29 -4.01 2.09 -4.01 1.91 -4.01 1.76 -4 1.86 -4.63 1.59 -4.31 1.77 -5.24 1.64 -5.24 3.83 -13.42 0.3 0 3.19 11.26 2.48 8.01 1.9 5.55 1.74 4.63 2.31 5.54 2.29 4.94 2.54 4.93 2.67 4.62 3.08 4.8 3.2 4.45 3.48 4.32 3.49 3.87 3.7 3.68 4.01 3.55 4 3.14 2.16 1.54 2.16 1.45 2.16 1.35 2.46 1.43 2.16 1.16 2.47 1.23 2.46 1.13 2.47 1.03 2.47 0.93 2.46 0.84 2.47 0.75 2.46 0.66 2.47 0.57 2.77 0.55 2.47 0.39 2.78 0.35 2.46 0.23 2.78 0.15 2.46 0.05 2.78 -0.03 2.77 -0.14 2.47 -0.2 2.46 -0.29 2.78 -0.42 2.46 -0.46 2.47 -0.54 2.77 -0.71 2.47 -0.73 2.47 -0.81 2.46 -0.9 2.47 -1 2.46 -1.09 2.35 -1.14 2.28 -1.19 4 -2.32 3.7 -2.42 3.68 -2.7 3.41 -2.79 3.39 -3.07 3.37 -3.39 3.11 -3.47 2.92 -3.62 2.69 -3.69 2.62 -4.01 2.34 -4.01 2.25 -4.32 1.98 -4.31 1.73 -4.32 1.61 -4.62 1.36 -4.62 1.12 -4.63 0.9 -4.62 0.67 -4.63 0.49 -4.93 0.24 -4.93 0.01 -4.93 -0.23 -4.93 -0.43 -4.63 -0.7 -4.93 -0.88 -4.62 -1.11 -4.63 -1.34 -4.62 -1.59 -4.63 -1.72 -4.31 -1.96 -4.32 -2.06 -4 -1.93 -3.39 -1.89 -3.03 -2.13 -3.14 -2.04 -2.77 -2.22 -2.78 -2.39 -2.77 -2.6 -2.78 -2.49 -2.45 -2.74 -2.48 -2.59 -2.16 -2.8 -2.15 -2.97 -2.1 -2.78 -1.79 -3.08 -1.81 -3.08 -1.64 -3.08 -1.48 -3.09 -1.32 -3.39 -1.28 -3.08 -1.02 -3.39 -0.96 -3.39 -0.79 -3.39 -0.64 -3.39 -0.49 -3.39 -0.33 -3.39 -0.18 -3.39 -0.03 -3.4 0.12 -3.39 0.28 -3.39 0.42 -3.39 0.58 -3.39 0.74 -3.39 0.9 -3.08 0.97 -3.08 1.1 -3.09 1.26 -3.08 1.41 -3.08 1.56 -2.78 1.56 -2.77 1.71 -2.78 1.85 -2.77 2.02 -2.47 1.95 -2.77 2.36 -2.47 2.28 -2.46 2.45 -2.47 2.64 -2.16 2.49 -2.24 2.78 -2.07 2.74 -1.97 2.8 -1.82 2.78 -1.88 3.08 -1.73 3.03 -1.66 3.14 -1.68 3.39 -1.56 3.39 -1.45 3.39 -1.23 3.08 -2.47 6.78 -1.53 4.63 -1.52 4.93 -3.55 12.49 -0.3 0 -2.65 -9.41 -2.13 -7.09 -2.14 -6.47 -1.91 -5.24 -2.12 -5.24 -2.51 -5.55 -2.66 -5.24 -2.81 -4.93 -2.96 -4.65 -3.28 -4.6 -3.45 -4.32 -3.58 -4 -2.02 -2.07 -1.85 -1.79 -4.01 -3.55 -4 -3.14 -2.16 -1.54 -2.16 -1.45 -2.16 -1.35 -2.46 -1.43 -2.16 -1.16 -2.47 -1.23 -2.46 -1.13 -2.47 -1.03 -2.47 -0.93 -2.46 -0.84 -2.47 -0.75 -2.46 -0.66 -2.47 -0.57 -2.77 -0.55 -2.47 -0.39 -2.78 -0.35 -2.46 -0.23 -2.78 -0.15 -2.46 -0.05 -2.78 0.03 -2.77 0.14 -2.47 0.2 -2.46 0.29 -2.78 0.42 -2.46 0.46 -2.47 0.54 -2.77 0.71 -2.47 0.73 -2.47 0.81 -2.46 0.9 -2.47 1 -2.46 1.09 -2.35 1.14 -2.28 1.19 -3.08 1.76 -3.08 1.94 -3.08 2.14 -2.78 2.1 -2.77 2.29 -2.78 2.48 -2.5 2.43 -2.62 2.78 -2.42 2.77 -2.32 2.9 -2.19 2.96 -2.09 3.08 -1.93 3.09 -1.93 3.39 -1.75 3.39 -1.6 3.39 -1.44 3.39 -1.4 3.7 -1.14 3.39 -1.09 3.7 -0.94 3.7 -0.8 3.7 -0.65 3.69 -0.55 4.01 -0.36 3.7 -0.24 4.01 -0.09 3.7 0.06 4 0.22 4.01 0.34 3.7 0.48 3.7 0.62 3.7 0.75 3.7 0.91 3.7 1.05 3.7 1.21 3.7 1.38 3.69 1.41 3.4 1.56 3.39 1.73 3.39 1.9 3.39 1.89 3.08 2.06 3.08 2.24 3.09 2.23 2.81 2.33 2.73 2.58 2.78 2.49 2.46 2.77 2.54 2.77 2.33 2.89 2.22 2.97 2.1 3.08 1.98 3.07 1.78 3.1 1.64 3.08 1.46 3.39 1.43 3.39 1.25 3.39 1.08 3.39 0.91 3.4 0.75 3.39 0.6 3.39 0.44z"/>
<path fill="#2a768e" fill-rule="evenodd" d="M198.41 320.54l3.42 0.15 3.4 -0.03 3.39 -0.2 3.39 -0.37 3.39 -0.55 3.39 -0.72 3.39 -0.89 3.39 -1.08 3.08 -1.14 3.39 -1.44 3.39 -1.64 3.09 -1.67 3.08 -1.86 3.08 -2.04 3.09 -2.25 3.08 -2.46 2.77 -2.4 2.78 -2.6 2.77 -2.8 2.47 -2.68 2.46 -2.86 2.47 -3.06 2.46 -3.25 2.47 -3.47 2.16 -3.22 2.46 -3.89 2.47 -4.12 2.16 -3.78 4.62 -8.63 6.48 -12.79 0.3 0 0.07 0.06 4.25 8.51 3.24 6.29 3.23 6 2.91 5.1 2.64 4.35 2.78 4.3 2.77 4.01 2.77 3.74 3.09 3.85 3.08 3.54 3.08 3.27 3.39 3.29 3.39 2.99 3.39 2.71 3.4 2.46 3.69 2.41 4.01 2.3 4.01 2.01 4.01 1.72 4 1.45 4.01 1.2 4.32 1 4 0.68 4.32 0.47 4.32 0.18 4.31 -0.09 4.32 -0.37 4 -0.6 4.01 -0.85 4.01 -1.11 4.01 -1.38 4 -1.67 3.39 -1.65 3.4 -1.9 3.08 -1.94 3.05 -2.15 3.11 -2.46 2.78 -2.43 2.77 -2.7 2.47 -2.65 2.54 -3.02 2.34 -3.08 2.11 -3.08 2.08 -3.39 1.86 -3.39 1.8 -3.7 1.57 -3.7 1.37 -3.7 1.17 -3.7 1.05 -4.01 0.8 -3.69 0.66 -4.01 0.47 -4.01 0.28 -4.01 0.08 -4 -0.1 -4.01 -0.29 -4.01 -0.48 -4.01 -0.68 -4 -0.81 -3.7 -0.98 -3.7 -1.17 -3.7 -1.37 -3.7 -1.57 -3.7 -1.33 -2.77 -1.54 -2.92 -1.54 -2.66 -1.74 -2.75 -1.93 -2.77 -1.87 -2.47 -1.86 -2.26 -2.1 -2.36 -2.09 -2.16 -2.26 -2.16 -2.18 -1.9 -2.46 -1.99 -2.47 -1.82 -2.47 -1.67 -2.53 -1.56 -2.71 -1.5 -2.77 -1.39 -2.78 -1.24 -2.77 -1.09 -2.77 -0.96 -2.78 -0.82 -3.08 -0.77 -2.78 -0.56 -3.08 -0.49 -2.77 -0.3 -3.09 -0.21 -3.08 -0.07 -3.08 0.08 -3.08 0.22 -2.78 0.31 -3.08 0.49 -2.77 0.56 -2.78 0.68 -2.77 0.8 -2.78 0.92 -2.46 0.93 -2.78 1.16 -2.46 1.15 -2.78 1.42 -2.46 1.38 -2.47 1.5 -2.47 1.62 -2.46 1.75 -2.47 1.88 -2.46 2.01 -2.16 1.89 -2.47 2.3 -2.16 2.15 -2.15 2.27 -2.16 2.41 -2.16 2.56 -1.85 2.31 -2.16 2.83 -1.85 2.57 -3.7 5.49 -3.39 5.49 -3.39 5.91 -4.62 8.67 -6.1 12.13 -0.07 0.06 -0.3 0 -7.56 -14.86 -2.81 -5.24 -2.58 -4.57 -2.98 -4.99 -2.76 -4.31 -2.89 -4.22 -2.78 -3.77 -3.08 -3.88 -3.08 -3.57 -3.08 -3.29 -3.39 -3.32 -3.4 -3.02 -3.39 -2.74 -3.7 -2.69 -3.69 -2.41 -4.01 -2.3 -4.01 -2.01 -4.01 -1.72 -4 -1.45 -4.01 -1.2 -4.32 -1 -4 -0.68 -4.32 -0.47 -4.32 -0.18 -4.31 0.09 -4.32 0.37 -4 0.6 -4.01 0.85 -4.01 1.11 -4.01 1.38 -4 1.67 -2.78 1.34 -2.77 1.49 -2.78 1.66 -2.44 1.61 -2.49 1.8 -2.46 1.94 -2.46 2.12 -2.17 2.03 -2.23 2.28 -2.08 2.31 -2.16 2.61 -1.85 2.43 -1.76 2.52 -1.77 2.77 -1.62 2.77 -1.48 2.78 -1.39 2.88 -1.29 2.98 -1.19 3.08 -1.06 3.08 -0.92 3.08 -0.79 3.09 -0.68 3.08 -0.6 3.39 -0.42 3.08 -0.33 3.39 -0.19 3.09 -0.07 3.39 0.06 3.39 0.2 3.39 0.33 3.39 0.42 3.08 0.6 3.39 0.68 3.08 0.79 3.09 0.92 3.08 1.06 3.08 1.19 3.08 1.29 2.98 1.39 2.88 1.48 2.78 1.62 2.77 1.77 2.77 1.76 2.52 1.85 2.43 2.16 2.61 2.08 2.31 2.23 2.28 2.17 2.03 2.46 2.12 2.46 1.94 2.49 1.8 2.44 1.61 2.78 1.66 2.77 1.49 2.78 1.34 2.77 1.19 2.78 1.05 2.77 0.91 3.08 0.86 2.78 0.64 3.08 0.57 3.08 0.43z"/>
<path fill="#24878e" fill-rule="evenodd" d="M202.84 307.6l3 0.1 2.78 -0.03 3.08 -0.18 2.77 -0.3 2.78 -0.41 3.08 -0.62 3.08 -0.76 2.78 -0.82 3.08 -1.07 2.77 -1.09 3.09 -1.37 2.77 -1.38 2.78 -1.52 2.77 -1.66 2.77 -1.8 2.78 -1.95 2.46 -1.87 2.78 -2.25 2.46 -2.13 2.47 -2.26 2.47 -2.4 2.46 -2.53 2.47 -2.67 2.77 -3.16 2.47 -2.95 2.47 -3.08 4.93 -6.53 4.62 -6.49 7.65 -11.25 0.37 -0.46 0.3 0 0.15 0.15 8.79 12.88 3.7 5.17 3.09 4.13 2.77 3.57 2.77 3.4 2.78 3.24 2.77 3.06 2.78 2.9 3.08 3.02 3.08 2.81 3.08 2.6 3.09 2.41 3.08 2.22 3.08 2.03 3.39 2.03 3.39 1.81 3.39 1.61 3.4 1.41 3.69 1.32 3.7 1.08 3.39 0.8 3.7 0.66 3.39 0.42 3.7 0.23 3.39 0.02 3.4 -0.16 3.39 -0.36 3.39 -0.56 3.39 -0.77 3.39 -0.97 3.39 -1.21 2.77 -1.16 2.86 -1.38 2.69 -1.47 2.78 -1.72 2.46 -1.71 2.47 -1.89 2.46 -2.11 2.31 -2.19 2.06 -2.16 2.13 -2.47 1.93 -2.46 1.94 -2.78 1.75 -2.77 1.56 -2.78 1.43 -2.86 1.32 -2.99 1.19 -3.09 1.01 -3.08 0.86 -3.08 0.77 -3.39 0.55 -3.09 0.44 -3.39 0.25 -3.08 0.12 -3.39 -0.04 -3.39 -0.21 -3.39 -0.38 -3.39 -0.49 -3.08 -0.71 -3.4 -0.79 -3.08 -0.96 -3.08 -1.11 -3.08 -1.02 -2.47 -1.14 -2.47 -1.26 -2.46 -1.39 -2.47 -1.34 -2.15 -1.53 -2.26 -1.54 -2.08 -1.72 -2.14 -1.9 -2.16 -1.78 -1.85 -1.93 -1.85 -1.92 -1.68 -2.11 -1.71 -2.09 -1.54 -2.27 -1.52 -2.16 -1.32 -2.16 -1.2 -2.46 -1.23 -2.47 -1.09 -2.46 -0.96 -2.47 -0.83 -2.47 -0.72 -2.46 -0.61 -2.78 -0.54 -2.46 -0.38 -2.78 -0.29 -2.46 -0.16 -2.78 -0.05 -2.46 0.06 -2.78 0.19 -2.77 0.31 -2.47 0.37 -2.46 0.48 -2.47 0.58 -2.47 0.67 -2.46 0.78 -2.47 0.87 -2.46 0.98 -2.47 1.09 -2.16 1.03 -2.16 1.12 -2.46 1.38 -2.47 1.5 -2.16 1.4 -2.46 1.72 -2.16 1.59 -4.32 3.49 -4.31 3.87 -4.01 3.97 -4.01 4.32 -4.31 5.05 -4.01 5.04 -3.7 4.94 -5.24 7.38 -7.25 10.67 -0.15 0.15 -0.3 0 -0.37 -0.46 -8.27 -12.13 -3.08 -4.34 -2.77 -3.77 -3.08 -4.03 -3.09 -3.83 -2.77 -3.27 -3.08 -3.44 -2.78 -2.92 -3.08 -3.03 -3.08 -2.83 -3.09 -2.63 -3.08 -2.43 -3.08 -2.24 -3.08 -2.05 -3.39 -2.04 -3.4 -1.84 -3.39 -1.62 -3.39 -1.43 -3.7 -1.34 -3.39 -1.02 -3.7 -0.9 -3.39 -0.63 -3.7 -0.48 -3.7 -0.25 -3.39 -0.04 -3.7 0.17 -3.39 0.36 -3.39 0.56 -3.39 0.77 -3.39 0.97 -3.39 1.21 -2.47 1.02 -2.46 1.16 -2.16 1.13 -2.38 1.38 -2.24 1.45 -2.16 1.52 -2.14 1.66 -1.87 1.57 -1.98 1.82 -1.85 1.85 -1.72 1.86 -1.85 2.19 -1.64 2.11 -1.74 2.47 -1.39 2.16 -1.45 2.46 -1.31 2.47 -1.18 2.47 -1.06 2.46 -1.06 2.78 -0.82 2.46 -0.81 2.78 -0.69 2.77 -0.56 2.78 -0.45 2.77 -0.33 2.77 -0.22 2.78 -0.11 2.77 0 2.78 0.11 2.77 0.22 2.78 0.33 2.77 0.45 2.77 0.56 2.78 0.69 2.77 0.75 2.6 0.88 2.64 0.97 2.55 1.15 2.69 1.18 2.47 1.31 2.47 1.29 2.2 1.54 2.41 1.53 2.17 1.65 2.16 1.75 2.1 1.85 2.03 1.85 1.86 1.85 1.71 2.16 1.84 2.16 1.67 2.16 1.52 2.24 1.45 2.38 1.38 2.16 1.13 2.46 1.16 2.47 1.02 2.47 0.9 2.46 0.78 2.47 0.66 2.46 0.55 2.78 0.48 2.77 0.36z"/>
<path fill="#1f998a" fill-rule="evenodd" d="M205.94 296.19l2.68 0.19 2.46 0.05 2.47 -0.05 2.77 -0.18 2.47 -0.28 2.77 -0.43 2.47 -0.49 2.77 -0.68 2.47 -0.71 2.77 -0.92 2.47 -0.92 2.77 -1.17 2.78 -1.29 2.46 -1.26 2.78 -1.54 2.47 -1.48 2.46 -1.58 2.47 -1.69 2.46 -1.8 2.47 -1.9 4.93 -4.11 2.47 -2.21 2.77 -2.6 4.93 -4.93 5.24 -5.6 5.86 -6.61 8.02 -9.37 0.3 0 0.24 0.23 9.32 10.91 3.39 3.82 3.39 3.7 5.55 5.74 5.24 4.99 2.78 2.47 2.77 2.33 2.77 2.21 3.09 2.29 2.77 1.92 2.77 1.79 2.78 1.66 2.77 1.53 3.09 1.54 3.08 1.38 3.08 1.22 2.78 0.96 3.08 0.92 3.08 0.76 3.08 0.6 3.09 0.44 3.08 0.27 3.08 0.12 3.08 -0.05 2.78 -0.2 3.08 -0.38 2.77 -0.5 2.78 -0.66 2.77 -0.82 2.47 -0.87 2.47 -1.02 2.46 -1.17 2.16 -1.17 2.16 -1.3 2.15 -1.45 2.16 -1.62 2 -1.67 2 -1.85 1.81 -1.85 1.64 -1.85 1.73 -2.15 1.55 -2.16 1.41 -2.16 1.26 -2.16 1.28 -2.46 1.13 -2.47 0.99 -2.47 0.85 -2.46 0.81 -2.78 0.59 -2.46 0.53 -2.78 0.35 -2.46 0.25 -2.78 0.13 -2.77 -0.02 -2.78 -0.15 -2.77 -0.25 -2.47 -0.42 -2.77 -0.48 -2.47 -0.69 -2.77 -0.75 -2.47 -0.75 -2.15 -0.86 -2.16 -0.96 -2.16 -1.08 -2.16 -1.21 -2.16 -1.14 -1.85 -1.24 -1.84 -1.37 -1.85 -1.49 -1.85 -1.59 -1.8 -1.54 -1.59 -1.63 -1.55 -1.76 -1.53 -1.85 -1.47 -1.85 -1.33 -1.85 -1.22 -2.07 -1.23 -1.94 -1.04 -1.85 -0.89 -2.16 -0.93 -2.15 -0.82 -2.16 -0.71 -2.16 -0.61 -2.47 -0.58 -2.15 -0.4 -2.47 -0.35 -2.16 -0.21 -2.46 -0.14 -2.16 -0.03 -2.47 0.06 -2.46 0.17 -2.47 0.28 -4.31 0.73 -4.32 1.04 -2.16 0.64 -2.46 0.82 -4.32 1.68 -4.32 2 -2.46 1.29 -2.16 1.21 -4.31 2.66 -4.32 2.98 -4.01 3.05 -4 3.33 -4.01 3.61 -4.32 4.16 -3.7 3.79 -4 4.32 -5.86 6.61 -7.78 9.14 -0.24 0.23 -0.3 0 -9.25 -10.78 -5.86 -6.55 -5.86 -6.14 -3.08 -3.04 -2.77 -2.6 -2.78 -2.48 -2.77 -2.35 -2.78 -2.22 -3.08 -2.31 -2.77 -1.94 -2.78 -1.8 -2.77 -1.67 -3.08 -1.71 -3.09 -1.54 -3.08 -1.38 -3.08 -1.22 -2.78 -0.96 -3.08 -0.92 -3.08 -0.76 -3.08 -0.6 -3.09 -0.44 -3.08 -0.27 -3.08 -0.12 -3.08 0.05 -2.78 0.2 -3.08 0.38 -2.77 0.5 -2.78 0.66 -2.77 0.82 -2.16 0.76 -2.16 0.86 -2.06 0.94 -1.95 0.99 -1.85 1.03 -1.85 1.15 -1.84 1.25 -1.93 1.44 -1.77 1.45 -1.55 1.38 -1.54 1.49 -1.74 1.84 -1.59 1.85 -1.29 1.64 -1.48 2.06 -1.21 1.85 -1.11 1.85 -1.17 2.16 -0.9 1.85 -0.95 2.16 -0.84 2.15 -0.74 2.16 -0.65 2.16 -0.62 2.47 -0.44 2.15 -0.41 2.47 -0.26 2.16 -0.19 2.46 -0.09 2.16 0.01 2.47 0.12 2.46 0.18 2.16 0.32 2.47 0.38 2.15 0.53 2.47 0.56 2.16 0.66 2.16 0.75 2.15 0.86 2.16 0.96 2.16 1.08 2.16 1.03 1.85 1.12 1.85 1.27 1.9 1.3 1.8 1.47 1.85 1.54 1.76 1.55 1.63 1.59 1.54 1.74 1.54 1.9 1.53 1.69 1.24 1.83 1.24 2.03 1.24 1.85 1.02 2.16 1.07 1.85 0.82 2.16 0.85 2.15 0.74 2.16 0.64 2.16 0.53 2.36 0.48 2.26 0.36z"/>
<path fill="#24aa83" fill-rule="evenodd" d="M213.13 286.33l2.27 0.1 2.16 0 2.15 -0.08 2.47 -0.2 2.16 -0.26 2.46 -0.4 2.47 -0.51 2.16 -0.52 2.46 -0.7 2.16 -0.69 2.47 -0.88 2.16 -0.85 2.46 -1.07 2.47 -1.16 4.62 -2.44 4.63 -2.76 4.62 -3.07 4.93 -3.62 4.93 -3.93 5.55 -4.76 6.17 -5.62 10.48 -10.06 0.3 -0.3 0 -0.3 -9.55 -9.2 -6.78 -6.24 -3.39 -2.96 -3.09 -2.6 -3.08 -2.48 -3.08 -2.36 -3.08 -2.23 -3.09 -2.1 -2.77 -1.77 -3.08 -1.83 -2.78 -1.53 -3.08 -1.56 -2.77 -1.27 -3.09 -1.27 -3.08 -1.12 -3.08 -0.96 -3.08 -0.81 -3.09 -0.65 -3.08 -0.48 -2.77 -0.29 -3.09 -0.16 -2.77 0 -3.08 0.18 -2.78 0.32 -2.77 0.49 -2.72 0.64 -2.83 0.86 -2.47 0.92 -2.46 1.08 -2.47 1.27 -3.08 1.88 -2.77 2.02 -2.78 2.39 -2.47 2.51 -2.32 2.8 -1.95 2.77 -1.81 3.08 -1.5 3.09 -1.32 3.39 -1.01 3.39 -0.72 3.39 -0.48 3.7 -0.17 3.39 0.12 3.7 0.43 3.7 0.67 3.39 0.96 3.39 1.26 3.39 1.43 3.08 1.75 3.08 1.89 2.79 2.21 2.76 2.41 2.56 2.65 2.37 2.84 2.16 2.89 1.85 3.03 1.62 3.39 1.48 3.39 1.16 3.39 0.88 3.7 0.66zM363.96 286.33l2.18 0.09 2.46 0.01 2.47 -0.12 2.16 -0.19 2.15 -0.3 2.16 -0.39 2.16 -0.5 2.16 -0.6 2.15 -0.72 1.85 -0.72 1.99 -0.88 2.02 -1.01 1.85 -1.05 1.85 -1.17 1.85 -1.31 1.54 -1.21 1.56 -1.34 1.62 -1.54 1.46 -1.54 1.33 -1.54 1.21 -1.54 1.31 -1.85 1.17 -1.85 1.13 -2 1 -2.01 0.81 -1.85 0.71 -1.85 0.71 -2.16 0.6 -2.16 0.47 -2.15 0.37 -2.16 0.25 -2.16 0.15 -2.16 0.05 -2.15 -0.06 -2.16 -0.17 -2.16 -0.27 -2.16 -0.38 -2.16 -0.49 -2.15 -0.61 -2.16 -0.73 -2.16 -0.73 -1.85 -0.97 -2.16 -0.95 -1.85 -1.07 -1.85 -1.2 -1.84 -1.19 -1.67 -1.37 -1.73 -1.36 -1.54 -1.49 -1.54 -1.64 -1.52 -1.54 -1.3 -1.85 -1.41 -1.85 -1.26 -1.85 -1.13 -1.84 -1.01 -2.08 -1 -1.93 -0.82 -1.96 -0.72 -2.05 -0.65 -2.16 -0.58 -2.16 -0.46 -2.15 -0.37 -2.47 -0.29 -2.16 -0.16 -2.15 -0.07 -2.16 0.02 -2.47 0.13 -2.16 0.21 -2.46 0.33 -2.47 0.44 -2.16 0.47 -2.15 0.55 -2.47 0.72 -2.47 0.82 -2.46 0.92 -2.47 1.01 -2.46 1.12 -4.63 2.34 -4.62 2.68 -4.63 2.99 -4.93 3.53 -4.93 3.86 -4.93 4.14 -5.24 4.68 -6.17 5.78 -7.39 7.15 0 0.3 0.3 0.3 9.25 8.9 5.86 5.41 5.24 4.58 4.62 3.8 4.32 3.3 4.31 3.06 4.32 2.78 4.31 2.51 4.32 2.22 4.01 1.8 4.31 1.65 4.32 1.35 4.01 0.97 4.31 0.75z"/>
<path fill="#3aba76" fill-rule="evenodd" d="M220.35 277.39l3.68 0.04 4.01 -0.24 4 -0.55 4.01 -0.82 4.01 -1.09 4.31 -1.45 4.01 -1.61 4.32 -1.99 4.31 -2.24 4.32 -2.49 4.62 -2.9 4.93 -3.36 5.86 -4.26 6.47 -5 8.33 -6.64 0.23 -0.24 0 -0.3 -8.25 -6.64 -7.09 -5.47 -6.16 -4.47 -5.86 -3.91 -5.55 -3.36 -2.77 -1.54 -2.78 -1.44 -2.77 -1.33 -2.47 -1.09 -2.77 -1.13 -2.47 -0.9 -2.77 -0.9 -2.78 -0.78 -2.77 -0.66 -2.47 -0.47 -2.77 -0.41 -2.47 -0.24 -2.46 -0.14 -2.47 -0.01 -2.46 0.11 -2.47 0.24 -2.47 0.37 -2.15 0.45 -2.16 0.57 -2.38 0.78 -2.25 0.89 -1.85 0.85 -2.77 1.53 -2.47 1.64 -2.36 1.87 -1.98 1.85 -1.97 2.16 -1.88 2.46 -1.56 2.47 -1.29 2.47 -1.15 2.77 -0.88 2.77 -0.63 2.78 -0.39 2.77 -0.15 2.78 0.1 3.08 0.33 2.77 0.58 2.78 0.82 2.77 1.09 2.78 1.22 2.46 1.49 2.47 1.8 2.47 1.87 2.15 2.17 2.11 2.16 1.77 2.4 1.67 2.53 1.48 2.77 1.33 2.78 1.08 2.77 0.85 3.09 0.7 3.08 0.47zM358.68 277.39l3.45 0.05 3.08 -0.16 3.39 -0.41 3.08 -0.6 3.09 -0.85 3.05 -1.12 2.8 -1.28 2.66 -1.49 2.58 -1.75 2.41 -1.95 2.22 -2.15 1.85 -2.12 1.83 -2.51 1.49 -2.47 1.22 -2.46 1.09 -2.78 0.82 -2.77 0.62 -3.08 0.33 -3.09 0.04 -3.08 -0.24 -3.08 -0.46 -2.78 -0.8 -3.08 -1 -2.77 -1.29 -2.78 -1.49 -2.58 -1.64 -2.35 -2.07 -2.47 -2.15 -2.13 -2.23 -1.87 -2.64 -1.85 -2.65 -1.54 -2.04 -1 -2.16 -0.9 -2.15 -0.76 -2.47 -0.7 -2.16 -0.48 -2.46 -0.41 -2.47 -0.27 -2.47 -0.14 -2.46 -0.02 -2.47 0.1 -2.46 0.22 -2.78 0.38 -2.46 0.44 -2.78 0.63 -2.77 0.75 -2.78 0.88 -2.46 0.88 -2.78 1.1 -2.77 1.21 -2.78 1.32 -2.77 1.43 -2.77 1.52 -2.78 1.63 -3.08 1.91 -5.86 3.91 -6.16 4.47 -7.09 5.47 -8.25 6.64 0 0.3 0.23 0.24 6.78 5.43 6.79 5.27 5.85 4.33 4.32 3 4.31 2.81 4.01 2.42 4.01 2.22 3.7 1.86 4 1.8 4.01 1.57 3.7 1.23 3.7 1.02 3.7 0.78 3.7 0.56z"/>
<path fill="#5ec962" fill-rule="evenodd" d="M225.69 269.06l3.27 0.19 3.39 -0.05 3.39 -0.27 3.7 -0.54 3.7 -0.77 3.7 -0.99 4.01 -1.3 4.01 -1.53 4 -1.73 4.32 -2.07 4.31 -2.27 4.32 -2.44 6.16 -3.74 7.09 -4.55 6.48 -4.28 0.17 -0.17 0 -0.3 -0.17 -0.17 -6.48 -4.28 -7.09 -4.55 -5.54 -3.38 -5.24 -2.97 -4.94 -2.56 -4.93 -2.3 -4.62 -1.89 -4.63 -1.6 -4.62 -1.29 -4.32 -0.9 -2.15 -0.34 -2.16 -0.25 -2.16 -0.16 -2.16 -0.07 -2.16 0.03 -1.84 0.1 -2.16 0.22 -1.85 0.27 -1.85 0.37 -1.85 0.47 -1.85 0.57 -1.85 0.69 -2.16 0.96 -2.16 1.17 -1.86 1.2 -2.01 1.54 -1.69 1.55 -1.53 1.64 -1.36 1.75 -1.21 1.85 -1 1.85 -0.92 2.15 -0.7 2.16 -0.48 2.16 -0.28 2.16 -0.08 2.46 0.14 2.16 0.35 2.19 0.53 2.13 0.76 2.15 0.99 2.16 1.07 1.85 1.28 1.85 1.53 1.83 1.55 1.56 1.81 1.54 1.88 1.36 2.16 1.3 2.09 1.04 2.22 0.92 2.16 0.72 2.47 0.65 2.46 0.47zM349.6 269.06l2.97 0.18 2.78 0 2.77 -0.16 2.78 -0.34 2.77 -0.54 2.48 -0.68 2.45 -0.85 2.47 -1.09 2.16 -1.17 2.15 -1.41 1.85 -1.45 1.87 -1.73 1.64 -1.85 1.37 -1.85 1.31 -2.16 1.03 -2.16 0.79 -2.16 0.63 -2.46 0.34 -2.16 0.14 -2.47 -0.11 -2.46 -0.37 -2.47 -0.63 -2.46 -0.79 -2.16 -1.03 -2.16 -1.31 -2.16 -1.62 -2.16 -1.7 -1.84 -1.69 -1.55 -2.02 -1.55 -2.16 -1.37 -2.47 -1.28 -1.85 -0.8 -1.85 -0.66 -1.85 -0.56 -1.85 -0.44 -1.85 -0.36 -2.15 -0.3 -1.85 -0.17 -2.16 -0.09 -2.16 0 -2.16 0.1 -2.15 0.19 -2.47 0.32 -2.16 0.36 -2.46 0.52 -4.63 1.22 -4.62 1.55 -4.63 1.83 -4.93 2.25 -5.24 2.68 -5.24 2.94 -5.55 3.35 -6.78 4.34 -7.4 4.88 -0.17 0.17 0 0.3 0.17 0.17 9.87 6.48 6.47 4.07 4.01 2.38 4 2.25 3.7 1.95 3.39 1.65 3.4 1.53 3.39 1.38 3.39 1.24 3.08 0.98 3.39 0.91 3.08 0.68 3.09 0.51z"/>
<path fill="#89d548" fill-rule="evenodd" d="M235.72 261.67l2.8 0.07 2.77 -0.1 2.78 -0.25 3.08 -0.44 3.08 -0.59 3.08 -0.74 3.09 -0.88 3.39 -1.1 3.39 -1.23 3.7 -1.49 4 -1.75 4.01 -1.88 6.78 -3.4 9.87 -5.23 0.1 -0.11 0 -0.3 -0.1 -0.11 -5.86 -3.13 -6.16 -3.21 -4.94 -2.44 -4.62 -2.15 -4.32 -1.84 -4.31 -1.67 -4.01 -1.36 -4.01 -1.16 -4 -0.93 -3.7 -0.64 -3.7 -0.41 -3.39 -0.14 -3.39 0.11 -3.09 0.35 -3.08 0.61 -2.77 0.83 -1.85 0.72 -1.77 0.84 -1.61 0.93 -1.55 1.07 -1.35 1.09 -1.28 1.23 -1.07 1.24 -1.11 1.53 -0.88 1.55 -0.68 1.54 -0.51 1.54 -0.34 1.54 -0.18 1.54 -0.02 1.85 0.15 1.54 0.31 1.54 0.47 1.54 0.65 1.55 0.84 1.54 0.83 1.23 1.08 1.35 1.24 1.27 1.23 1.08 1.69 1.23 1.53 0.93 1.71 0.87 1.85 0.78 1.85 0.62 1.85 0.5 2.16 0.44 2.16 0.31zM343.15 261.67l2.33 0.07 2.47 -0.06 2.16 -0.16 2.15 -0.29 2.16 -0.42 2.16 -0.57 1.85 -0.62 1.85 -0.78 1.71 -0.87 1.68 -1.03 1.54 -1.13 1.39 -1.23 1.18 -1.24 1.2 -1.54 0.97 -1.54 0.76 -1.54 0.58 -1.54 0.46 -1.85 0.22 -1.54 0.05 -1.85 -0.16 -1.85 -0.31 -1.54 -0.59 -1.85 -0.68 -1.54 -0.88 -1.55 -1.11 -1.54 -1.37 -1.54 -1.34 -1.23 -1.6 -1.23 -1.54 -0.98 -1.85 -0.99 -1.88 -0.81 -2.78 -0.92 -3.05 -0.7 -3.39 -0.45 -3.39 -0.16 -3.39 0.1 -3.7 0.36 -3.7 0.61 -4.01 0.89 -4 1.13 -4.01 1.33 -4.32 1.64 -4.31 1.82 -4.63 2.12 -5.24 2.59 -6.47 3.36 -5.86 3.13 -0.1 0.11 0 0.3 0.1 0.11 8.33 4.43 5.85 2.99 3.7 1.8 3.7 1.71 3.39 1.46 3.39 1.36 3.08 1.13 3.09 1.01 2.77 0.82 2.78 0.71 2.77 0.59 2.77 0.48 2.47 0.31z"/>
<path fill="#b8de29" fill-rule="evenodd" d="M244.23 254.58l2.3 0.16 2.16 0.02 2.47 -0.09 2.46 -0.21 2.47 -0.32 2.77 -0.47 2.78 -0.58 2.77 -0.68 3.08 -0.85 3.09 -0.96 3.7 -1.24 3.39 -1.23 5.54 -2.14 8.33 -3.4 0.04 -0.34 -9.91 -4.04 -4 -1.54 -4.01 -1.44 -3.7 -1.23 -3.39 -1.02 -3.39 -0.9 -2.78 -0.64 -3.08 -0.59 -2.77 -0.4 -2.78 -0.28 -2.77 -0.13 -2.47 0.02 -2.46 0.18 -2.47 0.35 -2.16 0.49 -1.29 0.38 -1.48 0.53 -1.24 0.54 -1.23 0.65 -1.17 0.74 -0.82 0.62 -1.05 0.92 -0.66 0.71 -0.66 0.84 -0.6 0.92 -0.46 0.93 -0.44 1.23 -0.21 0.92 -0.1 0.93 0.02 1.23 0.14 0.93 0.34 1.23 0.39 0.92 0.5 0.93 0.65 0.92 0.74 0.88 0.68 0.66 0.86 0.74 1.14 0.81 1.04 0.61 1.23 0.62 2.45 0.94 2.77 0.73 1.54 0.27zM331.54 254.58l2.23 0.14 1.85 0.05 1.85 -0.03 1.85 -0.12 1.85 -0.21 1.54 -0.26 1.54 -0.35 1.54 -0.44 1.54 -0.55 1.24 -0.54 1.23 -0.65 1.17 -0.74 1.2 -0.93 0.97 -0.92 0.79 -0.93 0.65 -0.92 0.5 -0.93 0.49 -1.23 0.3 -1.23 0.11 -1.24 -0.07 -1.23 -0.25 -1.23 -0.44 -1.23 -0.46 -0.93 -0.6 -0.92 -0.74 -0.93 -0.91 -0.92 -1.17 -0.97 -1.23 -0.82 -1.24 -0.68 -1.54 -0.7 -1.54 -0.55 -2.19 -0.6 -2.43 -0.45 -2.47 -0.26 -2.77 -0.1 -2.78 0.08 -2.77 0.23 -3.08 0.41 -3.09 0.56 -3.39 0.77 -3.08 0.81 -3.39 1.01 -3.7 1.22 -4.32 1.55 -4 1.54 -9.91 4.04 0.04 0.34 8.94 3.64 6.78 2.58 6.17 2.09 4.93 1.43 4.32 1.03 4 0.74z"/>
<path fill="#e7e419" fill-rule="evenodd" d="M257.74 248.1l3.28 0.17 3.39 -0.1 3.7 -0.36 4.2 -0.63 4.74 -0.95 6.34 -1.52 8 -2.16 0 -0.3 -6.81 -1.85 -5.06 -1.27 -5.54 -1.2 -4.02 -0.69 -4.01 -0.49 -3.7 -0.21 -3.39 0.07 -1.54 0.13 -1.54 0.22 -1.65 0.35 -1.74 0.55 -1.51 0.69 -0.98 0.61 -1.01 0.93 -0.62 0.92 -0.3 0.93 0 0.92 0.3 0.93 0.62 0.92 1.01 0.93 0.98 0.61 1.33 0.62 1.72 0.56 1.85 0.41zM318.71 248.1l2.73 0.15 2.46 0 2.36 -0.15 2.27 -0.32 2.16 -0.53 1.54 -0.56 1.41 -0.75 1.18 -0.92 0.75 -0.92 0.3 -0.62 0.16 -0.62 0.03 -0.61 -0.1 -0.62 -0.23 -0.62 -0.37 -0.61 -0.87 -0.93 -1.37 -0.92 -1.82 -0.8 -2.16 -0.6 -1.54 -0.29 -1.54 -0.18 -3.39 -0.15 -3.96 0.17 -4.05 0.45 -4.63 0.78 -4.37 0.93 -6.24 1.54 -6.81 1.85 0 0.3 1.09 0.31 6.91 1.85 5.11 1.25 4 0.85 3.09 0.56 3.08 0.44z"/>
<rect x="501.6" y="400.8" width="18.48" height="26.4" fill="#470e61"/>
<rect x="501.6" y="374.4" width="18.48" height="26.7" fill="#482677"/>
<rect x="501.6" y="348" width="18.48" height="26.7" fill="#433d84"/>
<rect x="501.6" y="321.6" width="18.48" height="26.7" fill="#3b528b"/>
<rect x="501.6" y="295.2" width="18.48" height="26.7" fill="#32658e"/>
<rect x="501.6" y="268.8" width="18.48" height="26.7" fill="#2a768e"/>
<rect x="501.6" y="242.4" width="18.48" height="26.7" fill="#24878e"/>
<rect x="501.6" y="216" width="18.48" height="26.7" fill="#1f998a"/>
<rect x="501.6" y="189.6" width="18.48" height="26.7" fill="#24aa83"/>
<rect x="501.6" y="163.2" width="18.48" height="26.7" fill="#3aba76"/>
<rect x="501.6" y="136.8" width="18.48" height="26.7" fill="#5ec962"/>
<rect x="501.6" y="110.4" width="18.48" height="26.7" fill="#89d548"/>
<rect x="501.6" y="84" width="18.48" height="26.7" fill="#b8de29"/>
<rect x="501.6" y="57.6" width="18.48" height="26.7" fill="#e7e419"/>
</g>
<path d="M107.5 58.5H477.5V427.5H107.5ZM502.5 58.5H520.5V427.5H502.5ZM144.5 428v4.5M218.5 428v4.5M292.5 428v4.5M366.5 428v4.5M440.5 428v4.5M107 95.5h-4.5M107 168.5h-4.5M107 242.5h-4.5M107 316.5h-4.5M107 390.5h-4.5M521 58.5h4.5M521 110.5h4.5M521 163.5h4.5M521 216.5h4.5M521 269.5h4.5M521 322.5h4.5M521 374.5h4.5M521 427.5h4.5" stroke="#000" stroke-width="1.06" fill="none"/>
<text transform="translate(199.24 49.27) scale(1.0822 1)" font-size="17.33">Magnetic</text>
<text transform="translate(280.62 49.27) scale(1.0827 1)" font-size="17.33">sphere:</text>
<text transform="translate(348.47 49.27) scale(1.128 1)" font-size="17.33">R=</text>
<text transform="translate(374.01 49.27) scale(1.0908 1)" font-size="17.33">4</text>
<g transform="translate(267.83 470.82)"><text transform="translate(0.92 -0.04) scale(1.0278 1)" font-size="13.98" font-style="italic">Q</text><text transform="translate(11.59 2.8) scale(0.928 1)" font-size="10.6" font-style="italic">x</text><text transform="translate(18.2 1.65) scale(1.0482 1)" font-size="15.8">/</text><text transform="translate(22.84 0) scale(0.8848 1)" font-size="14.67" font-style="italic">Å</text><text transform="translate(33.63 -2.9) scale(0.6848 1)" font-size="16.83">−</text><text transform="translate(40.65 -5) scale(0.9825 1)" font-size="11.17">2</text></g>
<g transform="translate(62.85 267.01) rotate(-90)"><text transform="translate(0.92 -0.04) scale(1.0278 1)" font-size="13.98" font-style="italic">Q</text><text transform="translate(11.77 2.87) scale(0.9361 1)" font-size="10.74" font-style="italic">y</text><text transform="translate(18.2 1.65) scale(1.0482 1)" font-size="15.8">/</text><text transform="translate(22.84 0) scale(0.8848 1)" font-size="14.67" font-style="italic">Å</text><text transform="translate(33.63 -2.9) scale(0.6848 1)" font-size="16.83">−</text><text transform="translate(40.65 -5) scale(0.9825 1)" font-size="11.17">2</text></g>
<text transform="translate(134.77 447.58) scale(1.1102 1)" font-size="14.44">−4</text>
<text transform="translate(208.82 448.28) scale(1.0927 1)" font-size="14.44">−2</text>
<text transform="translate(289.3 447.62) scale(1.0124 1)" font-size="14.44">0</text>
<text transform="translate(362.25 448.28) scale(0.9417 1)" font-size="14.44">2</text>
<text transform="translate(436.35 448.04) scale(0.997 1)" font-size="14.44">4</text>
<text transform="translate(78.77 396.05) scale(1.1121 1)" font-size="14.44">−4</text>
<text transform="translate(78.55 321.84) scale(1.103 1)" font-size="14.44">−2</text>
<text transform="translate(90.36 247.83) scale(0.9963 1)" font-size="14.44">0</text>
<text transform="translate(89.28 174.03) scale(0.9521 1)" font-size="14.44">2</text>
<text transform="translate(89.37 100.22) scale(0.9747 1)" font-size="14.44">4</text>
<text transform="translate(531.33 432.92) scale(1.0062 1)" font-size="14.44">0.0</text>
<text transform="translate(531.22 379.76) scale(1.0022 1)" font-size="14.44">0.3</text>
<text transform="translate(531.33 327.12) scale(1.0133 1)" font-size="14.44">0.6</text>
<text transform="translate(531.33 273.51) scale(1.0143 1)" font-size="14.44">0.9</text>
<text transform="translate(530.7 222.33) scale(0.9695 1)" font-size="14.44">1.2</text>
<text transform="translate(530.67 169.19) scale(0.986 1)" font-size="14.44">1.5</text>
<text transform="translate(530.87 115.62) scale(0.9855 1)" font-size="14.44">1.8</text>
<text transform="translate(530.13 63) scale(1.0633 1)" font-size="14.44">2.1</text>
<text transform="translate(494.78 53.12) scale(0.9972 1)" font-size="14.44">1e8</text>
</g>
<g transform="translate(2630 3) scale(1.36875)">
<rect width="640" height="480" fill="#fff"/>
<clipPath id="c3"><rect x="107.5" y="58.5" width="370" height="369"/><rect x="502.5" y="58.5" width="18" height="369"/></clipPath>
<g clip-path="url(#c3)">
<rect x="107" y="57" width="371" height="371" fill="#460b5e"/>
<path fill="#482071" fill-rule="evenodd" d="M128.84 426.89l0.35 0.31 325.62 0 5.65 -5.08 5.65 -5.4 5.44 -5.55 5.11 -5.55 0.14 -0.15 0 -326.14 -4.67 -5.08 -4.89 -5.04 -4.96 -4.83 -5.21 -4.79 -2.26 -1.99 -325.62 0 -5.65 5.08 -5.65 5.4 -5.44 5.55 -5.11 5.55 -0.14 0.15 0 326.14 5.24 5.69 5.24 5.35 5.55 5.32z"/>
<path fill="#46337f" fill-rule="evenodd" d="M172.98 426.89l0.49 0.31 237.06 0 4.93 -3.2 4.93 -3.4 4.62 -3.37 4.63 -3.55 4.6 -3.74 4.34 -3.73 4.31 -3.9 4.29 -4.09 4.03 -4.06 4.02 -4.26 4 -4.47 3.78 -4.47 3.7 -4.62 3.5 -4.63 3.32 -4.62 3.27 -4.82 0 -239.74 -3.05 -4.51 -3.31 -4.63 -3.49 -4.62 -3.44 -4.31 -3.62 -4.32 -3.74 -4.24 -3.8 -4.08 -3.91 -4 -4.01 -3.89 -4.15 -3.83 -4.17 -3.65 -4.32 -3.6 -4.31 -3.41 -4.62 -3.47 -4.63 -3.28 -4.62 -3.11 -3.08 -1.98 -237.06 0 -4.93 3.2 -4.93 3.4 -4.62 3.37 -4.63 3.55 -4.6 3.74 -4.34 3.73 -4.31 3.9 -4.29 4.09 -4.03 4.06 -4.02 4.26 -4 4.47 -3.78 4.47 -3.7 4.62 -3.5 4.63 -3.32 4.62 -3.27 4.82 0 239.74 3.27 4.82 3.32 4.62 3.5 4.63 3.7 4.62 3.65 4.32 3.84 4.31 4 4.25 4.03 4.08 4.29 4.11 4.3 3.9 4.33 3.73 4.63 3.77 4.62 3.57 4.62 3.38 4.63 3.21z"/>
<path fill="#404588" fill-rule="evenodd" d="M214.88 426.89l0.76 0.31 152.72 0 4.56 -1.91 4.31 -1.93 4.63 -2.2 4.31 -2.19 4.32 -2.32 4.01 -2.28 4 -2.4 4.32 -2.73 4.01 -2.67 4 -2.82 4.01 -2.96 3.69 -2.87 3.71 -3.03 3.66 -3.14 3.43 -3.08 3.6 -3.39 3.49 -3.46 3.39 -3.52 3.21 -3.5 3.23 -3.7 3.07 -3.7 2.93 -3.7 2.79 -3.7 2.88 -4.01 2.72 -4 2.59 -4.01 2.47 -4.03 2.49 -4.29 2.2 -4.01 2.24 -4.32 2.1 -4.31 2.07 -4.53 0 -160.18 -1.93 -4.22 -2.09 -4.31 -2.23 -4.32 -2.18 -4.01 -2.31 -4 -2.44 -4.01 -2.54 -3.97 -2.52 -3.74 -2.84 -4.01 -2.76 -3.69 -2.89 -3.7 -3.04 -3.7 -3.19 -3.7 -3.07 -3.39 -3.21 -3.39 -3.3 -3.33 -3.39 -3.26 -3.58 -3.28 -3.53 -3.08 -3.68 -3.07 -3.7 -2.93 -3.7 -2.8 -3.7 -2.67 -3.94 -2.71 -4.07 -2.65 -4.01 -2.48 -4.01 -2.35 -4 -2.24 -4.01 -2.11 -4.32 -2.15 -4.31 -2.03 -4.32 -1.9 -3.63 -1.51 -152.72 0 -4.56 1.91 -4.31 1.93 -4.63 2.2 -4.31 2.19 -4.32 2.32 -4.01 2.28 -4 2.4 -4.32 2.73 -4.01 2.67 -4 2.82 -4.01 2.96 -3.69 2.87 -3.71 3.03 -3.66 3.14 -3.43 3.08 -3.6 3.39 -3.49 3.46 -3.39 3.52 -3.21 3.5 -3.23 3.7 -3.07 3.7 -2.93 3.7 -2.79 3.7 -2.88 4.01 -2.72 4 -2.59 4.01 -2.47 4.03 -2.49 4.29 -2.2 4.01 -2.24 4.32 -2.1 4.31 -2.07 4.53 0 160.18 1.93 4.22 2.09 4.31 2.23 4.32 2.18 4.01 2.5 4.31 2.44 4.01 2.58 4.01 2.72 4 2.86 4.01 2.78 3.7 2.92 3.7 3.06 3.7 3.22 3.7 3.17 3.48 3.39 3.54 3.48 3.46 3.59 3.39 3.41 3.09 3.7 3.18 3.7 3.03 3.7 2.89 4.01 2.98 4.01 2.83 4 2.68 4.01 2.55 4.32 2.6 4 2.29 4.32 2.33 4.31 2.2 4.32 2.07 4.32 1.94z"/>
<path fill="#39558c" fill-rule="evenodd" d="M288.46 425.97l4.31 0.03 4.32 -0.07 4.31 -0.16 4.32 -0.27 4.31 -0.36 4.32 -0.47 4.01 -0.52 4.31 -0.66 4.32 -0.76 4 -0.81 4.32 -0.96 4.01 -0.99 4.31 -1.18 4.01 -1.19 4.01 -1.29 4.01 -1.39 4 -1.49 4.01 -1.6 4.01 -1.7 4 -1.82 4.01 -1.93 3.7 -1.89 3.7 -2 3.7 -2.1 3.7 -2.22 3.7 -2.34 3.39 -2.25 3.5 -2.45 3.59 -2.62 3.39 -2.61 3.39 -2.74 3.08 -2.6 3.08 -2.73 3.28 -3.03 2.89 -2.8 3.08 -3.13 3.08 -3.28 2.78 -3.1 2.77 -3.25 2.66 -3.25 2.64 -3.39 2.51 -3.39 2.4 -3.39 2.43 -3.61 2.23 -3.48 2.24 -3.7 2.13 -3.7 2.02 -3.7 1.91 -3.7 1.95 -4 1.83 -4.01 1.59 -3.7 1.61 -4.01 1.51 -4 1.39 -4.01 1.3 -4.01 1.19 -4.01 1.09 -4 1.07 -4.32 0.89 -4.01 0.8 -4 0.76 -4.32 0.65 -4.32 0.51 -4.06 0 -41.5 -0.56 -4.37 -0.65 -4.32 -0.77 -4.31 -0.87 -4.32 -0.98 -4.32 -1.01 -4 -1.2 -4.32 -1.21 -4.01 -1.53 -4.62 -1.56 -4.32 -1.8 -4.62 -1.81 -4.31 -1.95 -4.32 -2.08 -4.32 -2.23 -4.31 -2.2 -4.01 -2.52 -4.31 -2.49 -4.01 -2.63 -4.01 -2.63 -3.79 -2.87 -3.92 -2.86 -3.69 -3.01 -3.7 -3.28 -3.81 -3.26 -3.59 -3.25 -3.39 -3.41 -3.39 -3.6 -3.39 -3.45 -3.09 -3.68 -3.12 -3.78 -3.04 -3.93 -3 -3.7 -2.67 -4 -2.74 -4.01 -2.6 -4.32 -2.63 -4 -2.31 -4.32 -2.34 -4.31 -2.19 -4.32 -2.06 -4.32 -1.93 -4.62 -1.92 -4.62 -1.77 -4.32 -1.54 -4.62 -1.51 -4.63 -1.38 -4.62 -1.26 -4.93 -1.19 -4.63 -1 -4.93 -0.93 -4.62 -0.76 -4.93 -0.67 -4.94 -0.54 -4.62 -0.38 -4.62 -0.28 -4.94 -0.16 -4.31 -0.04 -4.32 0.06 -4.31 0.16 -4.32 0.26 -4.31 0.35 -4.32 0.46 -4.01 0.52 -4.31 0.65 -4.32 0.76 -4.31 0.86 -4.32 0.96 -4.01 0.99 -4.31 1.18 -4.01 1.19 -4.01 1.29 -4.01 1.39 -4 1.49 -4.01 1.6 -4.01 1.7 -3.7 1.67 -3.7 1.78 -4 2.03 -3.7 1.99 -3.7 2.09 -3.7 2.21 -3.7 2.33 -3.66 2.43 -3.43 2.38 -3.39 2.48 -3.39 2.6 -3.39 2.72 -3.28 2.77 -3.19 2.82 -3.09 2.85 -3.08 2.98 -3.08 3.13 -3.08 3.28 -2.78 3.1 -2.77 3.25 -2.66 3.25 -2.64 3.39 -2.51 3.39 -2.4 3.39 -2.43 3.61 -2.23 3.48 -2.24 3.7 -2.13 3.7 -2.02 3.7 -1.91 3.7 -1.95 4 -1.83 4.01 -1.59 3.7 -1.61 4.01 -1.51 4 -1.39 4.01 -1.3 4.01 -1.19 4.01 -1.09 4 -1.07 4.32 -0.89 4.01 -0.8 4 -0.76 4.32 -0.65 4.32 -0.51 4.06 0 41.5 0.56 4.37 0.65 4.32 0.77 4.31 0.87 4.32 0.98 4.32 1.01 4 1.2 4.32 1.21 4.01 1.53 4.62 1.56 4.32 1.8 4.62 1.81 4.31 1.95 4.32 2.08 4.32 2.23 4.31 2.38 4.32 2.34 4 2.5 4.04 2.62 3.98 2.78 4.01 2.93 3.98 2.89 3.72 3.03 3.7 3.2 3.7 3.21 3.53 3.39 3.53 3.39 3.35 3.39 3.19 3.7 3.3 3.7 3.13 3.7 2.96 3.81 2.9 3.89 2.81 4.01 2.73 4.01 2.58 4.01 2.44 4.31 2.48 4.32 2.33 4.31 2.19 4.32 2.04 4.31 1.92 4.63 1.91 4.31 1.65 4.63 1.64 4.62 1.5 4.63 1.38 4.62 1.24 4.62 1.12 4.63 1 4.93 0.93 4.62 0.76 4.93 0.67 4.94 0.54 4.62 0.38 4.93 0.29z"/>
<path fill="#32658e" fill-rule="evenodd" d="M287.16 411.79l4.07 0.06 4.31 -0.03 4.32 -0.14 4.32 -0.25 4.31 -0.35 4.01 -0.43 4.31 -0.56 4.01 -0.62 4.01 -0.72 4.31 -0.88 4.01 -0.92 4.32 -1.11 4.01 -1.13 4 -1.23 4.01 -1.34 4.01 -1.45 4 -1.57 3.7 -1.54 4.01 -1.79 3.7 -1.77 3.7 -1.87 3.7 -1.98 3.7 -2.11 3.7 -2.22 3.7 -2.36 3.39 -2.28 3.39 -2.4 3.39 -2.52 3.39 -2.66 3.08 -2.54 3.19 -2.76 3.05 -2.77 3.01 -2.87 2.98 -2.99 2.93 -3.08 2.79 -3.08 2.7 -3.15 2.73 -3.33 2.51 -3.23 2.47 -3.34 2.47 -3.52 2.31 -3.47 2.13 -3.39 2.21 -3.7 2.08 -3.7 1.96 -3.7 1.85 -3.7 1.73 -3.7 1.63 -3.7 1.64 -4 1.41 -3.7 1.42 -4.01 1.31 -4.01 1.19 -4 1.09 -4.01 0.98 -4.01 0.88 -4.01 0.77 -4 0.68 -4.01 0.61 -4.32 0.51 -4.31 0.36 -4.01 0.28 -4.31 0.17 -4.01 0.06 -4.01 -0.03 -4.31 -0.14 -4.01 -0.25 -4.32 -0.36 -4.31 -0.44 -4.01 -0.54 -4.01 -0.63 -4.01 -0.8 -4.31 -0.85 -4.01 -0.95 -4.01 -1.05 -4 -1.16 -4.01 -1.27 -4.01 -1.28 -3.7 -1.49 -4 -1.6 -4.01 -1.59 -3.7 -1.85 -4.01 -1.81 -3.7 -1.94 -3.7 -2.05 -3.7 -2.17 -3.69 -2.11 -3.4 -2.22 -3.39 -2.34 -3.39 -2.46 -3.39 -2.6 -3.39 -2.74 -3.39 -2.61 -3.08 -2.75 -3.08 -2.88 -3.09 -2.96 -3 -2.94 -2.85 -3.22 -2.97 -3.08 -2.7 -3.18 -2.66 -3.3 -2.62 -3.39 -2.56 -3.39 -2.43 -3.39 -2.31 -3.7 -2.39 -3.39 -2.07 -3.7 -2.15 -3.7 -2.02 -3.7 -1.91 -3.7 -1.8 -4 -1.83 -3.7 -1.58 -4.01 -1.6 -4.01 -1.48 -4 -1.38 -4.01 -1.27 -4.01 -1.16 -4.31 -1.13 -4.01 -0.96 -4.32 -0.91 -4 -0.75 -4.01 -0.65 -4.32 -0.59 -4.01 -0.45 -4.31 -0.39 -4.32 -0.28 -4 -0.16 -4.32 -0.07 -4.31 0.03 -4.32 0.14 -4.01 0.23 -4.31 0.35 -4.01 0.41 -4.32 0.56 -4 0.61 -4.01 0.71 -4.32 0.88 -4.31 0.98 -4.01 1.02 -4.01 1.12 -4 1.23 -4.01 1.33 -4.01 1.45 -4.01 1.55 -3.7 1.54 -4 1.78 -3.7 1.76 -3.7 1.86 -3.7 1.97 -3.7 2.1 -3.7 2.21 -3.61 2.29 -3.48 2.33 -3.39 2.38 -3.39 2.52 -3.38 2.64 -3.09 2.53 -3.39 2.92 -3.09 2.8 -3.08 2.94 -2.98 2.99 -2.88 3.02 -2.77 3.07 -2.72 3.16 -2.53 3.08 -2.65 3.39 -2.51 3.39 -2.38 3.39 -2.47 3.7 -2.13 3.39 -2.21 3.7 -2.08 3.7 -1.96 3.7 -1.85 3.7 -1.73 3.7 -1.63 3.7 -1.64 4 -1.41 3.7 -1.42 4.01 -1.31 4.01 -1.19 4 -1.09 4.01 -0.98 4.01 -0.88 4.01 -0.77 4 -0.68 4.01 -0.61 4.32 -0.51 4.31 -0.36 4.01 -0.28 4.31 -0.17 4.01 -0.06 4.01 0.03 4.31 0.14 4.01 0.25 4.32 0.36 4.31 0.44 4.01 0.54 4.01 0.63 4.01 0.8 4.31 0.85 4.01 0.95 4.01 1.05 4 1.16 4.01 1.27 4.01 1.28 3.7 1.49 4 1.6 4.01 1.59 3.7 1.85 4.01 1.81 3.7 1.94 3.7 2.05 3.7 2.17 3.69 2.11 3.4 2.22 3.39 2.34 3.39 2.46 3.39 2.6 3.39 2.74 3.39 2.61 3.08 2.75 3.08 2.88 3.09 2.96 3 2.94 2.85 3.22 2.97 3.08 2.7 3.18 2.66 3.3 2.62 3.39 2.56 3.39 2.43 3.39 2.31 3.7 2.39 3.39 2.07 3.7 2.15 3.7 2.02 3.7 1.91 3.7 1.8 4 1.83 3.7 1.58 4.01 1.6 4.01 1.48 4 1.38 4.01 1.27 4.01 1.16 4.31 1.13 4.01 0.96 4.32 0.91 4 0.75 4.01 0.65 4.32 0.59 4.01 0.45 4.31 0.39 4.32 0.28z"/>
<path fill="#2c738e" fill-rule="evenodd" d="M288.08 398.84l3.77 0.05 4 -0.05 4.01 -0.14 4.01 -0.25 4.01 -0.34 3.69 -0.4 4.01 -0.54 3.7 -0.58 4.01 -0.74 3.7 -0.77 4 -0.93 3.7 -0.96 3.7 -1.06 3.7 -1.15 3.7 -1.24 3.7 -1.35 3.7 -1.46 3.7 -1.56 3.63 -1.63 3.46 -1.67 3.39 -1.73 3.39 -1.83 3.39 -1.94 3.39 -2.06 3.39 -2.17 3.08 -2.08 3.09 -2.19 3.08 -2.3 3.08 -2.42 3.08 -2.55 2.78 -2.41 2.96 -2.71 2.9 -2.77 2.75 -2.77 2.61 -2.78 2.5 -2.77 2.38 -2.78 2.51 -3.08 2.39 -3.08 2.27 -3.08 2.16 -3.09 2.25 -3.39 1.93 -3.08 2.02 -3.39 1.9 -3.39 1.8 -3.39 1.68 -3.39 1.73 -3.7 1.48 -3.39 1.5 -3.7 1.29 -3.39 1.3 -3.7 1.19 -3.7 1.09 -3.7 0.99 -3.7 0.9 -3.7 0.8 -3.7 0.71 -3.7 0.65 -4 0.52 -3.7 0.42 -3.7 0.35 -4.01 0.25 -4.01 0.14 -3.7 0.05 -3.7 -0.05 -4 -0.14 -3.7 -0.25 -4.01 -0.35 -4.01 -0.42 -3.7 -0.52 -3.7 -0.6 -3.69 -0.76 -4.01 -0.8 -3.7 -0.9 -3.7 -0.99 -3.7 -1.09 -3.7 -1.19 -3.7 -1.3 -3.7 -1.29 -3.39 -1.5 -3.7 -1.48 -3.39 -1.73 -3.7 -1.68 -3.39 -1.8 -3.39 -1.9 -3.39 -2.02 -3.39 -1.93 -3.08 -2.04 -3.08 -2.21 -3.18 -2.19 -2.99 -2.44 -3.15 -2.44 -3.01 -2.49 -2.91 -2.65 -2.95 -2.61 -2.78 -2.75 -2.77 -2.78 -2.66 -2.81 -2.58 -3.05 -2.65 -3.08 -2.55 -3.08 -2.42 -3.08 -2.3 -3.09 -2.19 -3.08 -2.08 -3.39 -2.17 -3.39 -2.06 -3.39 -1.94 -3.39 -1.83 -3.39 -1.73 -3.46 -1.67 -3.63 -1.63 -3.42 -1.45 -3.67 -1.45 -3.7 -1.36 -3.7 -1.25 -3.7 -1.16 -3.7 -1.06 -3.7 -0.97 -4 -0.95 -4.01 -0.83 -3.7 -0.68 -3.7 -0.6 -4.01 -0.54 -3.7 -0.41 -4 -0.35 -4.01 -0.25 -4.01 -0.15 -4.01 -0.06 -4 0.05 -4.01 0.14 -3.7 0.22 -4.01 0.34 -3.7 0.4 -4 0.52 -3.7 0.58 -4.01 0.73 -3.7 0.76 -3.7 0.85 -4.01 1.03 -3.69 1.04 -3.7 1.15 -3.7 1.24 -3.7 1.34 -3.7 1.44 -3.7 1.55 -3.7 1.66 -3.39 1.62 -3.39 1.73 -3.39 1.82 -3.39 1.93 -3.39 2.05 -3.25 2.06 -3.23 2.17 -3.08 2.18 -3.27 2.43 -2.89 2.27 -3.09 2.53 -3 2.6 -2.85 2.6 -2.78 2.65 -2.76 2.77 -2.63 2.77 -2.62 2.91 -2.54 2.95 -2.39 2.93 -2.28 2.92 -2.35 3.18 -2.16 3.07 -2.2 3.31 -1.95 3.08 -2.02 3.39 -1.91 3.39 -1.81 3.4 -1.69 3.39 -1.74 3.69 -1.49 3.4 -1.51 3.69 -1.41 3.7 -1.3 3.7 -1.19 3.7 -1.09 3.7 -0.99 3.7 -0.9 3.7 -0.8 3.7 -0.71 3.7 -0.65 4 -0.52 3.7 -0.42 3.7 -0.35 4.01 -0.25 4.01 -0.14 3.7 -0.05 3.7 0.05 4 0.14 3.7 0.25 4.01 0.35 4.01 0.42 3.7 0.52 3.7 0.6 3.69 0.76 4.01 0.8 3.7 0.9 3.7 0.99 3.7 1.09 3.7 1.19 3.7 1.3 3.7 1.29 3.39 1.5 3.7 1.48 3.39 1.73 3.7 1.68 3.39 1.8 3.39 1.9 3.39 2.02 3.39 1.93 3.08 2.25 3.39 2.16 3.09 2.27 3.08 2.39 3.08 2.51 3.08 2.54 2.95 2.62 2.91 2.62 2.76 2.77 2.78 2.78 2.65 2.85 2.6 3 2.6 3.09 2.53 2.89 2.27 3.27 2.43 3.08 2.18 3.23 2.17 3.25 2.06 3.39 2.05 3.39 1.93 3.39 1.82 3.39 1.73 3.39 1.62 3.7 1.66 3.39 1.42 3.7 1.46 3.7 1.35 3.7 1.24 3.7 1.15 3.7 1.06 3.7 0.96 4 0.93 3.7 0.77 4.01 0.74 3.7 0.58 4.01 0.54 3.69 0.4 4.01 0.34 4.01 0.25z"/>
<path fill="#26828e" fill-rule="evenodd" d="M285.13 386.51l3.63 0.12 3.7 0.04 3.7 -0.06 3.39 -0.13 3.7 -0.23 3.7 -0.32 3.7 -0.42 3.39 -0.46 3.7 -0.59 3.39 -0.62 3.7 -0.78 3.39 -0.79 3.7 -0.97 3.39 -0.97 3.39 -1.06 3.39 -1.14 3.39 -1.24 3.39 -1.34 3.39 -1.43 3.3 -1.48 3.21 -1.54 3.36 -1.72 3.08 -1.67 3.08 -1.77 3.09 -1.86 3.08 -1.98 3.08 -2.08 2.78 -1.97 2.77 -2.08 2.77 -2.17 2.78 -2.29 2.77 -2.41 2.59 -2.36 2.65 -2.54 2.47 -2.48 2.47 -2.61 2.29 -2.54 2.38 -2.77 2.26 -2.78 2.16 -2.77 2.04 -2.77 2.12 -3.03 1.88 -2.83 1.94 -3.08 1.84 -3.09 1.73 -3.08 1.63 -3.08 1.69 -3.39 1.44 -3.09 1.48 -3.39 1.25 -3.08 1.29 -3.39 1.19 -3.39 1.09 -3.39 1 -3.39 0.91 -3.39 0.82 -3.39 0.74 -3.39 0.64 -3.4 0.61 -3.69 0.47 -3.4 0.42 -3.69 0.32 -3.7 0.21 -3.39 0.13 -3.7 0.04 -3.39 -0.05 -3.39 -0.14 -3.7 -0.24 -3.7 -0.3 -3.39 -0.43 -3.7 -0.47 -3.39 -0.57 -3.39 -0.71 -3.7 -0.74 -3.39 -0.83 -3.4 -0.91 -3.39 -1.01 -3.39 -1.11 -3.39 -1.19 -3.39 -1.26 -3.3 -1.3 -3.17 -1.48 -3.36 -1.46 -3.12 -1.62 -3.23 -1.72 -3.24 -1.74 -3.08 -1.78 -2.98 -1.85 -2.93 -2.02 -3.03 -1.99 -2.83 -2.16 -2.92 -2.24 -2.88 -2.28 -2.78 -2.26 -2.62 -2.37 -2.62 -2.56 -2.69 -2.47 -2.46 -2.67 -2.55 -2.57 -2.32 -2.77 -2.4 -2.77 -2.27 -2.78 -2.17 -2.77 -2.06 -2.88 -2.04 -2.98 -2 -3.08 -1.96 -3.08 -1.86 -3.09 -1.75 -3.08 -1.66 -3.08 -1.57 -3.39 -1.63 -3.21 -1.44 -3.27 -1.37 -3.39 -1.34 -3.39 -1.24 -3.39 -1.14 -3.39 -1.06 -3.39 -0.97 -3.7 -0.97 -3.39 -0.79 -3.7 -0.78 -3.39 -0.62 -3.7 -0.59 -3.39 -0.46 -3.7 -0.42 -3.7 -0.32 -3.7 -0.23 -3.39 -0.13 -3.7 -0.06 -3.7 0.04 -3.7 0.12 -3.69 0.22 -3.7 0.3 -3.39 0.36 -3.7 0.49 -3.7 0.57 -3.39 0.61 -3.7 0.76 -3.39 0.78 -3.7 0.95 -3.39 0.95 -3.39 1.05 -3.4 1.13 -3.39 1.22 -3.39 1.32 -3.39 1.41 -3.24 1.44 -3.23 1.53 -3.39 1.72 -3.08 1.65 -3.09 1.74 -3.08 1.85 -3.08 1.95 -3.08 2.06 -2.83 1.99 -2.91 2.16 -2.9 2.26 -2.77 2.27 -2.77 2.4 -2.57 2.32 -2.67 2.55 -2.47 2.46 -2.56 2.69 -2.37 2.62 -2.26 2.62 -2.28 2.78 -2.24 2.88 -2.16 2.92 -1.99 2.83 -2.02 3.03 -1.85 2.93 -1.78 2.98 -1.74 3.08 -1.72 3.24 -1.62 3.23 -1.46 3.12 -1.48 3.36 -1.38 3.39 -1.29 3.39 -1.19 3.39 -1.09 3.39 -1 3.39 -0.91 3.39 -0.82 3.39 -0.74 3.39 -0.64 3.4 -0.61 3.69 -0.47 3.4 -0.42 3.69 -0.32 3.7 -0.21 3.39 -0.13 3.7 -0.04 3.39 0.05 3.39 0.14 3.7 0.24 3.7 0.3 3.39 0.43 3.7 0.47 3.39 0.57 3.39 0.71 3.7 0.74 3.39 0.83 3.4 0.91 3.39 1.01 3.39 1.11 3.39 1.19 3.39 1.26 3.3 1.3 3.17 1.49 3.39 1.53 3.25 1.62 3.23 1.64 3.08 1.74 3.08 1.85 3.08 1.95 3.09 1.85 2.77 2.17 3.08 2.06 2.78 2.16 2.77 2.28 2.78 2.39 2.77 2.33 2.57 2.47 2.59 2.55 2.55 2.59 2.46 2.73 2.47 2.61 2.25 2.9 2.37 2.77 2.16 2.91 2.16 2.83 1.99 3.08 2.06 3.08 1.95 3.08 1.85 3.09 1.74 3.08 1.65 3.08 1.57 3.39 1.61 3.39 1.51 3.39 1.41 3.39 1.32 3.39 1.22 3.4 1.13 3.39 1.05 3.39 0.95 3.7 0.95 3.39 0.78 3.7 0.76 3.39 0.61 3.7 0.57 3.7 0.49 3.69 0.39 3.7 0.29z"/>
<path fill="#21918c" fill-rule="evenodd" d="M286.92 374.8l3.38 0.08 3.4 0 6.47 -0.23 3.39 -0.24 3.39 -0.32 6.47 -0.84 3.39 -0.57 3.4 -0.65 6.47 -1.49 3.39 -0.91 3.08 -0.91 6.17 -2.06 6.16 -2.38 3.09 -1.32 3.08 -1.41 5.85 -2.94 3.08 -1.69 2.78 -1.62 5.55 -3.49 2.77 -1.9 2.69 -1.93 5.17 -4.01 2.58 -2.16 2.46 -2.15 4.68 -4.43 2.32 -2.36 2.3 -2.46 2.2 -2.47 2.09 -2.46 1.98 -2.47 2.05 -2.67 1.87 -2.57 1.92 -2.78 1.81 -2.77 1.72 -2.77 3.15 -5.55 1.55 -2.98 1.41 -2.88 2.61 -5.86 1.23 -3.08 1.15 -3.08 1.06 -3.08 0.97 -3.09 0.89 -3.08 0.88 -3.39 1.37 -6.17 0.56 -3.08 0.53 -3.39 0.4 -3.08 0.36 -3.39 0.25 -3.08 0.18 -3.4 0.1 -3.08 0.01 -3.39 -0.07 -3.39 -0.14 -3.08 -0.25 -3.39 -0.3 -3.09 -0.41 -3.39 -0.46 -3.08 -0.59 -3.39 -0.62 -3.08 -0.77 -3.39 -0.78 -3.09 -1.81 -6.16 -1.03 -3.08 -1.12 -3.09 -1.21 -3.08 -1.3 -3.08 -2.73 -5.86 -1.59 -3.08 -1.51 -2.78 -3.3 -5.54 -1.79 -2.78 -1.89 -2.77 -3.85 -5.21 -4.05 -4.96 -2.17 -2.47 -2.28 -2.47 -4.6 -4.62 -4.78 -4.36 -2.49 -2.11 -2.68 -2.16 -2.53 -1.95 -2.84 -2.06 -2.71 -1.87 -2.78 -1.82 -5.62 -3.4 -5.78 -3.12 -3.09 -1.53 -3.08 -1.43 -3.08 -1.33 -3.08 -1.25 -6.17 -2.25 -6.16 -1.93 -3.09 -0.85 -3.39 -0.84 -6.47 -1.37 -3.39 -0.59 -3.39 -0.5 -6.48 -0.73 -3.39 -0.26 -3.39 -0.18 -3.39 -0.1 -3.39 -0.01 -3.39 0.06 -3.39 0.15 -3.39 0.23 -3.39 0.32 -6.48 0.83 -3.39 0.56 -3.39 0.64 -6.47 1.47 -3.39 0.91 -3.08 0.9 -6.17 2.04 -6.16 2.36 -3.09 1.31 -3.08 1.41 -5.86 2.92 -3.08 1.68 -2.77 1.6 -5.59 3.5 -2.74 1.86 -2.77 1.99 -2.67 2.01 -2.57 2.04 -4.93 4.21 -2.47 2.26 -2.36 2.28 -4.45 4.62 -2.21 2.47 -2.1 2.47 -2.13 2.63 -2.01 2.61 -3.73 5.24 -1.82 2.77 -1.73 2.78 -1.63 2.77 -1.71 3.08 -1.55 2.98 -1.41 2.88 -2.61 5.86 -1.23 3.08 -1.15 3.08 -1.06 3.08 -0.97 3.09 -0.89 3.08 -0.88 3.39 -1.37 6.17 -0.56 3.08 -0.53 3.39 -0.4 3.08 -0.36 3.39 -0.25 3.08 -0.18 3.4 -0.1 3.08 -0.01 3.39 0.07 3.39 0.14 3.08 0.25 3.39 0.3 3.09 0.41 3.39 0.46 3.08 0.59 3.39 0.62 3.08 0.77 3.39 0.78 3.09 1.81 6.16 1.03 3.08 1.12 3.09 1.21 3.08 1.3 3.08 2.73 5.86 1.59 3.08 1.51 2.78 3.3 5.54 1.79 2.78 1.89 2.77 2 2.77 1.87 2.47 2.14 2.68 2.16 2.56 4.31 4.77 2.26 2.32 2.36 2.31 2.47 2.3 2.47 2.18 2.55 2.15 2.69 2.15 5.24 3.89 2.77 1.9 2.78 1.81 5.54 3.33 2.78 1.54 3.08 1.61 3.08 1.51 3.09 1.42 3.08 1.33 3.08 1.25 6.17 2.23 3.11 1 3.36 1 6.47 1.66 6.48 1.33 3.39 0.58 3.39 0.49 6.47 0.7 3.39 0.24z"/>
<path fill="#1f9f88" fill-rule="evenodd" d="M284.28 363.08l6.02 0.22 6.17 -0.06 6.16 -0.36 6.17 -0.66 6.17 -0.95 5.85 -1.2 5.86 -1.48 5.86 -1.77 5.85 -2.1 5.55 -2.28 5.55 -2.6 5.24 -2.77 5.23 -3.1 4.94 -3.25 4.93 -3.6 4.63 -3.72 4.4 -3.92 4.4 -4.31 3.98 -4.32 3.87 -4.62 3.69 -4.89 3.38 -4.98 3 -4.93 2.87 -5.28 2.5 -5.2 2.34 -5.55 2.02 -5.55 1.8 -5.85 1.47 -5.86 1.16 -5.86 0.85 -5.85 0.55 -5.86 0.27 -5.86 0.02 -3.08 -0.06 -3.08 -0.34 -5.86 -0.64 -5.86 -0.93 -5.85 -1.24 -5.86 -1.47 -5.55 -1.83 -5.75 -2.12 -5.65 -2.41 -5.55 -2.6 -5.24 -2.93 -5.24 -3.08 -4.94 -3.44 -4.93 -3.57 -4.62 -3.95 -4.63 -4.25 -4.5 -4.31 -4.13 -4.62 -4 -4.64 -3.65 -4.93 -3.5 -5.21 -3.34 -5.27 -3.01 -5.24 -2.68 -5.55 -2.51 -5.55 -2.21 -5.86 -2 -5.85 -1.7 -5.86 -1.4 -6.16 -1.18 -5.86 -0.82 -6.17 -0.58 -6.16 -0.29 -6.17 0.01 -6.16 0.3 -6.17 0.59 -6.16 0.9 -5.86 1.13 -6.16 1.5 -5.86 1.73 -5.86 2.04 -5.55 2.24 -5.55 2.55 -5.54 2.88 -5.24 3.06 -5.24 3.42 -4.94 3.57 -4.62 3.7 -4.62 4.1 -4.32 4.22 -4.15 4.49 -3.86 4.61 -3.51 4.64 -3.37 4.93 -3.2 5.24 -2.85 5.24 -2.52 5.24 -2.34 5.55 -2.02 5.55 -1.8 5.85 -1.47 5.86 -1.16 5.86 -0.85 5.85 -0.55 5.86 -0.27 5.86 -0.02 3.08 0.06 3.08 0.15 3.09 0.22 3.08 0.65 5.86 0.95 5.85 1.25 5.86 1.58 5.86 1.79 5.54 2.1 5.55 2.44 5.55 2.61 5.24 2.95 5.24 3.31 5.24 3.4 4.82 3.7 4.74 4 4.62 4.13 4.32 4.51 4.26 4.62 3.96 4.62 3.59 4.94 3.46 5.24 3.3 5.24 2.96 5.55 2.79 5.54 2.46 5.86 2.26 5.86 1.95 5.86 1.63 5.85 1.34 6.17 1.11 6.16 0.81z"/>
<path fill="#26ad81" fill-rule="evenodd" d="M289.04 351.68l5.58 0 5.55 -0.25 5.55 -0.5 5.55 -0.78 5.54 -1.04 5.25 -1.24 5.54 -1.59 5.24 -1.78 5.24 -2.06 4.94 -2.22 4.93 -2.5 4.93 -2.82 4.64 -2.95 4.61 -3.27 4.31 -3.39 4.01 -3.48 3.91 -3.73 3.8 -4 3.45 -4.02 3.35 -4.31 3.06 -4.37 2.88 -4.57 2.6 -4.63 2.46 -4.93 2.15 -4.93 1.93 -5.14 1.61 -5.03 1.39 -5.24 1.11 -5.24 0.84 -5.24 0.57 -5.24 0.31 -5.55 0.03 -5.55 -0.25 -5.24 -0.54 -5.55 -0.79 -5.24 -1.06 -5.24 -1.34 -5.24 -1.63 -5.24 -1.81 -4.93 -2.1 -4.94 -2.39 -4.93 -2.54 -4.62 -2.85 -4.63 -3.04 -4.43 -3.39 -4.44 -3.45 -4.07 -3.75 -4.01 -3.9 -3.79 -4.11 -3.61 -4.26 -3.39 -4.58 -3.29 -4.62 -2.99 -4.63 -2.68 -4.93 -2.57 -5.11 -2.34 -5.06 -2.04 -5.24 -1.83 -5.24 -1.55 -5.55 -1.37 -5.55 -1.09 -5.55 -0.81 -5.55 -0.56 -5.55 -0.29 -5.85 -0.03 -5.55 0.23 -5.55 0.5 -5.55 0.76 -5.55 1.02 -5.24 1.23 -5.55 1.57 -5.24 1.77 -5.24 2.04 -4.93 2.2 -4.93 2.49 -4.93 2.79 -4.63 2.93 -4.62 3.25 -4.32 3.37 -4 3.45 -4.01 3.8 -3.74 3.91 -3.66 4.24 -3.39 4.36 -3.08 4.4 -2.88 4.57 -2.6 4.63 -2.46 4.93 -2.15 4.93 -1.93 5.14 -1.61 5.03 -1.39 5.24 -1.11 5.24 -0.84 5.24 -0.57 5.24 -0.31 5.55 -0.03 5.55 0.25 5.24 0.54 5.55 0.79 5.24 1.06 5.24 1.34 5.24 1.63 5.24 1.81 4.93 2.1 4.94 2.39 4.93 2.72 4.93 2.87 4.62 2.98 4.32 3.31 4.32 3.64 4.29 3.7 3.93 4.01 3.86 4.17 3.64 4.3 3.39 4.48 3.19 4.62 2.97 4.83 2.78 5.04 2.57 4.93 2.24 5.24 2.08 5.24 1.79 5.24 1.53 5.55 1.33 5.55 1.06 5.54 0.79 5.55 0.52z"/>
<path fill="#3aba76" fill-rule="evenodd" d="M285.48 339.66l5.13 0.18 4.93 -0.05 5.25 -0.29 4.93 -0.51 4.93 -0.74 4.93 -0.97 4.93 -1.22 4.63 -1.36 4.62 -1.6 4.63 -1.84 4.57 -2.09 4.36 -2.24 4.32 -2.48 4.17 -2.67 3.9 -2.78 3.92 -3.08 3.73 -3.25 3.39 -3.26 3.39 -3.58 3.23 -3.78 2.94 -3.82 2.7 -3.89 2.54 -4.07 2.36 -4.25 2.12 -4.32 1.86 -4.31 1.61 -4.32 1.47 -4.62 1.21 -4.63 0.97 -4.62 0.72 -4.62 0.52 -4.94 0.24 -4.62 0.01 -4.93 -0.25 -4.93 -0.48 -4.63 -0.71 -4.62 -0.95 -4.63 -1.19 -4.62 -1.45 -4.62 -1.72 -4.63 -1.86 -4.31 -2.12 -4.32 -2.36 -4.25 -2.54 -4.07 -2.79 -4.01 -2.99 -3.87 -3.09 -3.61 -3.39 -3.58 -3.39 -3.26 -3.7 -3.22 -3.95 -3.11 -4.06 -2.89 -4.01 -2.56 -4.32 -2.48 -4.31 -2.22 -4.62 -2.11 -4.63 -1.84 -4.62 -1.6 -4.93 -1.45 -4.94 -1.2 -4.93 -0.95 -4.93 -0.73 -4.93 -0.49 -4.94 -0.27 -5.24 -0.05 -5.24 0.21 -4.93 0.43 -4.93 0.65 -4.93 0.88 -4.93 1.12 -4.94 1.37 -4.93 1.63 -4.62 1.78 -4.63 2.03 -4.31 2.15 -4.32 2.4 -4.31 2.69 -4.16 2.88 -3.99 3.08 -3.62 3.09 -3.65 3.42 -3.52 3.67 -3.21 3.7 -2.9 3.69 -2.83 4.01 -2.55 4.01 -2.44 4.32 -2.16 4.31 -1.96 4.49 -1.69 4.45 -1.48 4.62 -1.23 4.63 -1.04 4.93 -0.72 4.62 -0.52 4.94 -0.25 4.93 0.01 4.93 0.27 4.93 0.49 4.63 0.78 4.93 0.98 4.62 1.23 4.63 1.48 4.62 1.76 4.62 1.89 4.32 2.16 4.31 2.44 4.32 2.55 4.01 2.83 4.01 2.9 3.69 3.34 3.85 3.43 3.55 3.61 3.39 3.75 3.2 3.86 2.97 4.16 2.88 4.27 2.67 4.36 2.42 4.42 2.2 4.83 2.11 4.62 1.76 4.62 1.52 4.94 1.37 4.93 1.12 4.93 0.88 5.24 0.69z"/>
<path fill="#56c667" fill-rule="evenodd" d="M288.01 327.32l4.45 0.08 4.63 -0.13 4.62 -0.34 4.32 -0.52 4.31 -0.71 4.32 -0.91 4.31 -1.12 4.32 -1.34 4.31 -1.56 4.01 -1.68 4.01 -1.89 3.7 -1.97 3.7 -2.2 3.57 -2.35 3.52 -2.57 3.29 -2.67 3.18 -2.83 3.07 -3.03 2.83 -3.08 2.73 -3.28 2.47 -3.28 2.44 -3.61 2.23 -3.7 1.97 -3.7 1.75 -3.7 1.64 -4.01 1.41 -4.01 1.17 -4 0.96 -4.01 0.75 -4.01 0.54 -4 0.35 -4.32 0.12 -4.01 -0.09 -4.31 -0.32 -4.32 -0.51 -4.01 -0.77 -4.31 -0.94 -4.01 -1.16 -4.01 -1.39 -4 -1.63 -4.01 -1.72 -3.7 -1.96 -3.7 -2.2 -3.7 -2.33 -3.49 -2.47 -3.32 -2.77 -3.36 -2.78 -3.06 -3.08 -3.07 -3.08 -2.78 -3.4 -2.77 -3.39 -2.5 -3.69 -2.47 -3.7 -2.21 -3.7 -1.99 -4.01 -1.92 -4.01 -1.68 -4.01 -1.48 -4.31 -1.37 -4.32 -1.15 -4.31 -0.94 -4.32 -0.74 -4.31 -0.55 -4.63 -0.37 -4.62 -0.16 -4.62 0.06 -4.63 0.27 -4.31 0.45 -4.63 0.7 -4.31 0.85 -4.32 1.06 -4.32 1.27 -4.31 1.5 -4.01 1.61 -4.01 1.83 -4 2.06 -3.7 2.14 -3.7 2.38 -3.39 2.41 -3.49 2.75 -3.29 2.88 -3.09 2.98 -2.89 3.08 -2.87 3.4 -2.59 3.39 -2.43 3.56 -2.16 3.53 -2.16 3.97 -1.78 3.73 -1.67 4.01 -1.42 4.01 -1.19 4 -0.98 4.01 -0.81 4.32 -0.54 4 -0.35 4.32 -0.13 4.32 0.11 4.31 0.34 4.32 0.52 4 0.8 4.32 0.96 4.01 1.17 4 1.41 4.01 1.64 4.01 1.75 3.7 1.97 3.7 2.23 3.7 2.44 3.61 2.62 3.48 2.85 3.39 2.86 3.08 3.08 3 3.23 2.86 3.48 2.77 3.46 2.49 3.7 2.4 3.7 2.16 4.01 2.08 4 1.85 4.01 1.62 4.32 1.52 4.31 1.29 4.32 1.07 4.31 0.87 4.63 0.71 4.31 0.46z"/>
<path fill="#77d153" fill-rule="evenodd" d="M287.18 313.76l3.74 0.12 4.01 -0.04 4.01 -0.22 3.69 -0.36 3.7 -0.51 3.7 -0.68 3.7 -0.85 3.7 -1.01 3.7 -1.21 3.39 -1.27 3.39 -1.45 3.39 -1.64 3.39 -1.84 3.09 -1.88 3.08 -2.08 2.77 -2.07 2.78 -2.29 2.54 -2.3 2.47 -2.46 2.51 -2.78 2.27 -2.77 2.04 -2.78 2.04 -3.08 1.81 -3.08 1.61 -3.08 1.51 -3.3 1.26 -3.18 1.15 -3.39 0.95 -3.39 0.76 -3.39 0.59 -3.39 0.4 -3.39 0.24 -3.39 0.06 -3.7 -0.15 -3.7 -0.31 -3.39 -0.49 -3.39 -0.66 -3.39 -0.85 -3.39 -1.04 -3.39 -1.24 -3.39 -1.31 -3.09 -1.65 -3.39 -1.71 -3.08 -1.86 -2.99 -1.99 -2.87 -2.14 -2.77 -2.37 -2.78 -2.44 -2.57 -2.77 -2.64 -2.77 -2.39 -2.78 -2.17 -3.08 -2.17 -3.04 -1.93 -3.13 -1.78 -3.13 -1.61 -3.38 -1.54 -3.66 -1.47 -3.39 -1.18 -3.7 -1.11 -3.7 -0.93 -3.7 -0.76 -3.7 -0.59 -4 -0.47 -4.01 -0.29 -4.01 -0.11 -4 0.07 -4.01 0.25 -4.01 0.42 -3.7 0.56 -4.01 0.78 -3.7 0.91 -3.69 1.07 -3.7 1.27 -3.7 1.47 -3.39 1.53 -3.39 1.73 -3.39 1.94 -3.09 1.98 -3.06 2.18 -2.79 2.2 -2.78 2.42 -2.77 2.68 -2.47 2.64 -2.47 2.93 -2.15 2.85 -2.08 3.08 -1.86 3.08 -1.65 3.09 -1.59 3.39 -1.37 3.39 -1.16 3.39 -0.97 3.39 -0.78 3.39 -0.6 3.39 -0.45 3.7 -0.25 3.7 -0.04 3.7 0.16 3.7 0.33 3.39 0.55 3.7 0.7 3.39 0.98 3.7 1.09 3.39 1.29 3.39 1.51 3.39 1.57 3.08 1.84 3.21 1.92 2.96 2.23 3.08 2.33 2.87 2.46 2.74 2.47 2.49 2.77 2.52 2.82 2.33 3.04 2.25 3.09 2.06 3.38 2.03 3.39 1.81 3.39 1.6 3.7 1.53 3.7 1.34 3.7 1.14 3.7 0.95 3.7 0.79 4.01 0.67 4 0.48z"/>
<path fill="#9dd93b" fill-rule="evenodd" d="M291.76 298.35l3.17 -0.05 3.39 -0.18 3.39 -0.32 3.08 -0.42 3.09 -0.54 3.08 -0.66 3.08 -0.81 3.08 -0.95 2.8 -1 3 -1.24 2.64 -1.23 2.66 -1.4 2.47 -1.45 2.46 -1.61 2.35 -1.7 2.3 -1.85 2.13 -1.91 2.12 -2.1 1.96 -2.16 1.78 -2.17 1.79 -2.45 1.6 -2.47 1.42 -2.47 1.25 -2.46 1.1 -2.47 1.05 -2.77 0.88 -2.78 0.72 -2.77 0.56 -2.77 0.4 -2.78 0.24 -2.77 0.1 -2.78 -0.05 -2.77 -0.19 -2.78 -0.35 -2.77 -0.51 -2.77 -0.66 -2.78 -0.82 -2.77 -1 -2.78 -1.06 -2.5 -1.33 -2.74 -1.38 -2.46 -1.55 -2.47 -1.59 -2.25 -1.85 -2.35 -1.85 -2.1 -2.16 -2.21 -2.04 -1.88 -2.21 -1.85 -2.22 -1.67 -2.47 -1.68 -2.59 -1.58 -2.65 -1.44 -2.76 -1.34 -2.79 -1.18 -2.77 -1.04 -2.78 -0.91 -3.12 -0.87 -3.04 -0.71 -3.39 -0.64 -3.09 -0.45 -3.39 -0.36 -3.08 -0.21 -3.39 -0.1 -3.39 0.04 -3.39 0.17 -3.39 0.31 -3.08 0.4 -3.4 0.59 -3.02 0.65 -3.14 0.82 -2.77 0.85 -3.09 1.09 -2.77 1.14 -2.78 1.28 -2.47 1.29 -2.65 1.54 -2.58 1.69 -2.35 1.7 -2.28 1.83 -2.15 1.93 -2.12 2.1 -1.96 2.16 -1.78 2.17 -1.79 2.45 -1.6 2.47 -1.42 2.47 -1.25 2.46 -1.1 2.47 -1.05 2.77 -0.88 2.78 -0.72 2.77 -0.56 2.77 -0.4 2.78 -0.24 2.77 -0.1 2.78 0.06 3.08 0.22 2.77 0.36 2.78 0.52 2.77 0.68 2.78 0.85 2.77 1.01 2.78 1.06 2.46 1.21 2.47 1.44 2.57 1.54 2.44 1.7 2.39 1.71 2.15 1.9 2.16 2.09 2.13 2.16 1.99 2.16 1.79 2.46 1.84 2.47 1.66 2.46 1.49 2.47 1.33 2.77 1.34 2.78 1.18 3.08 1.15 3.08 0.98 3.09 0.84 3.08 0.69 3.08 0.56 3.08 0.44 3.39 0.35 3.4 0.21z"/>
<path fill="#c5e021" fill-rule="evenodd" d="M281.29 277.7l4.39 0.21 5.55 0.09 5.86 -0.05 4.62 -0.19 3.7 -0.31 3.08 -0.42 3.08 -0.59 3.09 -0.81 3.08 -1.06 2.77 -1.2 2.78 -1.47 2.51 -1.6 2.42 -1.84 2.16 -1.95 2.16 -2.32 1.85 -2.38 0.92 -1.38 0.92 -1.54 1.41 -2.77 0.65 -1.54 0.56 -1.55 0.87 -3.08 0.56 -3.08 0.18 -1.54 0.11 -1.85 0.01 -1.85 -0.07 -1.54 -0.19 -1.85 -0.23 -1.54 -0.37 -1.85 -0.4 -1.54 -1.03 -3.09 -0.65 -1.54 -0.74 -1.54 -1.59 -2.77 -0.92 -1.38 -1.05 -1.4 -2.14 -2.46 -2.36 -2.26 -1.37 -1.13 -1.41 -1.06 -1.85 -1.23 -2.15 -1.24 -2.16 -1.07 -2.16 -0.91 -2.16 -0.77 -2.46 -0.72 -2.47 -0.58 -2.47 -0.44 -2.77 -0.37 -3.08 -0.27 -3.39 -0.17 -3.7 -0.09 -5.24 -0.01 -4.63 0.09 -3.7 0.18 -3.08 0.27 -2.47 0.32 -2.15 0.37 -2.16 0.47 -2.16 0.57 -2.16 0.7 -1.85 0.7 -2.14 0.94 -1.81 0.92 -1.61 0.93 -1.83 1.2 -1.55 1.13 -1.65 1.37 -1.43 1.32 -1.54 1.61 -1.23 1.46 -1.24 1.63 -1.3 1.99 -1.21 2.16 -1.01 2.16 -0.83 2.16 -0.67 2.15 -0.57 2.47 -0.38 2.47 -0.19 2.33 -0.03 2.29 0.15 2.47 0.34 2.46 0.44 2.16 0.64 2.27 0.85 2.35 0.95 2.16 1.15 2.16 1.15 1.85 1.45 2 1.54 1.85 1.63 1.7 1.76 1.6 1.85 1.47 1.85 1.28 2.16 1.31 2.16 1.11 2.15 0.95 2.47 0.92 2.47 0.74 2.46 0.59 2.47 0.46 2.77 0.39z"/>
<path fill="#ece51b" fill-rule="evenodd" d="M275.34 251.49l1.09 0.13 0.93 0.02 0.92 -0.05 1.24 -0.19 1.23 -0.31 0.92 -0.32 1.85 -0.85 1.85 -1.15 1.85 -1.45 2.16 -2.06 2.47 -2.66 0.3 0 2.78 2.98 2.16 2 1.23 0.97 0.92 0.64 1.85 1.05 0.93 0.41 1.23 0.44 0.93 0.25 1.23 0.21 1.23 0.09 0.93 -0.02 1.09 -0.13 1.06 -0.23 0.93 -0.3 0.9 -0.39 0.95 -0.54 0.62 -0.44 0.67 -0.56 0.61 -0.62 0.57 -0.7 0.55 -0.84 0.7 -1.54 0.27 -0.93 0.16 -0.92 0.07 -0.93 -0.03 -0.92 -0.28 -1.54 -0.57 -1.54 -0.51 -0.93 -0.42 -0.61 -1.12 -1.24 -1.29 -1 -1.54 -0.81 -1.54 -0.5 -0.93 -0.18 -0.92 -0.1 -1.85 0.03 -1.54 0.25 -1.85 0.57 -1.54 0.68 -1.55 0.9 -1.23 0.87 -1.54 1.27 -1.85 1.79 -2.47 2.66 -0.3 0 -2.47 -2.66 -2.16 -2.06 -1.23 -1 -0.93 -0.67 -1.23 -0.76 -0.92 -0.49 -0.93 -0.41 -1.23 -0.44 -0.93 -0.25 -1.23 -0.21 -1.23 -0.09 -0.93 0.02 -1.09 0.13 -1.06 0.23 -1.55 0.56 -1.34 0.75 -1.18 0.92 -1.12 1.24 -0.78 1.23 -0.64 1.54 -0.32 1.54 -0.06 1.54 0.22 1.54 0.51 1.54 0.71 1.33 0.92 1.2 1.23 1.12 1.24 0.8 1.54 0.68z"/>
<rect x="501.6" y="405.46" width="18.48" height="21.74" fill="#460b5e"/>
<rect x="501.6" y="383.72" width="18.48" height="22.04" fill="#482071"/>
<rect x="501.6" y="361.98" width="18.48" height="22.04" fill="#46337f"/>
<rect x="501.6" y="340.24" width="18.48" height="22.04" fill="#404588"/>
<rect x="501.6" y="318.49" width="18.48" height="22.04" fill="#39558c"/>
<rect x="501.6" y="296.75" width="18.48" height="22.04" fill="#32658e"/>
<rect x="501.6" y="275.01" width="18.48" height="22.04" fill="#2c738e"/>
<rect x="501.6" y="253.27" width="18.48" height="22.04" fill="#26828e"/>
<rect x="501.6" y="231.53" width="18.48" height="22.04" fill="#21918c"/>
<rect x="501.6" y="209.79" width="18.48" height="22.04" fill="#1f9f88"/>
<rect x="501.6" y="188.05" width="18.48" height="22.04" fill="#26ad81"/>
<rect x="501.6" y="166.31" width="18.48" height="22.04" fill="#3aba76"/>
<rect x="501.6" y="144.56" width="18.48" height="22.04" fill="#56c667"/>
<rect x="501.6" y="122.82" width="18.48" height="22.04" fill="#77d153"/>
<rect x="501.6" y="101.08" width="18.48" height="22.04" fill="#9dd93b"/>
<rect x="501.6" y="79.34" width="18.48" height="22.04" fill="#c5e021"/>
<rect x="501.6" y="57.6" width="18.48" height="22.04" fill="#ece51b"/>
</g>
<path d="M107.5 58.5H477.5V427.5H107.5ZM502.5 58.5H520.5V427.5H502.5ZM144.5 428v4.5M218.5 428v4.5M292.5 428v4.5M366.5 428v4.5M440.5 428v4.5M107 95.5h-4.5M107 168.5h-4.5M107 242.5h-4.5M107 316.5h-4.5M107 390.5h-4.5M521 79.5h4.5M521 123.5h4.5M521 166.5h4.5M521 210.5h4.5M521 253.5h4.5M521 297.5h4.5M521 340.5h4.5M521 384.5h4.5M521 427.5h4.5" stroke="#000" stroke-width="1.06" fill="none"/>
<text transform="translate(183.31 49.27) scale(1.0829 1)" font-size="17.33">Magnetic</text>
<text transform="translate(264.73 49.27) scale(1.0834 1)" font-size="17.33">sphere:</text>
<text transform="translate(332.63 49.27) scale(1.1288 1)" font-size="17.33">R=</text>
<text transform="translate(358.18 49.27) scale(1.0948 1)" font-size="17.33">2500</text>
<g transform="translate(267.83 470.82)"><text transform="translate(0.92 -0.04) scale(1.0278 1)" font-size="13.98" font-style="italic">Q</text><text transform="translate(11.59 2.8) scale(0.928 1)" font-size="10.6" font-style="italic">x</text><text transform="translate(18.2 1.65) scale(1.0482 1)" font-size="15.8">/</text><text transform="translate(22.84 0) scale(0.8848 1)" font-size="14.67" font-style="italic">Å</text><text transform="translate(33.63 -2.9) scale(0.6848 1)" font-size="16.83">−</text><text transform="translate(40.65 -5) scale(0.9825 1)" font-size="11.17">2</text></g>
<g transform="translate(62.85 267.01) rotate(-90)"><text transform="translate(0.92 -0.04) scale(1.0278 1)" font-size="13.98" font-style="italic">Q</text><text transform="translate(11.77 2.87) scale(0.9361 1)" font-size="10.74" font-style="italic">y</text><text transform="translate(18.2 1.65) scale(1.0482 1)" font-size="15.8">/</text><text transform="translate(22.84 0) scale(0.8848 1)" font-size="14.67" font-style="italic">Å</text><text transform="translate(33.63 -2.9) scale(0.6848 1)" font-size="16.83">−</text><text transform="translate(40.65 -5) scale(0.9825 1)" font-size="11.17">2</text></g>
<text transform="translate(134.77 447.58) scale(1.1102 1)" font-size="14.44">−4</text>
<text transform="translate(208.82 448.28) scale(1.0927 1)" font-size="14.44">−2</text>
<text transform="translate(289.3 447.62) scale(1.0124 1)" font-size="14.44">0</text>
<text transform="translate(362.25 448.28) scale(0.9417 1)" font-size="14.44">2</text>
<text transform="translate(436.35 448.04) scale(0.997 1)" font-size="14.44">4</text>
<text transform="translate(78.77 396.05) scale(1.1121 1)" font-size="14.44">−4</text>
<text transform="translate(78.55 321.84) scale(1.103 1)" font-size="14.44">−2</text>
<text transform="translate(90.36 247.83) scale(0.9963 1)" font-size="14.44">0</text>
<text transform="translate(89.28 174.03) scale(0.9521 1)" font-size="14.44">2</text>
<text transform="translate(89.37 100.22) scale(0.9747 1)" font-size="14.44">4</text>
<text transform="translate(531.21 432.97) scale(1.0342 1)" font-size="14.44">0.00</text>
<text transform="translate(531.24 388.71) scale(1.0455 1)" font-size="14.44">0.16</text>
<text transform="translate(531.33 346.06) scale(1.016 1)" font-size="14.44">0.32</text>
<text transform="translate(531.28 301.5) scale(1.0357 1)" font-size="14.44">0.48</text>
<text transform="translate(531.31 259.14) scale(1.0341 1)" font-size="14.44">0.64</text>
<text transform="translate(531.27 215.02) scale(1.0393 1)" font-size="14.44">0.80</text>
<text transform="translate(531.24 172.15) scale(1.0455 1)" font-size="14.44">0.96</text>
<text transform="translate(530.6 127.95) scale(1.0147 1)" font-size="14.44">1.12</text>
<text transform="translate(530.56 84.84) scale(1.0333 1)" font-size="14.44">1.28</text>
<text transform="translate(486.68 52.87) scale(1.0562 1)" font-size="14.44">1e11</text>
</g>
<path d="M876 0h1v657h-1zM1752 0h1v657h-1zM2629 0h1v660h-1zM0 657h2630v3H0zM2629 0h877v3h-877z" fill="#000"/>
</svg>
</body></html>
